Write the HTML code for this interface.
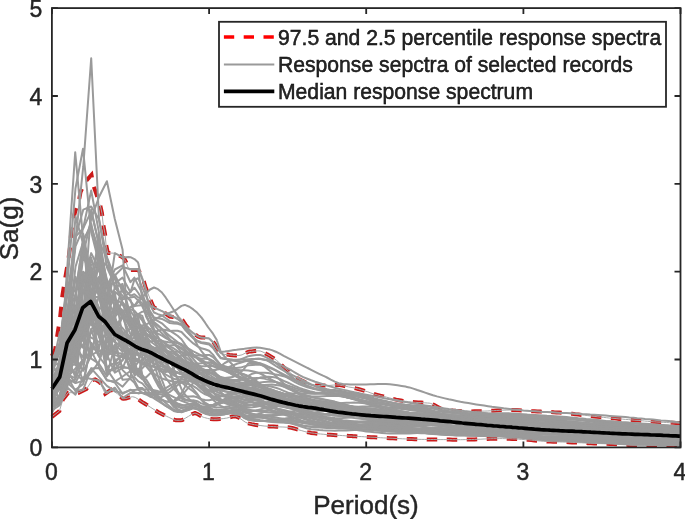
<!DOCTYPE html>
<html><head><meta charset="utf-8"><style>
html,body{margin:0;padding:0;background:#fff;overflow:hidden}
svg{display:block;will-change:transform}
text{font-family:"Liberation Sans",sans-serif;fill:#262626}
.g{fill:none;stroke:#9a9a9a;stroke-width:2;stroke-linejoin:round}
.r{fill:none;stroke:#cc1a1a;stroke-width:4;stroke-dasharray:10.5 9.5}
.g2{fill:none;stroke:#a8a8a8;stroke-width:1.0;stroke-linejoin:round}
.k{fill:none;stroke:#000;stroke-width:3.7;stroke-linejoin:round}
.ax{fill:none;stroke:#262626;stroke-width:1.8}
</style></head><body>
<svg width="685" height="519" viewBox="0 0 685 519">
<rect width="685" height="519" fill="#fff"/>
<g>
<polyline class="r" points="51.9,356.0 55.2,349.4 57.6,333.2 59.9,319.4 62.3,296.3 64.5,282.2 68.2,260.7 70.3,245.3 71.2,231.7 73.3,219.2 75.2,211.5 78.9,200.9 80.5,192.2 84.7,182.5 91.5,174.8 93.4,185.4 96.4,194.1 100.1,204.7 102.0,213.4 103.1,224.0 105.0,233.7 106.0,244.3 107.8,253.0 115.4,253.2 122.6,257.3 124.7,259.4 125.8,261.5 128.9,269.7 129.4,269.9 132.0,269.9 135.2,269.9 138.3,269.9 141.5,274.7 143.0,278.7 144.6,284.0 145.4,286.6 147.8,293.1 150.1,298.9 150.9,301.1 153.4,306.8 154.0,307.3 157.2,309.0 160.3,310.1 162.8,311.2 163.5,311.6 166.6,314.5 169.8,316.5 169.8,316.5 172.9,317.0 176.0,317.2 179.2,317.6 180.1,317.8 182.3,319.9 185.5,324.7 185.5,324.7 188.6,328.3 191.8,331.6 193.6,333.2 194.9,334.2 198.0,336.5 200.4,337.4 201.2,337.5 204.3,337.6 207.5,337.8 208.3,337.8 210.6,339.1 213.8,342.7 214.9,344.2 216.9,348.1 220.1,353.4 220.1,353.4 223.2,354.1 226.3,354.6 228.9,354.8 229.5,354.9 232.6,355.2 235.8,355.4 238.9,355.5 238.9,355.5 242.1,354.8 245.2,353.2 248.3,351.9 249.6,351.6 251.5,351.4 254.6,351.1 257.8,350.9 258.9,350.9 260.9,351.2 264.1,352.6 267.2,354.4 268.0,354.8 270.3,356.1 273.5,358.1 276.6,360.4 276.9,360.7 279.8,363.3 282.9,366.5 282.9,366.5 286.1,369.2 289.2,371.9 291.6,373.8 292.3,374.4 295.5,376.9 297.4,378.2 298.6,378.9 301.8,380.6 304.9,382.1 307.6,383.1 308.1,383.3 311.2,384.4 314.3,385.3 316.4,385.5 317.5,385.5 320.6,385.5 323.8,385.5 326.9,385.5 328.0,385.5 330.1,385.4 333.2,385.1 336.3,384.9 336.8,384.9 339.5,385.1 342.6,385.6 345.8,386.3 348.4,386.9 348.9,387.0 352.1,387.5 355.2,388.2 355.8,388.4 358.3,389.0 361.5,389.9 364.6,390.8 366.0,391.3 367.8,391.8 370.9,393.0 374.1,394.1 374.7,394.2 377.2,394.9 380.3,395.7 383.5,396.4 386.5,397.1 386.6,397.2 389.8,398.0 392.9,398.9 395.3,399.4 396.1,399.6 399.2,400.2 402.3,400.8 405.5,401.3 406.9,401.4 408.6,401.7 411.8,402.0 414.9,402.3 415.7,402.3 418.1,402.5 421.2,402.6 424.3,402.8 427.5,403.0 429.1,403.1 430.6,403.4 433.8,404.8 436.9,406.6 440.1,408.3 443.2,409.3 443.2,409.3 446.3,409.7 449.5,410.1 452.6,410.5 455.8,410.8 458.9,411.0 462.1,411.2 465.2,411.3 468.3,411.4 468.3,411.4 471.5,411.4 474.6,411.3 477.8,411.2 480.9,411.2 483.0,411.1 484.1,411.1 487.2,411.0 490.3,410.8 493.5,410.7 496.6,410.5 499.8,410.3 502.9,410.2 506.1,410.1 509.2,410.0 511.6,410.0 512.3,410.0 515.5,410.1 518.6,410.3 521.8,410.5 524.9,410.8 528.1,411.0 529.6,411.1 531.2,411.2 534.4,411.3 537.5,411.5 540.6,411.6 543.8,411.7 546.9,411.9 550.1,412.0 553.2,412.2 554.0,412.3 556.4,412.4 559.5,412.6 562.6,412.9 565.8,413.2 568.9,413.5 572.1,413.8 575.2,414.2 578.4,414.5 581.5,414.9 584.6,415.2 587.8,415.6 590.9,416.0 594.1,416.4 597.2,416.7 600.4,417.1 603.5,417.4 606.6,417.7 609.8,418.1 611.7,418.2 612.9,418.3 616.1,418.6 619.2,418.9 622.4,419.1 625.5,419.4 628.6,419.6 631.8,419.9 633.0,420.0 634.9,420.2 638.1,420.4 641.2,420.7 644.4,421.0 647.5,421.3 650.6,421.6 653.8,421.8 654.6,421.8 656.9,422.0 660.1,422.2 663.2,422.3 666.4,422.5 669.5,422.7 672.6,422.8 675.8,422.9 678.9,423.0 680.5,423.1"/>
<polyline class="r" points="51.9,416.9 59.4,411.0 62.9,399.5 68.2,392.7 78.8,392.7 86.5,388.9 92.3,380.2 95.1,379.4 100.1,382.5 105.2,393.7 111.3,389.6 117.4,393.7 122.6,398.6 123.6,398.8 125.8,398.5 128.9,397.6 132.0,396.8 132.8,396.8 135.2,397.4 138.3,399.3 141.5,401.6 141.9,401.9 144.6,403.5 147.8,405.5 150.1,407.0 150.9,407.5 154.0,409.5 157.2,411.5 158.4,412.3 160.3,413.3 163.5,414.9 166.6,416.3 168.5,417.2 169.8,417.8 172.9,419.3 176.0,420.3 176.7,420.3 179.2,420.3 180.8,420.3 182.3,420.0 185.5,418.1 187.0,417.2 188.6,416.3 191.8,414.2 194.9,413.1 195.1,413.1 198.0,414.2 201.2,416.2 203.2,417.2 204.3,417.5 207.5,418.4 210.6,419.1 213.5,419.3 213.8,419.3 216.9,419.2 220.1,418.9 223.2,418.6 225.9,418.2 226.3,418.2 229.5,417.4 232.6,416.5 235.0,416.2 235.8,416.3 238.9,417.6 242.1,419.9 245.2,422.1 247.9,423.3 248.3,423.4 251.5,424.1 254.6,424.7 257.8,425.2 260.9,425.6 264.1,426.0 267.2,426.2 269.4,426.4 270.3,426.5 273.5,426.6 276.6,426.8 279.8,426.9 282.9,427.0 286.1,427.2 287.6,427.3 289.2,427.4 292.3,428.0 295.5,428.8 298.6,429.8 301.8,430.7 304.9,431.6 308.1,432.4 309.6,432.6 311.2,432.9 314.3,433.3 317.5,433.7 320.6,434.0 323.8,434.3 326.9,434.6 328.0,434.7 330.1,434.8 333.2,435.0 336.3,435.3 339.5,435.4 342.6,435.6 345.8,435.8 348.9,436.0 352.1,436.1 352.5,436.2 355.2,436.3 358.3,436.5 361.5,436.6 364.6,436.8 367.8,437.0 370.9,437.2 374.1,437.3 377.2,437.5 380.3,437.7 383.5,437.9 386.6,438.0 389.8,438.2 392.9,438.3 396.1,438.5 399.2,438.6 402.3,438.8 405.5,438.9 408.6,439.0 411.8,439.1 414.9,439.2 418.1,439.3 421.2,439.4 424.3,439.4 427.5,439.5 429.1,439.5 430.6,439.5 433.8,439.5 436.9,439.6 440.1,439.6 443.2,439.6 446.3,439.6 449.5,439.6 452.6,439.7 455.8,439.7 458.9,439.7 460.5,439.7 462.1,439.7 465.2,439.6 468.3,439.6 471.5,439.5 474.6,439.4 477.8,439.3 480.9,439.2 484.1,439.0 487.2,438.9 490.3,438.8 493.5,438.7 496.6,438.7 499.8,438.6 502.6,438.6 502.9,438.6 506.1,438.7 509.2,438.7 512.3,438.9 515.5,439.0 518.6,439.2 521.8,439.4 524.9,439.6 525.7,439.7 528.1,439.8 531.2,440.1 534.4,440.4 537.5,440.7 540.6,441.1 543.8,441.3 546.9,441.5 546.9,441.5 550.1,441.6 553.2,441.8 556.4,441.8 559.5,441.9 562.6,442.0 565.8,442.1 568.9,442.2 568.9,442.2 572.1,442.4 575.2,442.5 578.4,442.7 581.5,442.8 584.6,443.0 587.8,443.2 590.1,443.3 590.9,443.3 594.1,443.4 597.2,443.5 600.4,443.6 603.5,443.7 606.6,443.8 609.8,443.9 611.4,444.0 612.9,444.0 616.1,444.2 619.2,444.4 622.4,444.6 625.5,444.8 628.6,445.0 631.8,445.1 633.2,445.1 634.9,445.1 638.1,445.2 641.2,445.2 644.4,445.3 647.5,445.3 650.6,445.3 653.8,445.4 654.6,445.4 656.9,445.4 660.1,445.5 663.2,445.5 666.4,445.6 669.5,445.6 672.6,445.7 675.8,445.7 678.9,445.8 680.5,445.8"/>
<polyline class="g2" points="100.1,204.7 102.0,213.4 103.1,224.0 105.0,233.7 106.0,244.3 107.8,253.0 115.4,253.2 122.6,257.3 124.7,259.4 125.8,261.5 128.9,269.7 129.4,269.9 132.0,269.9 135.2,269.9 138.3,269.9 141.5,274.7 143.0,278.7 144.6,284.0 145.4,286.6 147.8,293.1 150.1,298.9 150.9,301.1 153.4,306.8 154.0,307.3 157.2,309.0 160.3,310.1 162.8,311.2 163.5,311.6 166.6,314.5 169.8,316.5 169.8,316.5 172.9,317.0 176.0,317.2 179.2,317.6 180.1,317.8 182.3,319.9 185.5,324.7 185.5,324.7 188.6,328.3 191.8,331.6 193.6,333.2 194.9,334.2 198.0,336.5 200.4,337.4 201.2,337.5 204.3,337.6 207.5,337.8 208.3,337.8 210.6,339.1 213.8,342.7 214.9,344.2 216.9,348.1 220.1,353.4 220.1,353.4 223.2,354.1 226.3,354.6 228.9,354.8 229.5,354.9 232.6,355.2 235.8,355.4 238.9,355.5 238.9,355.5 242.1,354.8 245.2,353.2 248.3,351.9 249.6,351.6 251.5,351.4 254.6,351.1 257.8,350.9 258.9,350.9 260.9,351.2 264.1,352.6 267.2,354.4 268.0,354.8 270.3,356.1 273.5,358.1 276.6,360.4 276.9,360.7 279.8,363.3 282.9,366.5 282.9,366.5 286.1,369.2 289.2,371.9 291.6,373.8 292.3,374.4 295.5,376.9 297.4,378.2 298.6,378.9 301.8,380.6 304.9,382.1 307.6,383.1 308.1,383.3 311.2,384.4 314.3,385.3 316.4,385.5 317.5,385.5 320.6,385.5 323.8,385.5 326.9,385.5 328.0,385.5 330.1,385.4 333.2,385.1 336.3,384.9 336.8,384.9 339.5,385.1 342.6,385.6 345.8,386.3 348.4,386.9 348.9,387.0 352.1,387.5 355.2,388.2 355.8,388.4 358.3,389.0 361.5,389.9 364.6,390.8 366.0,391.3 367.8,391.8 370.9,393.0 374.1,394.1 374.7,394.2 377.2,394.9 380.3,395.7 383.5,396.4 386.5,397.1 386.6,397.2 389.8,398.0 392.9,398.9 395.3,399.4 396.1,399.6 399.2,400.2 402.3,400.8 405.5,401.3 406.9,401.4 408.6,401.7 411.8,402.0 414.9,402.3 415.7,402.3 418.1,402.5 421.2,402.6 424.3,402.8 427.5,403.0 429.1,403.1 430.6,403.4 433.8,404.8 436.9,406.6 440.1,408.3 443.2,409.3 443.2,409.3 446.3,409.7 449.5,410.1 452.6,410.5 455.8,410.8 458.9,411.0 462.1,411.2 465.2,411.3 468.3,411.4 468.3,411.4 471.5,411.4 474.6,411.3 477.8,411.2 480.9,411.2 483.0,411.1 484.1,411.1 487.2,411.0 490.3,410.8 493.5,410.7 496.6,410.5 499.8,410.3 502.9,410.2 506.1,410.1 509.2,410.0 511.6,410.0 512.3,410.0 515.5,410.1 518.6,410.3 521.8,410.5 524.9,410.8 528.1,411.0 529.6,411.1 531.2,411.2 534.4,411.3 537.5,411.5 540.6,411.6 543.8,411.7 546.9,411.9 550.1,412.0 553.2,412.2 554.0,412.3 556.4,412.4 559.5,412.6 562.6,412.9 565.8,413.2 568.9,413.5 572.1,413.8 575.2,414.2 578.4,414.5 581.5,414.9 584.6,415.2 587.8,415.6 590.9,416.0 594.1,416.4 597.2,416.7 600.4,417.1 603.5,417.4 606.6,417.7 609.8,418.1 611.7,418.2 612.9,418.3 616.1,418.6 619.2,418.9 622.4,419.1 625.5,419.4 628.6,419.6 631.8,419.9 633.0,420.0 634.9,420.2 638.1,420.4 641.2,420.7 644.4,421.0 647.5,421.3 650.6,421.6 653.8,421.8 654.6,421.8 656.9,422.0 660.1,422.2 663.2,422.3 666.4,422.5 669.5,422.7 672.6,422.8 675.8,422.9 678.9,423.0 680.5,423.1"/>
<polyline class="g2" points="51.9,416.9 59.4,411.0 62.9,399.5 68.2,392.7 78.8,392.7 86.5,388.9 92.3,380.2 95.1,379.4 100.1,382.5 105.2,393.7 111.3,389.6 117.4,393.7 122.6,398.6 123.6,398.8 125.8,398.5 128.9,397.6 132.0,396.8 132.8,396.8 135.2,397.4 138.3,399.3 141.5,401.6 141.9,401.9 144.6,403.5 147.8,405.5 150.1,407.0 150.9,407.5 154.0,409.5 157.2,411.5 158.4,412.3 160.3,413.3 163.5,414.9 166.6,416.3 168.5,417.2 169.8,417.8 172.9,419.3 176.0,420.3 176.7,420.3 179.2,420.3 180.8,420.3 182.3,420.0 185.5,418.1 187.0,417.2 188.6,416.3 191.8,414.2 194.9,413.1 195.1,413.1 198.0,414.2 201.2,416.2 203.2,417.2 204.3,417.5 207.5,418.4 210.6,419.1 213.5,419.3 213.8,419.3 216.9,419.2 220.1,418.9 223.2,418.6 225.9,418.2 226.3,418.2 229.5,417.4 232.6,416.5 235.0,416.2 235.8,416.3 238.9,417.6 242.1,419.9 245.2,422.1 247.9,423.3 248.3,423.4 251.5,424.1 254.6,424.7 257.8,425.2 260.9,425.6 264.1,426.0 267.2,426.2 269.4,426.4 270.3,426.5 273.5,426.6 276.6,426.8 279.8,426.9 282.9,427.0 286.1,427.2 287.6,427.3 289.2,427.4 292.3,428.0 295.5,428.8 298.6,429.8 301.8,430.7 304.9,431.6 308.1,432.4 309.6,432.6 311.2,432.9 314.3,433.3 317.5,433.7 320.6,434.0 323.8,434.3 326.9,434.6 328.0,434.7 330.1,434.8 333.2,435.0 336.3,435.3 339.5,435.4 342.6,435.6 345.8,435.8 348.9,436.0 352.1,436.1 352.5,436.2 355.2,436.3 358.3,436.5 361.5,436.6 364.6,436.8 367.8,437.0 370.9,437.2 374.1,437.3 377.2,437.5 380.3,437.7 383.5,437.9 386.6,438.0 389.8,438.2 392.9,438.3 396.1,438.5 399.2,438.6 402.3,438.8 405.5,438.9 408.6,439.0 411.8,439.1 414.9,439.2 418.1,439.3 421.2,439.4 424.3,439.4 427.5,439.5 429.1,439.5 430.6,439.5 433.8,439.5 436.9,439.6 440.1,439.6 443.2,439.6 446.3,439.6 449.5,439.6 452.6,439.7 455.8,439.7 458.9,439.7 460.5,439.7 462.1,439.7 465.2,439.6 468.3,439.6 471.5,439.5 474.6,439.4 477.8,439.3 480.9,439.2 484.1,439.0 487.2,438.9 490.3,438.8 493.5,438.7 496.6,438.7 499.8,438.6 502.6,438.6 502.9,438.6 506.1,438.7 509.2,438.7 512.3,438.9 515.5,439.0 518.6,439.2 521.8,439.4 524.9,439.6 525.7,439.7 528.1,439.8 531.2,440.1 534.4,440.4 537.5,440.7 540.6,441.1 543.8,441.3 546.9,441.5 546.9,441.5 550.1,441.6 553.2,441.8 556.4,441.8 559.5,441.9 562.6,442.0 565.8,442.1 568.9,442.2 568.9,442.2 572.1,442.4 575.2,442.5 578.4,442.7 581.5,442.8 584.6,443.0 587.8,443.2 590.1,443.3 590.9,443.3 594.1,443.4 597.2,443.5 600.4,443.6 603.5,443.7 606.6,443.8 609.8,443.9 611.4,444.0 612.9,444.0 616.1,444.2 619.2,444.4 622.4,444.6 625.5,444.8 628.6,445.0 631.8,445.1 633.2,445.1 634.9,445.1 638.1,445.2 641.2,445.2 644.4,445.3 647.5,445.3 650.6,445.3 653.8,445.4 654.6,445.4 656.9,445.4 660.1,445.5 663.2,445.5 666.4,445.6 669.5,445.6 672.6,445.7 675.8,445.7 678.9,445.8 680.5,445.8"/>
<polyline class="g" points="51.9,369.7 59.8,352.8 67.6,335.3 75.5,276.8 83.3,306.2 91.2,264.6 99.0,262.5 106.9,335.1 114.8,321.8 122.6,332.0 130.5,340.9 134.4,343.9 138.3,347.0 142.3,346.7 146.2,349.7 150.1,346.6 154.0,347.4 158.0,348.1 161.9,348.9 165.8,350.4 169.8,352.2 173.7,353.9 177.6,356.0 181.5,358.9 185.5,362.9 189.4,367.1 193.3,371.7 197.3,376.5 201.2,382.7 205.1,389.0 209.1,394.9 213.0,399.7 216.9,403.3 220.8,405.9 224.8,407.6 228.7,408.6 232.6,408.8 236.6,409.6 240.5,412.0 244.4,414.8 248.3,416.5 252.3,417.1 256.2,417.4 260.1,417.4 264.1,417.2 268.0,416.8 271.9,416.2 275.8,415.5 279.8,414.8 283.7,414.2 287.6,413.6 291.6,413.3 295.5,413.3 299.4,413.4 303.3,413.6 307.3,413.7 311.2,413.7 315.1,413.8 319.1,414.0 323.0,414.4 326.9,414.7 330.8,415.1 334.8,415.4 338.7,415.6 342.6,415.8 346.6,416.0 350.5,416.1 354.4,416.1 358.3,416.2 362.3,416.2 366.2,416.1 370.1,416.1 374.1,415.9 378.0,416.0 381.9,416.0 385.8,416.1 389.8,416.2 393.7,416.3 397.6,416.4 401.6,416.5 405.5,416.5 409.4,416.6 413.3,416.7 417.3,416.7 421.2,416.8 425.1,416.9 429.1,417.0 433.0,417.3 436.9,417.8 440.8,418.3 444.8,418.6 448.7,418.9 452.6,419.1 456.6,419.4 460.5,419.6 464.4,419.9 468.3,420.0 472.3,420.2 476.2,420.3 480.1,420.5 484.1,420.6 488.0,420.7 491.9,420.8 495.8,420.9 499.8,421.1 503.7,421.2 507.6,421.4 511.6,421.6 515.5,421.9 519.4,422.2 523.4,422.6 527.3,422.9 531.2,423.3 535.1,423.7 539.1,424.0 543.0,424.4 546.9,424.7 550.9,425.0 554.8,425.3 558.7,425.6 562.6,426.0 566.6,426.3 570.5,426.6 574.4,426.9 578.4,427.3 582.3,427.6 586.2,427.9 590.1,428.3 594.1,428.6 598.0,429.0 601.9,429.3 605.9,429.6 609.8,429.9 613.7,430.2 617.6,430.4 621.6,430.7 625.5,430.9 629.4,431.1 633.4,431.3 637.3,431.5 641.2,431.7 645.1,431.9 649.1,432.2 653.0,432.4 656.9,432.5 660.9,432.7 664.8,432.9 668.7,433.1 672.6,433.3 676.6,433.5 680.5,433.7"/>
<polyline class="g" points="51.9,373.5 59.8,344.5 67.6,282.1 75.5,292.0 83.3,240.7 91.2,299.1 99.0,234.2 106.9,284.1 114.8,283.3 122.6,277.6 130.5,292.3 134.4,279.7 138.3,278.2 142.3,287.7 146.2,296.3 150.1,305.0 154.0,312.5 158.0,314.2 161.9,315.5 165.8,318.3 169.8,321.1 173.7,321.9 177.6,322.6 181.5,324.4 185.5,329.9 189.4,334.3 193.3,338.2 197.3,341.4 201.2,343.1 205.1,343.7 209.1,344.5 213.0,347.9 216.9,353.5 220.8,358.3 224.8,359.0 228.7,359.3 232.6,359.6 236.6,359.8 240.5,359.5 244.4,357.9 248.3,356.2 252.3,355.5 256.2,355.0 260.1,354.9 264.1,356.3 268.0,358.3 271.9,360.4 275.8,363.0 279.8,366.4 283.7,370.1 287.6,373.4 291.6,376.6 295.5,379.7 299.4,382.3 303.3,384.4 307.3,386.2 311.2,387.8 315.1,389.0 319.1,389.5 323.0,390.0 326.9,390.4 330.8,390.8 334.8,391.0 338.7,391.4 342.6,392.2 346.6,393.1 350.5,393.9 354.4,394.6 358.3,395.4 362.3,396.3 366.2,397.3 370.1,398.3 374.1,399.3 378.0,400.1 381.9,400.8 385.8,401.5 389.8,402.3 393.7,403.1 397.6,403.7 401.6,404.3 405.5,404.8 409.4,405.1 413.3,405.4 417.3,405.7 421.2,405.9 425.1,406.1 429.1,406.3 433.0,407.4 436.9,409.1 440.8,410.8 444.8,411.6 448.7,412.1 452.6,412.5 456.6,412.9 460.5,413.2 464.4,413.4 468.3,413.5 472.3,413.6 476.2,413.6 480.1,413.6 484.1,413.6 488.0,413.6 491.9,413.5 495.8,413.4 499.8,413.3 503.7,413.3 507.6,413.3 511.6,413.4 515.5,413.6 519.4,413.9 523.4,414.2 527.3,414.6 531.2,414.9 535.1,415.1 539.1,415.3 543.0,415.5 546.9,415.8 550.9,416.0 554.8,416.2 558.7,416.5 562.6,416.8 566.6,417.1 570.5,417.4 574.4,417.8 578.4,418.2 582.3,418.5 586.2,419.0 590.1,419.3 594.1,419.7 598.0,420.1 601.9,420.5 605.9,420.9 609.8,421.2 613.7,421.6 617.6,421.9 621.6,422.2 625.5,422.4 629.4,422.7 633.4,423.0 637.3,423.4 641.2,423.7 645.1,424.0 649.1,424.4 653.0,424.7 656.9,424.9 660.9,425.2 664.8,425.5 668.7,425.7 672.6,426.0 676.6,426.2 680.5,426.4"/>
<polyline class="g" points="51.9,371.7 59.8,348.9 67.6,293.1 75.5,236.9 83.3,228.2 91.2,211.3 99.0,244.6 106.9,286.4 114.8,269.5 122.6,265.4 130.5,282.2 134.4,277.6 138.3,285.6 142.3,293.3 146.2,304.9 150.1,317.8 154.0,328.9 158.0,336.6 161.9,344.0 165.8,351.1 169.8,356.9 173.7,361.6 177.6,365.3 181.5,368.6 185.5,371.3 189.4,373.1 193.3,374.6 197.3,376.2 201.2,377.2 205.1,377.9 209.1,378.3 213.0,378.8 216.9,379.4 220.8,380.1 224.8,380.1 228.7,380.0 232.6,380.0 236.6,380.0 240.5,379.9 244.4,379.3 248.3,378.6 252.3,378.3 256.2,378.1 260.1,378.0 264.1,378.6 268.0,379.6 271.9,380.6 275.8,382.0 279.8,383.7 283.7,385.7 287.6,387.6 291.6,389.4 295.5,391.3 299.4,392.9 303.3,394.4 307.3,395.6 311.2,396.8 315.1,397.9 319.1,398.7 323.0,399.5 326.9,400.4 330.8,401.3 334.8,402.2 338.7,403.1 342.6,404.1 346.6,405.2 350.5,406.2 354.4,407.1 358.3,408.1 362.3,409.0 366.2,409.8 370.1,410.6 374.1,411.4 378.0,412.0 381.9,412.6 385.8,413.1 389.8,413.6 393.7,414.1 397.6,414.6 401.6,415.0 405.5,415.4 409.4,415.8 413.3,416.1 417.3,416.4 421.2,416.8 425.1,417.1 429.1,417.4 433.0,417.9 436.9,418.4 440.8,419.0 444.8,419.4 448.7,419.8 452.6,420.1 456.6,420.3 460.5,420.6 464.4,420.8 468.3,421.0 472.3,421.1 476.2,421.2 480.1,421.2 484.1,421.2 488.0,421.1 491.9,421.0 495.8,420.8 499.8,420.7 503.7,420.5 507.6,420.2 511.6,420.1 515.5,419.9 519.4,419.8 523.4,419.8 527.3,419.7 531.2,419.7 535.1,419.6 539.1,419.5 543.0,419.4 546.9,419.3 550.9,419.3 554.8,419.2 558.7,419.2 562.6,419.3 566.6,419.4 570.5,419.5 574.4,419.6 578.4,419.8 582.3,420.1 586.2,420.3 590.1,420.6 594.1,420.9 598.0,421.2 601.9,421.5 605.9,421.7 609.8,422.0 613.7,422.3 617.6,422.5 621.6,422.8 625.5,423.0 629.4,423.2 633.4,423.5 637.3,423.7 641.2,424.0 645.1,424.3 649.1,424.6 653.0,424.9 656.9,425.1 660.9,425.3 664.8,425.5 668.7,425.7 672.6,425.9 676.6,426.1 680.5,426.2"/>
<polyline class="g" points="51.9,398.9 59.8,358.7 67.6,361.8 75.5,322.2 83.3,275.1 91.2,289.6 99.0,313.1 106.9,324.4 114.8,330.7 122.6,351.3 130.5,335.3 134.4,369.9 138.3,369.6 142.3,378.1 146.2,384.2 150.1,388.9 154.0,394.5 158.0,399.1 161.9,402.8 165.8,405.9 169.8,408.5 173.7,411.0 177.6,412.1 181.5,412.1 185.5,410.0 189.4,407.5 193.3,405.1 197.3,404.8 201.2,406.2 205.1,406.5 209.1,406.0 213.0,405.0 216.9,403.2 220.8,401.1 224.8,398.8 228.7,396.6 232.6,394.5 236.6,392.8 240.5,391.5 244.4,390.3 248.3,389.1 252.3,387.9 256.2,386.7 260.1,385.6 264.1,385.0 268.0,384.7 271.9,384.6 275.8,384.9 279.8,385.5 283.7,386.5 287.6,387.6 291.6,388.7 295.5,389.9 299.4,390.9 303.3,391.8 307.3,392.5 311.2,393.1 315.1,393.6 319.1,393.7 323.0,393.7 326.9,393.9 330.8,394.0 334.8,394.0 338.7,394.3 342.6,395.0 346.6,395.9 350.5,396.8 354.4,397.8 358.3,398.9 362.3,400.1 366.2,401.4 370.1,402.9 374.1,404.3 378.0,405.5 381.9,406.7 385.8,407.8 389.8,409.1 393.7,410.3 397.6,411.4 401.6,412.4 405.5,413.4 409.4,414.4 413.3,415.3 417.3,416.2 421.2,417.2 425.1,418.1 429.1,419.1 433.0,420.1 436.9,421.9 440.8,423.7 444.8,425.2 448.7,426.7 452.6,427.9 456.6,429.1 460.5,430.1 464.4,431.0 468.3,431.7 472.3,432.3 476.2,432.8 480.1,433.2 484.1,433.5 488.0,433.8 491.9,434.1 495.8,434.3 499.8,434.5 503.7,434.7 507.6,435.0 511.6,435.3 515.5,435.6 519.4,436.0 523.4,436.3 527.3,436.6 531.2,437.0 535.1,437.4 539.1,437.9 543.0,438.2 546.9,438.5 550.9,438.7 554.8,438.8 558.7,438.9 562.6,439.0 566.6,439.1 570.5,439.2 574.4,439.3 578.4,439.5 582.3,439.7 586.2,439.8 590.1,440.0 594.1,440.1 598.0,440.1 601.9,440.2 605.9,440.2 609.8,440.3 613.7,440.4 617.6,440.6 621.6,440.7 625.5,440.9 629.4,441.0 633.4,441.0 637.3,441.0 641.2,440.9 645.1,440.8 649.1,440.7 653.0,440.6 656.9,440.5 660.9,440.4 664.8,440.4 668.7,440.3 672.6,440.2 676.6,440.1 680.5,440.1"/>
<polyline class="g" points="51.9,397.0 59.8,388.8 67.6,383.8 75.5,379.4 83.3,304.5 91.2,317.6 99.0,356.5 106.9,367.1 114.8,362.8 122.6,353.5 130.5,367.2 134.4,361.8 138.3,358.8 142.3,363.7 146.2,366.4 150.1,371.2 154.0,376.8 158.0,381.6 161.9,386.9 165.8,392.4 169.8,397.7 173.7,402.8 177.6,406.1 181.5,408.0 185.5,407.3 189.4,406.0 193.3,404.4 197.3,404.6 201.2,406.4 205.1,407.0 209.1,406.7 213.0,405.7 216.9,404.0 220.8,402.0 224.8,400.1 228.7,398.3 232.6,396.8 236.6,396.3 240.5,396.7 244.4,397.6 248.3,398.4 252.3,399.2 256.2,400.1 260.1,401.2 264.1,402.5 268.0,403.7 271.9,404.7 275.8,405.5 279.8,406.2 283.7,406.6 287.6,406.9 291.6,407.1 295.5,407.1 299.4,406.9 303.3,406.5 307.3,406.5 311.2,406.4 315.1,406.5 319.1,406.5 323.0,406.7 326.9,407.0 330.8,407.4 334.8,407.7 338.7,408.2 342.6,408.9 346.6,409.7 350.5,410.6 354.4,411.5 358.3,412.6 362.3,413.7 366.2,414.8 370.1,416.1 374.1,417.9 378.0,419.7 381.9,421.4 385.8,423.0 389.8,424.6 393.7,426.0 397.6,427.3 401.6,428.5 405.5,429.5 409.4,430.4 413.3,431.2 417.3,431.9 421.2,432.5 425.1,433.1 429.1,433.5 433.0,433.9 436.9,434.2 440.8,434.5 444.8,434.8 448.7,435.0 452.6,435.2 456.6,435.4 460.5,435.5 464.4,435.6 468.3,435.7 472.3,435.7 476.2,435.7 480.1,435.6 484.1,435.6 488.0,435.5 491.9,435.5 495.8,435.5 499.8,435.5 503.7,435.6 507.6,435.7 511.6,435.9 515.5,436.2 519.4,436.5 523.4,436.7 527.3,437.0 531.2,437.4 535.1,437.8 539.1,438.3 543.0,438.7 546.9,438.9 550.9,439.1 554.8,439.3 558.7,439.4 562.6,439.6 566.6,439.7 570.5,439.9 574.4,440.1 578.4,440.3 582.3,440.6 586.2,440.8 590.1,441.0 594.1,441.2 598.0,441.4 601.9,441.6 605.9,441.7 609.8,441.9 613.7,442.1 617.6,442.4 621.6,442.7 625.5,443.0 629.4,443.3 633.4,443.5 637.3,443.6 641.2,443.7 645.1,443.8 649.1,443.8 653.0,443.9 656.9,444.0 660.9,444.1 664.8,444.2 668.7,444.4 672.6,444.5 676.6,444.6 680.5,444.7"/>
<polyline class="g" points="51.9,376.7 59.8,378.1 67.6,366.2 75.5,337.9 83.3,240.1 91.2,308.2 99.0,326.1 106.9,351.4 114.8,318.4 122.6,299.4 130.5,297.5 134.4,296.7 138.3,300.6 142.3,306.3 146.2,314.7 150.1,323.4 154.0,331.9 158.0,337.4 161.9,343.0 165.8,348.9 169.8,354.5 173.7,359.6 177.6,364.8 181.5,371.7 185.5,379.0 189.4,384.7 193.3,389.2 197.3,394.0 201.2,399.5 205.1,404.0 209.1,407.6 213.0,410.2 216.9,411.7 220.8,412.7 224.8,413.2 228.7,413.1 232.6,412.6 236.6,412.9 240.5,415.2 244.4,418.1 248.3,419.8 252.3,420.5 256.2,420.9 260.1,421.1 264.1,421.1 268.0,421.0 271.9,420.6 275.8,420.1 279.8,419.5 283.7,418.8 287.6,418.2 291.6,417.7 295.5,417.5 299.4,417.4 303.3,417.3 307.3,417.1 311.2,416.9 315.1,416.7 319.1,416.7 323.0,417.0 326.9,417.5 330.8,418.2 334.8,419.0 338.7,419.8 342.6,420.7 346.6,421.6 350.5,422.6 354.4,423.5 358.3,424.4 362.3,425.3 366.2,426.1 370.1,426.9 374.1,427.6 378.0,428.2 381.9,428.8 385.8,429.3 389.8,429.7 393.7,430.1 397.6,430.5 401.6,430.8 405.5,431.0 409.4,431.2 413.3,431.4 417.3,431.5 421.2,431.6 425.1,431.7 429.1,431.8 433.0,431.8 436.9,431.8 440.8,431.9 444.8,431.9 448.7,432.0 452.6,432.0 456.6,432.1 460.5,432.1 464.4,432.2 468.3,432.2 472.3,432.2 476.2,432.2 480.1,432.1 484.1,432.1 488.0,432.1 491.9,432.0 495.8,432.0 499.8,432.0 503.7,432.0 507.6,432.1 511.6,432.3 515.5,432.4 519.4,432.5 523.4,432.7 527.3,432.8 531.2,433.0 535.1,433.1 539.1,433.2 543.0,433.3 546.9,433.3 550.9,433.2 554.8,433.0 558.7,432.8 562.6,432.6 566.6,432.3 570.5,432.1 574.4,431.8 578.4,431.5 582.3,431.4 586.2,431.3 590.1,431.3 594.1,431.2 598.0,431.2 601.9,431.2 605.9,431.2 609.8,431.2 613.7,431.2 617.6,431.2 621.6,431.3 625.5,431.3 629.4,431.4 633.4,431.4 637.3,431.5 641.2,431.6 645.1,431.8 649.1,431.9 653.0,432.1 656.9,432.3 660.9,432.5 664.8,432.7 668.7,432.9 672.6,433.1 676.6,433.4 680.5,433.6"/>
<polyline class="g" points="51.9,372.9 59.8,385.6 67.6,313.4 75.5,358.0 83.3,382.2 91.2,342.8 99.0,356.4 106.9,342.6 114.8,320.0 122.6,328.2 130.5,338.1 134.4,315.5 138.3,314.2 142.3,315.9 146.2,328.0 150.1,333.8 154.0,340.8 158.0,346.8 161.9,353.3 165.8,360.0 169.8,371.8 173.7,382.6 177.6,391.0 181.5,396.9 185.5,399.5 189.4,400.8 193.3,401.4 197.3,403.5 201.2,407.1 205.1,409.7 209.1,411.6 213.0,412.9 216.9,413.5 220.8,413.7 224.8,413.7 228.7,413.3 232.6,412.6 236.6,412.8 240.5,415.0 244.4,417.8 248.3,419.5 252.3,420.2 256.2,420.7 260.1,420.9 264.1,421.0 268.0,421.0 271.9,420.7 275.8,420.3 279.8,419.8 283.7,419.2 287.6,418.6 291.6,418.1 295.5,417.8 299.4,417.4 303.3,416.8 307.3,415.9 311.2,414.5 315.1,413.0 319.1,411.5 323.0,410.0 326.9,409.5 330.8,409.3 334.8,409.0 338.7,408.7 342.6,408.5 346.6,408.4 350.5,408.4 354.4,408.5 358.3,408.6 362.3,408.9 366.2,409.3 370.1,409.7 374.1,410.2 378.0,410.6 381.9,411.1 385.8,411.5 389.8,412.0 393.7,412.5 397.6,412.9 401.6,413.3 405.5,413.7 409.4,414.0 413.3,414.4 417.3,414.6 421.2,414.9 425.1,415.2 429.1,415.5 433.0,416.0 436.9,416.8 440.8,417.5 444.8,418.0 448.7,418.4 452.6,418.7 456.6,419.1 460.5,419.4 464.4,419.7 468.3,420.0 472.3,420.2 476.2,420.5 480.1,420.7 484.1,420.9 488.0,421.1 491.9,421.3 495.8,421.6 499.8,421.8 503.7,422.1 507.6,422.4 511.6,422.8 515.5,423.2 519.4,423.7 523.4,424.2 527.3,424.7 531.2,425.2 535.1,425.8 539.1,426.3 543.0,426.8 546.9,427.3 550.9,427.8 554.8,428.4 558.7,428.9 562.6,429.4 566.6,429.8 570.5,430.3 574.4,430.8 578.4,431.3 582.3,431.8 586.2,432.4 590.1,433.1 594.1,433.7 598.0,434.4 601.9,434.9 605.9,435.5 609.8,436.0 613.7,436.5 617.6,437.1 621.6,437.6 625.5,438.1 629.4,438.6 633.4,438.9 637.3,439.2 641.2,439.4 645.1,439.6 649.1,439.8 653.0,440.0 656.9,440.1 660.9,440.2 664.8,440.4 668.7,440.4 672.6,440.5 676.6,440.6 680.5,440.6"/>
<polyline class="g" points="51.9,366.2 59.8,362.8 67.6,331.6 75.5,320.5 83.3,256.2 91.2,276.7 99.0,241.6 106.9,258.2 114.8,288.0 122.6,295.8 130.5,299.8 134.4,313.5 138.3,317.5 142.3,339.6 146.2,338.0 150.1,345.3 154.0,348.8 158.0,352.3 161.9,355.5 165.8,358.5 169.8,361.4 173.7,364.3 177.6,368.6 181.5,373.0 185.5,376.5 189.4,379.5 193.3,382.0 197.3,384.7 201.2,387.4 205.1,389.3 209.1,390.5 213.0,391.0 216.9,390.8 220.8,390.1 224.8,389.3 228.7,388.4 232.6,388.0 236.6,387.7 240.5,387.2 244.4,386.5 248.3,385.5 252.3,384.4 256.2,383.4 260.1,382.4 264.1,381.9 268.0,381.8 271.9,381.8 275.8,382.1 279.8,382.9 283.7,384.1 287.6,385.4 291.6,386.7 295.5,388.2 299.4,389.4 303.3,390.5 307.3,391.4 311.2,392.2 315.1,392.9 319.1,393.0 323.0,393.2 326.9,393.3 330.8,393.5 334.8,393.5 338.7,393.7 342.6,394.2 346.6,395.0 350.5,395.6 354.4,396.3 358.3,397.1 362.3,398.0 366.2,398.9 370.1,400.0 374.1,401.0 378.0,401.9 381.9,402.6 385.8,403.4 389.8,404.2 393.7,405.1 397.6,405.8 401.6,406.4 405.5,407.0 409.4,407.6 413.3,408.1 417.3,408.5 421.2,408.9 425.1,409.4 429.1,409.9 433.0,411.0 436.9,412.6 440.8,414.1 444.8,414.9 448.7,415.6 452.6,416.2 456.6,416.9 460.5,417.5 464.4,418.0 468.3,418.6 472.3,419.1 476.2,419.6 480.1,420.1 484.1,420.6 488.0,421.1 491.9,421.6 495.8,422.1 499.8,422.7 503.7,423.2 507.6,423.8 511.6,424.4 515.5,425.0 519.4,425.6 523.4,426.2 527.3,426.8 531.2,427.4 535.1,427.9 539.1,428.5 543.0,428.9 546.9,429.4 550.9,429.8 554.8,430.2 558.7,430.6 562.6,431.0 566.6,431.4 570.5,431.8 574.4,432.1 578.4,432.5 582.3,432.9 586.2,433.2 590.1,433.5 594.1,433.8 598.0,434.2 601.9,434.4 605.9,434.7 609.8,434.9 613.7,435.2 617.6,435.4 621.6,435.7 625.5,435.9 629.4,436.1 633.4,436.2 637.3,436.3 641.2,436.4 645.1,436.4 649.1,436.5 653.0,436.5 656.9,436.6 660.9,436.6 664.8,436.6 668.7,436.6 672.6,436.6 676.6,436.6 680.5,436.6"/>
<polyline class="g" points="51.9,413.3 59.8,396.0 67.6,349.7 75.5,337.9 83.3,242.4 91.2,317.9 99.0,348.6 106.9,312.8 114.8,328.3 122.6,316.1 130.5,316.8 134.4,324.4 138.3,322.6 142.3,329.0 146.2,327.0 150.1,333.8 154.0,339.0 158.0,343.4 161.9,347.9 165.8,352.4 169.8,356.4 173.7,359.7 177.6,362.4 181.5,364.9 185.5,367.4 189.4,369.8 193.3,372.7 197.3,375.7 201.2,378.8 205.1,383.1 209.1,387.7 213.0,392.1 216.9,396.0 220.8,399.2 224.8,401.7 228.7,403.5 232.6,404.5 236.6,405.8 240.5,408.4 244.4,411.3 248.3,413.2 252.3,414.1 256.2,414.7 260.1,415.1 264.1,415.2 268.0,415.3 271.9,415.2 275.8,415.0 279.8,414.7 283.7,414.5 287.6,414.3 291.6,414.2 295.5,414.3 299.4,414.4 303.3,414.4 307.3,414.1 311.2,413.5 315.1,412.8 319.1,412.0 323.0,411.2 326.9,410.4 330.8,410.3 334.8,410.2 338.7,410.0 342.6,409.8 346.6,409.8 350.5,409.7 354.4,409.8 358.3,410.0 362.3,410.3 366.2,410.7 370.1,411.2 374.1,411.8 378.0,412.4 381.9,413.0 385.8,413.7 389.8,414.4 393.7,415.1 397.6,415.8 401.6,416.5 405.5,417.2 409.4,417.9 413.3,418.5 417.3,419.7 421.2,420.9 425.1,422.0 429.1,422.9 433.0,423.8 436.9,424.5 440.8,425.1 444.8,425.6 448.7,426.1 452.6,426.4 456.6,426.7 460.5,426.9 464.4,427.0 468.3,427.1 472.3,427.0 476.2,427.0 480.1,426.9 484.1,426.8 488.0,426.7 491.9,426.6 495.8,426.5 499.8,426.4 503.7,426.4 507.6,426.4 511.6,426.5 515.5,426.5 519.4,426.6 523.4,426.7 527.3,426.8 531.2,426.8 535.1,426.9 539.1,427.0 543.0,427.0 546.9,427.1 550.9,427.1 554.8,427.1 558.7,427.2 562.6,427.2 566.6,427.3 570.5,427.4 574.4,427.5 578.4,427.6 582.3,427.7 586.2,427.9 590.1,428.1 594.1,428.3 598.0,428.4 601.9,428.6 605.9,428.8 609.8,429.1 613.7,429.2 617.6,429.4 621.6,429.6 625.5,429.8 629.4,429.9 633.4,430.1 637.3,430.3 641.2,430.5 645.1,430.7 649.1,430.9 653.0,431.1 656.9,431.3 660.9,431.4 664.8,431.6 668.7,431.8 672.6,432.0 676.6,432.2 680.5,432.4"/>
<polyline class="g" points="51.9,397.7 59.8,379.1 67.6,319.9 75.5,334.4 83.3,347.9 91.2,311.2 99.0,330.4 106.9,293.3 114.8,301.1 122.6,314.1 130.5,346.3 134.4,342.2 138.3,333.3 142.3,345.5 146.2,342.9 150.1,345.4 154.0,348.4 158.0,349.4 161.9,350.1 165.8,350.9 169.8,351.6 173.7,351.8 177.6,351.7 181.5,351.9 185.5,353.5 189.4,355.0 193.3,356.5 197.3,358.0 201.2,358.7 205.1,358.7 209.1,359.0 213.0,360.8 216.9,364.1 220.8,367.2 224.8,367.7 228.7,368.3 232.6,368.9 236.6,369.7 240.5,370.3 244.4,370.3 248.3,370.4 252.3,371.2 256.2,372.2 260.1,373.5 264.1,375.5 268.0,377.7 271.9,379.9 275.8,382.0 279.8,384.3 283.7,386.6 287.6,388.6 291.6,390.4 295.5,392.2 299.4,393.7 303.3,394.9 307.3,396.0 311.2,397.0 315.1,397.9 319.1,398.5 323.0,399.2 326.9,400.0 330.8,400.8 334.8,401.6 338.7,402.6 342.6,403.8 346.6,405.0 350.5,406.2 354.4,407.4 358.3,408.7 362.3,409.9 366.2,411.0 370.1,412.2 374.1,413.2 378.0,414.1 381.9,414.9 385.8,415.7 389.8,416.5 393.7,417.3 397.6,418.8 401.6,420.1 405.5,421.4 409.4,422.8 413.3,424.0 417.3,425.2 421.2,426.3 425.1,427.4 429.1,428.4 433.0,429.4 436.9,430.3 440.8,431.1 444.8,431.9 448.7,432.6 452.6,433.3 456.6,433.9 460.5,434.4 464.4,434.9 468.3,435.3 472.3,435.6 476.2,435.8 480.1,436.0 484.1,436.1 488.0,436.2 491.9,436.4 495.8,436.5 499.8,436.6 503.7,436.7 507.6,436.9 511.6,437.2 515.5,437.5 519.4,437.8 523.4,438.1 527.3,438.4 531.2,438.8 535.1,439.2 539.1,439.7 543.0,440.0 546.9,440.3 550.9,440.5 554.8,440.6 558.7,440.7 562.6,440.7 566.6,440.8 570.5,440.9 574.4,441.0 578.4,441.2 582.3,441.3 586.2,441.4 590.1,441.5 594.1,441.5 598.0,441.4 601.9,441.4 605.9,441.3 609.8,441.2 613.7,441.2 617.6,441.1 621.6,441.1 625.5,440.9 629.4,440.8 633.4,440.4 637.3,440.0 641.2,439.5 645.1,438.9 649.1,438.3 653.0,437.6 656.9,437.0 660.9,436.2 664.8,435.5 668.7,435.3 672.6,435.1 676.6,434.9 680.5,434.8"/>
<polyline class="g" points="51.9,406.8 59.8,404.1 67.6,378.6 75.5,383.1 83.3,380.6 91.2,368.6 99.0,368.1 106.9,379.9 114.8,382.5 122.6,393.9 130.5,389.7 134.4,392.2 138.3,393.4 142.3,392.6 146.2,394.0 150.1,395.1 154.0,398.3 158.0,401.0 161.9,403.5 165.8,405.8 169.8,408.0 173.7,410.2 177.6,411.1 181.5,411.2 185.5,409.2 189.4,407.1 193.3,405.2 197.3,405.7 201.2,408.1 205.1,409.7 209.1,410.9 213.0,411.7 216.9,411.8 220.8,411.8 224.8,411.7 228.7,411.2 232.6,410.5 236.6,410.8 240.5,413.0 244.4,415.8 248.3,417.7 252.3,418.7 256.2,419.5 260.1,420.2 264.1,420.7 268.0,421.2 271.9,421.6 275.8,421.9 279.8,422.1 283.7,422.3 287.6,422.5 291.6,423.0 295.5,423.8 299.4,424.8 303.3,425.7 307.3,426.5 311.2,426.9 315.1,427.2 319.1,427.5 323.0,427.7 326.9,427.9 330.8,428.1 334.8,428.2 338.7,428.4 342.6,428.5 346.6,428.7 350.5,428.8 354.4,429.0 358.3,429.1 362.3,429.3 366.2,429.4 370.1,429.6 374.1,429.7 378.0,429.8 381.9,429.8 385.8,429.9 389.8,429.9 393.7,429.9 397.6,429.9 401.6,429.8 405.5,429.7 409.4,429.6 413.3,429.5 417.3,429.3 421.2,429.2 425.1,429.0 429.1,428.9 433.0,428.8 436.9,428.8 440.8,428.8 444.8,428.8 448.7,428.9 452.6,429.1 456.6,429.2 460.5,429.4 464.4,429.6 468.3,429.8 472.3,430.0 476.2,430.2 480.1,430.5 484.1,430.6 488.0,430.8 491.9,431.0 495.8,431.2 499.8,431.5 503.7,431.7 507.6,431.9 511.6,432.2 515.5,432.5 519.4,432.9 523.4,433.2 527.3,433.4 531.2,433.8 535.1,434.1 539.1,434.4 543.0,434.6 546.9,434.7 550.9,434.8 554.8,434.7 558.7,434.7 562.6,434.6 566.6,434.4 570.5,434.3 574.4,434.2 578.4,434.0 582.3,433.8 586.2,433.5 590.1,433.3 594.1,433.0 598.0,432.7 601.9,432.5 605.9,432.5 609.8,432.4 613.7,432.4 617.6,432.3 621.6,432.2 625.5,432.2 629.4,432.2 633.4,432.1 637.3,432.1 641.2,432.2 645.1,432.2 649.1,432.3 653.0,432.4 656.9,432.5 660.9,432.7 664.8,432.8 668.7,433.0 672.6,433.2 676.6,433.5 680.5,433.7"/>
<polyline class="g" points="51.9,398.5 59.8,372.2 67.6,314.9 75.5,294.7 83.3,325.8 91.2,271.5 99.0,280.6 106.9,301.8 114.8,274.5 122.6,291.5 130.5,301.2 134.4,306.1 138.3,300.1 142.3,303.2 146.2,316.9 150.1,324.3 154.0,331.0 158.0,333.7 161.9,335.7 165.8,338.2 169.8,340.4 173.7,341.7 177.6,343.1 181.5,345.4 185.5,349.9 189.4,354.3 193.3,359.0 197.3,363.7 201.2,368.2 205.1,372.7 209.1,377.4 213.0,382.2 216.9,387.2 220.8,392.0 224.8,395.9 228.7,398.9 232.6,401.0 236.6,403.2 240.5,406.4 244.4,410.0 248.3,412.7 252.3,414.4 256.2,415.7 260.1,416.8 264.1,417.7 268.0,418.4 271.9,419.0 275.8,419.3 279.8,419.5 283.7,419.8 287.6,420.0 291.6,420.4 295.5,421.2 299.4,422.1 303.3,422.9 307.3,423.6 311.2,424.0 315.1,424.3 319.1,424.6 323.0,424.9 326.9,425.1 330.8,425.4 334.8,425.6 338.7,425.8 342.6,425.9 346.6,426.0 350.5,426.1 354.4,426.2 358.3,426.2 362.3,426.2 366.2,426.2 370.1,426.1 374.1,425.9 378.0,425.7 381.9,425.3 385.8,424.9 389.8,424.4 393.7,423.8 397.6,423.1 401.6,422.3 405.5,421.3 409.4,420.3 413.3,419.2 417.3,418.5 421.2,418.3 425.1,418.1 429.1,417.9 433.0,417.9 436.9,418.1 440.8,418.4 444.8,418.6 448.7,418.8 452.6,419.0 456.6,419.2 460.5,419.5 464.4,419.7 468.3,419.9 472.3,420.2 476.2,420.4 480.1,420.7 484.1,421.0 488.0,421.3 491.9,421.7 495.8,422.1 499.8,422.5 503.7,423.0 507.6,423.5 511.6,424.1 515.5,424.8 519.4,425.5 523.4,426.2 527.3,426.9 531.2,427.6 535.1,428.2 539.1,428.9 543.0,429.5 546.9,430.1 550.9,430.8 554.8,431.5 558.7,432.1 562.6,432.7 566.6,433.2 570.5,433.7 574.4,434.2 578.4,434.7 582.3,435.2 586.2,435.7 590.1,436.1 594.1,436.5 598.0,436.9 601.9,437.2 605.9,437.5 609.8,437.8 613.7,438.1 617.6,438.5 621.6,438.8 625.5,439.2 629.4,439.5 633.4,439.7 637.3,439.8 641.2,439.9 645.1,440.0 649.1,440.1 653.0,440.2 656.9,440.3 660.9,440.4 664.8,440.4 668.7,440.5 672.6,440.6 676.6,440.7 680.5,440.8"/>
<polyline class="g" points="51.9,406.4 59.8,402.8 67.6,373.2 75.5,382.7 83.3,367.8 91.2,329.7 99.0,319.4 106.9,335.5 114.8,339.8 122.6,370.1 130.5,377.8 134.4,377.1 138.3,381.4 142.3,383.4 146.2,387.8 150.1,393.8 154.0,395.6 158.0,398.2 161.9,400.1 165.8,401.2 169.8,401.4 173.7,400.7 177.6,397.8 181.5,393.0 185.5,386.1 189.4,379.8 193.3,375.1 197.3,373.9 201.2,373.1 205.1,372.6 209.1,372.4 213.0,373.3 216.9,375.2 220.8,377.1 224.8,378.0 228.7,378.9 232.6,380.0 236.6,381.2 240.5,382.3 244.4,383.1 248.3,384.0 252.3,385.0 256.2,386.2 260.1,387.5 264.1,389.1 268.0,390.8 271.9,392.5 275.8,394.1 279.8,395.8 283.7,397.4 287.6,398.9 291.6,400.2 295.5,401.5 299.4,402.6 303.3,403.5 307.3,404.3 311.2,405.1 315.1,405.7 319.1,406.5 323.0,407.2 326.9,408.0 330.8,408.8 334.8,409.5 338.7,410.2 342.6,410.9 346.6,411.6 350.5,412.4 354.4,413.1 358.3,413.9 362.3,414.7 366.2,415.5 370.1,416.7 374.1,417.9 378.0,419.1 381.9,420.2 385.8,421.4 389.8,422.5 393.7,423.6 397.6,424.7 401.6,425.6 405.5,426.6 409.4,427.4 413.3,428.1 417.3,428.7 421.2,429.3 425.1,429.8 429.1,430.2 433.0,430.5 436.9,430.8 440.8,431.1 444.8,431.3 448.7,431.5 452.6,431.6 456.6,431.7 460.5,431.7 464.4,431.7 468.3,431.7 472.3,431.6 476.2,431.5 480.1,431.4 484.1,431.3 488.0,431.2 491.9,431.1 495.8,431.0 499.8,430.9 503.7,430.9 507.6,430.9 511.6,431.0 515.5,431.1 519.4,431.2 523.4,431.3 527.3,431.4 531.2,431.6 535.1,431.7 539.1,431.9 543.0,431.9 546.9,432.0 550.9,431.9 554.8,431.9 558.7,431.8 562.6,431.7 566.6,431.6 570.5,431.4 574.4,431.3 578.4,431.3 582.3,431.3 586.2,431.3 590.1,431.4 594.1,431.4 598.0,431.5 601.9,431.5 605.9,431.6 609.8,431.7 613.7,431.7 617.6,431.8 621.6,431.8 625.5,431.9 629.4,432.0 633.4,432.0 637.3,432.1 641.2,432.2 645.1,432.3 649.1,432.5 653.0,432.6 656.9,432.7 660.9,432.9 664.8,433.1 668.7,433.3 672.6,433.4 676.6,433.6 680.5,433.8"/>
<polyline class="g" points="51.9,380.7 59.8,402.0 67.6,385.9 75.5,346.4 83.3,339.6 91.2,353.7 99.0,321.2 106.9,369.2 114.8,380.9 122.6,386.7 130.5,377.4 134.4,356.9 138.3,362.1 142.3,347.2 146.2,336.2 150.1,335.3 154.0,337.5 158.0,338.5 161.9,340.7 165.8,344.3 169.8,348.3 173.7,352.1 177.6,355.8 181.5,359.6 185.5,363.5 189.4,366.9 193.3,370.0 197.3,372.7 201.2,374.9 205.1,376.7 209.1,378.3 213.0,380.0 216.9,381.6 220.8,382.9 224.8,383.7 228.7,384.4 232.6,385.1 236.6,385.9 240.5,386.5 244.4,386.9 248.3,387.3 252.3,387.9 256.2,388.5 260.1,389.4 264.1,390.7 268.0,392.3 271.9,394.0 275.8,395.8 279.8,397.8 283.7,399.8 287.6,401.7 291.6,403.5 295.5,405.2 299.4,407.3 303.3,409.4 307.3,411.5 311.2,413.3 315.1,415.0 319.1,416.7 323.0,418.1 326.9,419.4 330.8,420.5 334.8,421.4 338.7,422.2 342.6,422.8 346.6,423.3 350.5,423.8 354.4,424.2 358.3,424.5 362.3,424.8 366.2,425.1 370.1,425.4 374.1,425.7 378.0,425.9 381.9,426.2 385.8,426.5 389.8,426.8 393.7,427.1 397.6,427.5 401.6,427.8 405.5,428.2 409.4,428.5 413.3,428.9 417.3,429.2 421.2,429.6 425.1,429.9 429.1,430.2 433.0,430.5 436.9,430.8 440.8,431.1 444.8,431.3 448.7,431.6 452.6,431.7 456.6,431.9 460.5,432.1 464.4,432.2 468.3,432.3 472.3,432.4 476.2,432.4 480.1,432.3 484.1,432.3 488.0,432.3 491.9,432.2 495.8,432.2 499.8,432.2 503.7,432.2 507.6,432.3 511.6,432.5 515.5,432.6 519.4,432.8 523.4,433.0 527.3,433.2 531.2,433.5 535.1,433.8 539.1,434.1 543.0,434.3 546.9,434.5 550.9,434.7 554.8,434.8 558.7,434.9 562.6,435.0 566.6,435.1 570.5,435.2 574.4,435.4 578.4,435.6 582.3,435.9 586.2,436.1 590.1,436.4 594.1,436.6 598.0,436.9 601.9,437.2 605.9,437.4 609.8,437.7 613.7,438.0 617.6,438.4 621.6,438.8 625.5,439.2 629.4,439.6 633.4,439.9 637.3,440.1 641.2,440.3 645.1,440.6 649.1,440.8 653.0,441.0 656.9,441.2 660.9,441.4 664.8,441.6 668.7,441.9 672.6,442.1 676.6,442.3 680.5,442.5"/>
<polyline class="g" points="51.9,403.5 59.8,401.9 67.6,382.6 75.5,353.6 83.3,344.3 91.2,317.5 99.0,250.9 106.9,280.4 114.8,299.3 122.6,303.3 130.5,319.2 134.4,336.6 138.3,325.6 142.3,335.9 146.2,341.2 150.1,347.0 154.0,355.9 158.0,368.1 161.9,379.9 165.8,390.1 169.8,398.4 173.7,405.0 177.6,409.1 181.5,411.4 185.5,410.9 189.4,409.7 193.3,408.4 197.3,409.2 201.2,412.0 205.1,413.7 209.1,414.9 213.0,415.5 216.9,415.4 220.8,415.0 224.8,414.4 228.7,413.5 232.6,412.2 236.6,411.8 240.5,413.3 244.4,415.2 248.3,415.9 252.3,415.5 256.2,414.7 260.1,413.5 264.1,412.1 268.0,410.4 271.9,408.6 275.8,406.7 279.8,404.8 283.7,403.2 287.6,402.4 291.6,402.0 295.5,401.9 299.4,402.0 303.3,402.3 307.3,402.7 311.2,403.1 315.1,403.7 319.1,404.3 323.0,405.1 326.9,406.0 330.8,406.9 334.8,407.8 338.7,408.8 342.6,409.7 346.6,410.7 350.5,411.6 354.4,412.5 358.3,413.2 362.3,414.0 366.2,414.7 370.1,415.3 374.1,415.9 378.0,416.7 381.9,417.6 385.8,418.4 389.8,419.2 393.7,420.1 397.6,420.9 401.6,421.9 405.5,422.8 409.4,423.7 413.3,424.6 417.3,425.6 421.2,426.5 425.1,427.4 429.1,428.3 433.0,429.1 436.9,429.9 440.8,430.7 444.8,431.4 448.7,432.1 452.6,432.6 456.6,433.2 460.5,433.7 464.4,434.1 468.3,434.5 472.3,434.7 476.2,434.9 480.1,435.1 484.1,435.2 488.0,435.3 491.9,435.4 495.8,435.6 499.8,435.7 503.7,435.8 507.6,436.1 511.6,436.3 515.5,436.7 519.4,437.0 523.4,437.4 527.3,437.7 531.2,438.1 535.1,438.6 539.1,439.1 543.0,439.5 546.9,439.9 550.9,440.1 554.8,440.3 558.7,440.5 562.6,440.6 566.6,440.8 570.5,441.0 574.4,441.3 578.4,441.5 582.3,441.8 586.2,442.0 590.1,442.2 594.1,442.4 598.0,442.6 601.9,442.7 605.9,442.9 609.8,443.0 613.7,443.2 617.6,443.5 621.6,443.8 625.5,444.0 629.4,444.2 633.4,444.4 637.3,444.4 641.2,444.5 645.1,444.5 649.1,444.6 653.0,444.6 656.9,444.6 660.9,444.7 664.8,444.7 668.7,444.8 672.6,444.9 676.6,444.9 680.5,445.0"/>
<polyline class="g" points="51.9,402.2 59.8,369.6 67.6,366.0 75.5,364.3 83.3,326.9 91.2,269.1 99.0,289.7 106.9,307.2 114.8,368.3 122.6,366.5 130.5,368.9 134.4,373.0 138.3,372.8 142.3,368.2 146.2,364.4 150.1,366.6 154.0,366.4 158.0,369.0 161.9,371.8 165.8,374.5 169.8,376.8 173.7,378.7 177.6,379.6 181.5,379.8 185.5,379.0 189.4,378.5 193.3,378.6 197.3,379.3 201.2,380.1 205.1,380.9 209.1,381.9 213.0,382.9 216.9,383.8 220.8,384.6 224.8,385.3 228.7,386.0 232.6,386.8 236.6,387.7 240.5,388.6 244.4,389.5 248.3,390.6 252.3,391.8 256.2,393.1 260.1,394.6 264.1,396.3 268.0,398.1 271.9,399.9 275.8,401.6 279.8,403.2 283.7,404.6 287.6,405.8 291.6,406.9 295.5,407.8 299.4,408.7 303.3,409.3 307.3,409.5 311.2,409.6 315.1,409.3 319.1,409.0 323.0,409.1 326.9,409.2 330.8,409.2 334.8,409.0 338.7,408.6 342.6,408.2 346.6,407.9 350.5,407.5 354.4,407.1 358.3,406.8 362.3,406.6 366.2,406.5 370.1,406.5 374.1,406.7 378.0,406.8 381.9,407.0 385.8,407.3 389.8,407.7 393.7,408.1 397.6,408.6 401.6,409.1 405.5,409.5 409.4,410.0 413.3,410.5 417.3,411.0 421.2,411.5 425.1,412.0 429.1,412.7 433.0,413.8 436.9,415.2 440.8,416.5 444.8,417.4 448.7,418.2 452.6,419.1 456.6,419.9 460.5,420.7 464.4,421.5 468.3,422.3 472.3,423.1 476.2,423.9 480.1,424.8 484.1,426.0 488.0,427.2 491.9,428.2 495.8,429.0 499.8,429.9 503.7,430.6 507.6,431.3 511.6,432.1 515.5,432.7 519.4,433.4 523.4,434.1 527.3,434.7 531.2,435.3 535.1,436.0 539.1,436.6 543.0,437.2 546.9,437.7 550.9,438.1 554.8,438.4 558.7,438.6 562.6,438.9 566.6,439.1 570.5,439.3 574.4,439.6 578.4,439.9 582.3,440.2 586.2,440.4 590.1,440.6 594.1,440.8 598.0,441.0 601.9,441.1 605.9,441.2 609.8,441.4 613.7,441.5 617.6,441.8 621.6,442.0 625.5,442.2 629.4,442.4 633.4,442.5 637.3,442.5 641.2,442.5 645.1,442.4 649.1,442.4 653.0,442.3 656.9,442.3 660.9,442.3 664.8,442.3 668.7,442.2 672.6,442.2 676.6,442.2 680.5,442.2"/>
<polyline class="g" points="51.9,404.0 59.8,403.3 67.6,357.1 75.5,377.6 83.3,324.1 91.2,288.4 99.0,307.6 106.9,369.8 114.8,370.4 122.6,359.6 130.5,348.2 134.4,341.9 138.3,340.2 142.3,341.2 146.2,346.7 150.1,352.0 154.0,364.2 158.0,376.3 161.9,386.9 165.8,395.4 169.8,401.8 173.7,406.9 177.6,409.6 181.5,410.8 185.5,409.4 189.4,407.5 193.3,405.4 197.3,405.4 201.2,407.0 205.1,407.5 209.1,407.3 213.0,406.4 216.9,404.9 220.8,403.2 224.8,401.5 228.7,399.9 232.6,398.5 236.6,398.1 240.5,398.8 244.4,400.0 248.3,401.1 252.3,402.2 256.2,403.5 260.1,405.0 264.1,406.8 268.0,408.5 271.9,410.3 275.8,411.9 279.8,413.3 283.7,414.6 287.6,415.9 291.6,417.2 295.5,418.7 299.4,420.3 303.3,421.8 307.3,423.1 311.2,424.0 315.1,424.7 319.1,425.4 323.0,425.9 326.9,426.3 330.8,426.7 334.8,427.0 338.7,427.2 342.6,427.3 346.6,427.4 350.5,427.5 354.4,427.5 358.3,427.5 362.3,427.4 366.2,427.3 370.1,427.2 374.1,427.0 378.0,426.8 381.9,426.6 385.8,426.3 389.8,426.0 393.7,425.6 397.6,425.1 401.6,424.7 405.5,424.2 409.4,423.6 413.3,423.0 417.3,422.4 421.2,421.8 425.1,421.2 429.1,420.6 433.0,420.1 436.9,420.2 440.8,420.4 444.8,420.6 448.7,420.8 452.6,421.0 456.6,421.2 460.5,421.5 464.4,421.7 468.3,422.0 472.3,422.2 476.2,422.5 480.1,422.7 484.1,423.0 488.0,423.2 491.9,423.5 495.8,423.8 499.8,424.1 503.7,424.4 507.6,424.7 511.6,425.1 515.5,425.5 519.4,426.0 523.4,426.5 527.3,427.0 531.2,427.5 535.1,428.0 539.1,428.4 543.0,428.9 546.9,429.3 550.9,429.8 554.8,430.2 558.7,430.6 562.6,431.0 566.6,431.5 570.5,432.0 574.4,432.4 578.4,432.9 582.3,433.4 586.2,434.0 590.1,434.5 594.1,435.0 598.0,435.5 601.9,436.0 605.9,436.5 609.8,436.9 613.7,437.4 617.6,438.0 621.6,438.5 625.5,439.1 629.4,439.6 633.4,440.1 637.3,440.4 641.2,440.8 645.1,441.1 649.1,441.4 653.0,441.7 656.9,442.0 660.9,442.2 664.8,442.5 668.7,442.8 672.6,443.0 676.6,443.3 680.5,443.5"/>
<polyline class="g" points="51.9,377.9 59.8,365.9 67.6,287.2 75.5,315.2 83.3,314.3 91.2,308.9 99.0,253.6 106.9,309.4 114.8,333.6 122.6,316.8 130.5,325.0 134.4,319.8 138.3,332.3 142.3,339.2 146.2,343.2 150.1,348.7 154.0,354.4 158.0,358.7 161.9,360.4 165.8,360.1 169.8,360.0 173.7,359.1 177.6,357.5 181.5,355.7 185.5,355.1 189.4,354.8 193.3,355.0 197.3,355.5 201.2,355.4 205.1,354.9 209.1,354.9 213.0,357.0 216.9,361.1 220.8,365.0 224.8,366.2 228.7,367.5 232.6,369.1 236.6,370.9 240.5,372.9 244.4,374.6 248.3,376.7 252.3,379.5 256.2,382.6 260.1,385.9 264.1,389.6 268.0,393.1 271.9,396.2 275.8,399.0 279.8,401.4 283.7,403.8 287.6,405.7 291.6,407.5 295.5,409.2 299.4,410.7 303.3,412.2 307.3,413.5 311.2,414.6 315.1,415.6 319.1,416.7 323.0,417.8 326.9,418.8 330.8,419.8 334.8,420.7 338.7,421.6 342.6,422.4 346.6,423.1 350.5,423.8 354.4,424.4 358.3,425.0 362.3,425.5 366.2,426.0 370.1,426.3 374.1,426.6 378.0,426.8 381.9,426.9 385.8,427.0 389.8,427.0 393.7,426.8 397.6,426.7 401.6,426.4 405.5,426.1 409.4,425.7 413.3,425.2 417.3,424.7 421.2,424.2 425.1,423.6 429.1,423.1 433.0,422.6 436.9,422.2 440.8,421.9 444.8,421.6 448.7,421.6 452.6,421.8 456.6,422.0 460.5,422.3 464.4,422.6 468.3,422.9 472.3,423.2 476.2,423.5 480.1,423.8 484.1,424.1 488.0,424.4 491.9,424.7 495.8,425.0 499.8,425.3 503.7,425.6 507.6,425.9 511.6,426.2 515.5,426.6 519.4,426.9 523.4,427.2 527.3,427.5 531.2,427.8 535.1,428.0 539.1,428.2 543.0,428.3 546.9,428.4 550.9,428.5 554.8,428.5 558.7,428.4 562.6,428.4 566.6,428.3 570.5,428.2 574.4,428.0 578.4,427.9 582.3,427.8 586.2,427.6 590.1,427.5 594.1,427.4 598.0,427.2 601.9,427.1 605.9,427.0 609.8,426.9 613.7,426.7 617.6,426.5 621.6,426.4 625.5,426.3 629.4,426.2 633.4,426.0 637.3,426.0 641.2,426.0 645.1,426.0 649.1,426.0 653.0,426.0 656.9,426.0 660.9,426.0 664.8,426.1 668.7,426.1 672.6,426.1 676.6,426.2 680.5,426.2"/>
<polyline class="g" points="51.9,411.1 59.8,363.5 67.6,375.4 75.5,338.0 83.3,364.8 91.2,312.6 99.0,276.7 106.9,328.3 114.8,318.5 122.6,345.9 130.5,372.2 134.4,380.5 138.3,388.0 142.3,388.0 146.2,392.3 150.1,393.5 154.0,393.5 158.0,392.7 161.9,390.8 165.8,388.1 169.8,385.6 173.7,383.7 177.6,382.6 181.5,382.5 185.5,383.0 189.4,384.4 193.3,386.1 197.3,388.7 201.2,392.0 205.1,394.3 209.1,395.9 213.0,396.7 216.9,396.6 220.8,396.1 224.8,395.3 228.7,394.4 232.6,393.5 236.6,393.0 240.5,392.9 244.4,392.8 248.3,392.6 252.3,392.7 256.2,393.0 260.1,393.5 264.1,394.4 268.0,395.5 271.9,396.8 275.8,398.2 279.8,399.6 283.7,401.1 287.6,402.6 291.6,404.0 295.5,405.5 299.4,407.2 303.3,409.0 307.3,410.6 311.2,412.1 315.1,413.5 319.1,414.8 323.0,415.9 326.9,416.9 330.8,417.6 334.8,418.0 338.7,418.2 342.6,418.1 346.6,417.8 350.5,417.2 354.4,416.2 358.3,415.0 362.3,414.2 366.2,413.4 370.1,412.6 374.1,411.8 378.0,411.0 381.9,410.1 385.8,409.3 389.8,408.7 393.7,408.2 397.6,407.8 401.6,407.5 405.5,407.2 409.4,407.0 413.3,406.8 417.3,406.6 421.2,406.4 425.1,406.3 429.1,406.3 433.0,407.2 436.9,408.9 440.8,410.5 444.8,411.3 448.7,411.7 452.6,412.2 456.6,412.6 460.5,412.9 464.4,413.2 468.3,413.4 472.3,413.5 476.2,413.7 480.1,413.8 484.1,414.1 488.0,414.3 491.9,414.5 495.8,414.8 499.8,415.1 503.7,415.6 507.6,416.1 511.6,416.7 515.5,417.5 519.4,418.4 523.4,419.4 527.3,420.4 531.2,421.4 535.1,422.3 539.1,423.3 543.0,424.2 546.9,425.1 550.9,426.0 554.8,426.8 558.7,427.7 562.6,428.4 566.6,429.1 570.5,429.8 574.4,430.4 578.4,431.0 582.3,431.5 586.2,432.1 590.1,432.8 594.1,433.4 598.0,434.0 601.9,434.6 605.9,435.1 609.8,435.5 613.7,436.0 617.6,436.4 621.6,436.8 625.5,437.2 629.4,437.5 633.4,437.7 637.3,437.9 641.2,438.1 645.1,438.2 649.1,438.3 653.0,438.4 656.9,438.5 660.9,438.6 664.8,438.7 668.7,438.8 672.6,438.8 676.6,438.9 680.5,439.0"/>
<polyline class="g" points="51.9,401.2 59.8,377.8 67.6,364.5 75.5,359.9 83.3,332.4 91.2,358.7 99.0,363.7 106.9,376.1 114.8,364.5 122.6,360.3 130.5,338.5 134.4,351.3 138.3,337.3 142.3,332.3 146.2,335.8 150.1,341.2 154.0,344.0 158.0,347.2 161.9,351.0 165.8,355.5 169.8,360.6 173.7,368.8 177.6,379.7 181.5,389.2 185.5,395.3 189.4,399.3 193.3,401.5 197.3,404.6 201.2,408.8 205.1,411.5 209.1,413.4 213.0,414.4 216.9,414.6 220.8,414.4 224.8,414.0 228.7,413.2 232.6,412.1 236.6,412.0 240.5,413.9 244.4,416.6 248.3,418.3 252.3,419.1 256.2,419.8 260.1,420.5 264.1,421.0 268.0,421.5 271.9,421.9 275.8,422.2 279.8,422.4 283.7,422.6 287.6,422.8 291.6,423.2 295.5,423.9 299.4,424.8 303.3,425.6 307.3,426.1 311.2,426.2 315.1,426.1 319.1,425.9 323.0,425.7 326.9,425.3 330.8,424.9 334.8,424.5 338.7,424.1 342.6,423.6 346.6,423.1 350.5,422.7 354.4,422.3 358.3,422.0 362.3,421.8 366.2,421.6 370.1,421.4 374.1,421.3 378.0,421.2 381.9,421.2 385.8,421.2 389.8,421.3 393.7,421.4 397.6,421.6 401.6,421.8 405.5,422.1 409.4,422.3 413.3,422.6 417.3,423.0 421.2,423.3 425.1,423.7 429.1,424.1 433.0,424.5 436.9,424.9 440.8,425.4 444.8,425.9 448.7,426.4 452.6,426.9 456.6,427.3 460.5,427.8 464.4,428.3 468.3,428.7 472.3,429.1 476.2,429.5 480.1,429.9 484.1,430.3 488.0,430.6 491.9,430.9 495.8,431.3 499.8,431.6 503.7,432.0 507.6,432.4 511.6,432.9 515.5,433.4 519.4,433.9 523.4,434.4 527.3,434.9 531.2,435.5 535.1,436.1 539.1,436.7 543.0,437.2 546.9,437.7 550.9,438.0 554.8,438.3 558.7,438.6 562.6,438.8 566.6,439.1 570.5,439.3 574.4,439.6 578.4,439.9 582.3,440.2 586.2,440.5 590.1,440.8 594.1,441.0 598.0,441.2 601.9,441.3 605.9,441.5 609.8,441.6 613.7,441.8 617.6,442.1 621.6,442.3 625.5,442.6 629.4,442.8 633.4,442.9 637.3,443.0 641.2,443.0 645.1,443.0 649.1,442.9 653.0,442.9 656.9,442.9 660.9,442.9 664.8,442.9 668.7,442.9 672.6,442.9 676.6,442.9 680.5,442.9"/>
<polyline class="g" points="51.9,377.7 59.8,386.1 67.6,346.0 75.5,344.7 83.3,282.5 91.2,253.1 99.0,269.0 106.9,302.7 114.8,291.8 122.6,298.2 130.5,291.7 134.4,287.7 138.3,293.0 142.3,299.7 146.2,302.0 150.1,311.8 154.0,318.8 158.0,321.1 161.9,323.3 165.8,326.9 169.8,330.6 173.7,333.1 177.6,335.8 181.5,339.3 185.5,345.1 189.4,350.0 193.3,354.5 197.3,358.6 201.2,361.7 205.1,364.3 209.1,367.0 213.0,370.5 216.9,374.3 220.8,377.5 224.8,379.4 228.7,381.2 232.6,383.0 236.6,384.7 240.5,386.2 244.4,387.5 248.3,388.6 252.3,389.6 256.2,390.7 260.1,391.7 264.1,392.9 268.0,394.1 271.9,395.3 275.8,396.5 279.8,397.7 283.7,398.8 287.6,400.0 291.6,401.1 295.5,402.1 299.4,403.1 303.3,403.9 307.3,404.6 311.2,405.3 315.1,405.9 319.1,406.6 323.0,407.3 326.9,408.0 330.8,408.7 334.8,409.3 338.7,409.8 342.6,410.3 346.6,410.8 350.5,411.3 354.4,411.8 358.3,412.3 362.3,412.8 366.2,413.3 370.1,413.8 374.1,414.3 378.0,414.8 381.9,415.3 385.8,415.8 389.8,416.3 393.7,416.8 397.6,417.4 401.6,418.3 405.5,419.3 409.4,420.2 413.3,421.2 417.3,422.1 421.2,423.0 425.1,423.8 429.1,424.6 433.0,425.2 436.9,425.8 440.8,426.3 444.8,426.7 448.7,427.0 452.6,427.2 456.6,427.4 460.5,427.4 464.4,427.4 468.3,427.3 472.3,427.1 476.2,426.8 480.1,426.5 484.1,426.1 488.0,425.8 491.9,425.5 495.8,425.4 499.8,425.2 503.7,425.0 507.6,424.8 511.6,424.5 515.5,424.3 519.4,424.1 523.4,423.9 527.3,423.7 531.2,423.5 535.1,423.3 539.1,423.1 543.0,423.0 546.9,422.8 550.9,422.6 554.8,422.5 558.7,422.4 562.6,422.3 566.6,422.3 570.5,422.4 574.4,422.5 578.4,422.6 582.3,422.7 586.2,422.9 590.1,423.2 594.1,423.4 598.0,423.6 601.9,423.9 605.9,424.2 609.8,424.4 613.7,424.6 617.6,424.9 621.6,425.1 625.5,425.3 629.4,425.5 633.4,425.8 637.3,426.0 641.2,426.3 645.1,426.5 649.1,426.8 653.0,427.0 656.9,427.2 660.9,427.4 664.8,427.6 668.7,427.7 672.6,427.9 676.6,428.1 680.5,428.2"/>
<polyline class="g" points="51.9,359.5 59.8,344.5 67.6,283.1 75.5,333.0 83.3,272.4 91.2,315.3 99.0,336.9 106.9,358.2 114.8,307.7 122.6,317.0 130.5,334.3 134.4,333.6 138.3,314.0 142.3,311.7 146.2,311.3 150.1,317.3 154.0,323.1 158.0,325.9 161.9,329.3 165.8,334.2 169.8,339.3 173.7,343.5 177.6,347.7 181.5,351.9 185.5,356.7 189.4,360.3 193.3,363.2 197.3,365.4 201.2,366.3 205.1,366.2 209.1,365.8 213.0,366.2 216.9,367.6 220.8,369.2 224.8,368.7 228.7,368.3 232.6,368.0 236.6,367.9 240.5,367.6 244.4,366.4 248.3,365.3 252.3,364.9 256.2,364.7 260.1,364.8 264.1,365.8 268.0,367.3 271.9,368.8 275.8,370.6 279.8,372.9 283.7,375.5 287.6,377.9 291.6,380.1 295.5,382.4 299.4,384.3 303.3,385.9 307.3,387.2 311.2,388.3 315.1,389.2 319.1,389.4 323.0,389.6 326.9,389.8 330.8,390.0 334.8,390.1 338.7,390.4 342.6,391.3 346.6,392.4 350.5,393.5 354.4,394.5 358.3,395.7 362.3,397.0 366.2,398.4 370.1,399.8 374.1,401.2 378.0,402.4 381.9,403.4 385.8,404.4 389.8,405.4 393.7,406.4 397.6,407.2 401.6,407.9 405.5,408.6 409.4,409.1 413.3,409.5 417.3,409.8 421.2,410.1 425.1,410.3 429.1,410.6 433.0,411.3 436.9,412.6 440.8,413.8 444.8,414.3 448.7,414.7 452.6,415.0 456.6,415.3 460.5,415.5 464.4,415.6 468.3,415.7 472.3,415.7 476.2,415.6 480.1,415.6 484.1,415.5 488.0,415.4 491.9,415.2 495.8,415.1 499.8,414.9 503.7,414.8 507.6,414.8 511.6,414.8 515.5,414.8 519.4,415.1 523.4,415.4 527.3,415.6 531.2,415.9 535.1,416.1 539.1,416.3 543.0,416.5 546.9,416.7 550.9,416.9 554.8,417.2 558.7,417.5 562.6,417.8 566.6,418.1 570.5,418.5 574.4,418.9 578.4,419.3 582.3,419.7 586.2,420.2 590.1,420.6 594.1,421.1 598.0,421.6 601.9,422.0 605.9,422.4 609.8,422.8 613.7,423.2 617.6,423.6 621.6,424.0 625.5,424.3 629.4,424.7 633.4,425.0 637.3,425.4 641.2,425.8 645.1,426.1 649.1,426.5 653.0,426.8 656.9,427.2 660.9,427.5 664.8,427.8 668.7,428.1 672.6,428.4 676.6,428.6 680.5,428.9"/>
<polyline class="g" points="51.9,392.6 59.8,366.6 67.6,374.4 75.5,378.4 83.3,361.2 91.2,328.8 99.0,355.8 106.9,337.7 114.8,360.2 122.6,379.8 130.5,379.0 134.4,382.7 138.3,389.8 142.3,393.0 146.2,394.5 150.1,396.7 154.0,397.8 158.0,398.1 161.9,397.0 165.8,394.8 169.8,391.9 173.7,388.7 177.6,385.1 181.5,382.4 185.5,380.7 189.4,380.8 193.3,382.4 197.3,385.2 201.2,389.0 205.1,392.5 209.1,395.7 213.0,398.3 216.9,400.1 220.8,401.5 224.8,402.4 228.7,402.8 232.6,403.0 236.6,403.6 240.5,405.6 244.4,408.0 248.3,409.6 252.3,410.4 256.2,411.1 260.1,411.7 264.1,412.1 268.0,412.5 271.9,412.8 275.8,413.0 279.8,413.1 283.7,413.1 287.6,413.2 291.6,413.4 295.5,413.8 299.4,414.2 303.3,414.5 307.3,414.6 311.2,414.5 315.1,414.4 319.1,414.3 323.0,414.2 326.9,414.1 330.8,414.1 334.8,413.9 338.7,413.7 342.6,413.5 346.6,413.3 350.5,413.3 354.4,413.4 358.3,413.4 362.3,413.5 366.2,413.6 370.1,413.6 374.1,413.7 378.0,413.8 381.9,413.9 385.8,414.0 389.8,414.2 393.7,414.5 397.6,414.7 401.6,415.0 405.5,415.4 409.4,415.7 413.3,416.1 417.3,416.5 421.2,416.9 425.1,417.4 429.1,418.0 433.0,418.7 436.9,419.5 440.8,420.2 444.8,420.9 448.7,421.6 452.6,422.8 456.6,424.1 460.5,425.3 464.4,426.4 468.3,427.4 472.3,428.3 476.2,429.0 480.1,429.7 484.1,430.3 488.0,430.8 491.9,431.3 495.8,431.7 499.8,432.1 503.7,432.4 507.6,432.8 511.6,433.2 515.5,433.6 519.4,434.0 523.4,434.4 527.3,434.7 531.2,435.1 535.1,435.5 539.1,435.9 543.0,436.3 546.9,436.5 550.9,436.6 554.8,436.7 558.7,436.7 562.6,436.7 566.6,436.7 570.5,436.7 574.4,436.7 578.4,436.7 582.3,436.7 586.2,436.7 590.1,436.6 594.1,436.5 598.0,436.4 601.9,436.2 605.9,436.1 609.8,435.9 613.7,435.7 617.6,435.5 621.6,435.2 625.5,434.9 629.4,434.6 633.4,434.2 637.3,434.1 641.2,434.1 645.1,434.0 649.1,433.9 653.0,433.9 656.9,433.9 660.9,433.9 664.8,433.9 668.7,433.9 672.6,433.9 676.6,434.0 680.5,434.0"/>
<polyline class="g" points="51.9,373.2 59.8,342.4 67.6,338.6 75.5,342.5 83.3,338.4 91.2,277.1 99.0,335.3 106.9,319.6 114.8,316.0 122.6,340.6 130.5,353.7 134.4,359.4 138.3,344.2 142.3,356.2 146.2,351.8 150.1,354.6 154.0,358.1 158.0,361.0 161.9,363.7 165.8,366.6 169.8,369.8 173.7,373.8 177.6,377.9 181.5,382.3 185.5,385.8 189.4,388.8 193.3,391.5 197.3,395.0 201.2,399.4 205.1,402.7 209.1,405.2 213.0,406.8 216.9,407.4 220.8,407.4 224.8,407.0 228.7,406.2 232.6,405.0 236.6,404.4 240.5,405.0 244.4,405.9 248.3,405.8 252.3,405.0 256.2,404.1 260.1,403.2 264.1,402.5 268.0,402.0 271.9,401.6 275.8,401.4 279.8,401.5 283.7,401.9 287.6,402.4 291.6,403.0 295.5,403.6 299.4,404.3 303.3,404.9 307.3,405.5 311.2,406.1 315.1,406.7 319.1,407.4 323.0,408.1 326.9,408.9 330.8,409.8 334.8,410.5 338.7,411.3 342.6,412.0 346.6,412.7 350.5,413.5 354.4,414.3 358.3,415.3 362.3,416.3 366.2,417.3 370.1,418.3 374.1,419.4 378.0,420.5 381.9,421.6 385.8,422.7 389.8,423.8 393.7,424.9 397.6,425.9 401.6,426.9 405.5,427.8 409.4,428.7 413.3,429.5 417.3,430.2 421.2,430.8 425.1,431.4 429.1,431.9 433.0,432.3 436.9,432.7 440.8,433.0 444.8,433.3 448.7,433.5 452.6,433.7 456.6,433.8 460.5,433.9 464.4,433.9 468.3,433.9 472.3,433.8 476.2,433.6 480.1,433.5 484.1,433.3 488.0,433.0 491.9,432.8 495.8,432.6 499.8,432.4 503.7,432.3 507.6,432.2 511.6,432.1 515.5,432.1 519.4,432.0 523.4,432.0 527.3,431.9 531.2,431.9 535.1,431.9 539.1,431.9 543.0,431.8 546.9,431.6 550.9,431.4 554.8,431.2 558.7,431.0 562.6,430.8 566.6,430.8 570.5,430.7 574.4,430.7 578.4,430.7 582.3,430.7 586.2,430.7 590.1,430.8 594.1,430.9 598.0,431.1 601.9,431.2 605.9,431.4 609.8,431.6 613.7,431.7 617.6,431.9 621.6,432.1 625.5,432.3 629.4,432.5 633.4,432.7 637.3,432.9 641.2,433.2 645.1,433.4 649.1,433.7 653.0,433.9 656.9,434.2 660.9,434.5 664.8,434.8 668.7,435.1 672.6,435.4 676.6,435.7 680.5,436.0"/>
<polyline class="g" points="51.9,382.1 59.8,389.5 67.6,363.2 75.5,345.8 83.3,234.0 91.2,277.0 99.0,293.3 106.9,333.4 114.8,302.9 122.6,310.5 130.5,323.4 134.4,329.3 138.3,315.7 142.3,320.6 146.2,328.7 150.1,328.8 154.0,335.7 158.0,338.5 161.9,340.9 165.8,343.6 169.8,346.3 173.7,348.4 177.6,351.0 181.5,354.4 185.5,359.4 189.4,364.5 193.3,369.8 197.3,375.1 201.2,380.7 205.1,387.0 209.1,392.3 213.0,396.4 216.9,399.3 220.8,401.2 224.8,402.4 228.7,403.0 232.6,403.0 236.6,403.4 240.5,404.9 244.4,406.7 248.3,407.4 252.3,407.3 256.2,406.8 260.1,406.0 264.1,405.0 268.0,403.9 271.9,402.7 275.8,401.3 279.8,400.4 283.7,399.8 287.6,399.4 291.6,399.2 295.5,399.2 299.4,399.3 303.3,399.5 307.3,399.8 311.2,400.1 315.1,400.6 319.1,400.9 323.0,401.4 326.9,402.0 330.8,402.7 334.8,403.4 338.7,404.2 342.6,405.2 346.6,406.2 350.5,407.3 354.4,408.2 358.3,409.2 362.3,410.2 366.2,411.0 370.1,411.8 374.1,412.5 378.0,413.1 381.9,413.5 385.8,414.0 389.8,414.3 393.7,414.6 397.6,414.8 401.6,415.0 405.5,415.2 409.4,415.2 413.3,415.3 417.3,415.3 421.2,415.2 425.1,415.2 429.1,415.2 433.0,415.4 436.9,416.0 440.8,416.6 444.8,416.9 448.7,417.1 452.6,417.3 456.6,417.5 460.5,417.6 464.4,417.8 468.3,417.9 472.3,417.9 476.2,418.0 480.1,418.0 484.1,418.1 488.0,418.2 491.9,418.3 495.8,418.4 499.8,418.5 503.7,418.7 507.6,419.0 511.6,419.3 515.5,419.8 519.4,420.3 523.4,421.0 527.3,421.6 531.2,422.3 535.1,422.9 539.1,423.6 543.0,424.3 546.9,425.0 550.9,425.7 554.8,426.4 558.7,427.1 562.6,427.8 566.6,428.4 570.5,429.1 574.4,429.8 578.4,430.4 582.3,431.0 586.2,431.6 590.1,432.2 594.1,433.0 598.0,433.8 601.9,434.5 605.9,435.2 609.8,435.9 613.7,436.5 617.6,437.1 621.6,437.7 625.5,438.3 629.4,438.8 633.4,439.3 637.3,439.6 641.2,439.9 645.1,440.2 649.1,440.5 653.0,440.7 656.9,441.0 660.9,441.2 664.8,441.4 668.7,441.6 672.6,441.8 676.6,442.0 680.5,442.2"/>
<polyline class="g" points="51.9,377.2 59.8,381.7 67.6,334.6 75.5,347.8 83.3,357.5 91.2,279.5 99.0,287.4 106.9,300.5 114.8,313.6 122.6,302.5 130.5,326.7 134.4,319.9 138.3,323.4 142.3,340.5 146.2,347.0 150.1,350.5 154.0,353.9 158.0,355.9 161.9,357.2 165.8,358.5 169.8,360.0 173.7,361.8 177.6,364.3 181.5,367.4 185.5,371.7 189.4,376.3 193.3,380.2 197.3,383.8 201.2,387.0 205.1,389.1 209.1,390.3 213.0,390.4 216.9,389.7 220.8,388.5 224.8,387.0 228.7,386.5 232.6,386.0 236.6,385.7 240.5,385.4 244.4,385.1 248.3,385.0 252.3,385.2 256.2,385.8 260.1,386.7 264.1,388.2 268.0,390.0 271.9,391.8 275.8,393.7 279.8,395.6 283.7,397.4 287.6,399.1 291.6,400.6 295.5,401.9 299.4,403.1 303.3,404.1 307.3,404.9 311.2,405.7 315.1,406.4 319.1,407.1 323.0,407.8 326.9,408.6 330.8,409.3 334.8,410.0 338.7,410.6 342.6,411.2 346.6,411.8 350.5,412.4 354.4,413.0 358.3,413.5 362.3,414.1 366.2,414.6 370.1,415.1 374.1,415.6 378.0,416.1 381.9,416.6 385.8,417.2 389.8,417.8 393.7,418.4 397.6,419.0 401.6,419.6 405.5,420.1 409.4,420.5 413.3,420.8 417.3,421.2 421.2,421.4 425.1,421.7 429.1,421.8 433.0,421.9 436.9,422.0 440.8,422.1 444.8,422.0 448.7,422.0 452.6,422.0 456.6,422.2 460.5,422.5 464.4,422.7 468.3,422.9 472.3,423.0 476.2,423.1 480.1,423.2 484.1,423.3 488.0,423.4 491.9,423.5 495.8,423.5 499.8,423.5 503.7,423.6 507.6,423.7 511.6,423.8 515.5,424.0 519.4,424.3 523.4,424.5 527.3,424.9 531.2,425.2 535.1,425.5 539.1,425.9 543.0,426.2 546.9,426.6 550.9,427.0 554.8,427.4 558.7,427.8 562.6,428.3 566.6,428.7 570.5,429.2 574.4,429.7 578.4,430.2 582.3,430.7 586.2,431.3 590.1,431.8 594.1,432.3 598.0,433.1 601.9,433.9 605.9,434.6 609.8,435.4 613.7,436.1 617.6,436.9 621.6,437.6 625.5,438.3 629.4,439.0 633.4,439.6 637.3,440.1 641.2,440.6 645.1,441.0 649.1,441.3 653.0,441.7 656.9,442.0 660.9,442.3 664.8,442.6 668.7,442.9 672.6,443.1 676.6,443.4 680.5,443.6"/>
<polyline class="g" points="51.9,391.3 59.8,357.6 67.6,360.7 75.5,358.7 83.3,370.8 91.2,356.0 99.0,316.8 106.9,315.9 114.8,360.3 122.6,356.4 130.5,352.5 134.4,356.2 138.3,349.4 142.3,350.1 146.2,345.2 150.1,349.5 154.0,351.8 158.0,355.3 161.9,359.0 165.8,363.8 169.8,367.7 173.7,370.7 177.6,372.7 181.5,374.0 185.5,374.7 189.4,375.7 193.3,377.2 197.3,379.0 201.2,380.8 205.1,382.4 209.1,383.7 213.0,384.6 216.9,385.1 220.8,385.6 224.8,385.9 228.7,386.1 232.6,386.3 236.6,386.6 240.5,386.9 244.4,387.2 248.3,387.5 252.3,388.3 256.2,389.2 260.1,390.6 264.1,392.3 268.0,394.2 271.9,396.2 275.8,398.0 279.8,399.7 283.7,401.2 287.6,402.5 291.6,403.6 295.5,404.4 299.4,405.0 303.3,405.4 307.3,405.6 311.2,405.6 315.1,405.6 319.1,405.4 323.0,405.3 326.9,405.0 330.8,404.5 334.8,404.0 338.7,403.5 342.6,403.1 346.6,402.8 350.5,402.7 354.4,402.6 358.3,402.8 362.3,403.1 366.2,403.6 370.1,404.2 374.1,405.0 378.0,405.7 381.9,406.5 385.8,407.3 389.8,408.2 393.7,409.2 397.6,410.1 401.6,411.1 405.5,412.0 409.4,413.0 413.3,413.9 417.3,414.9 421.2,415.9 425.1,416.9 429.1,418.0 433.0,419.1 436.9,420.2 440.8,421.8 444.8,423.7 448.7,425.4 452.6,426.8 456.6,428.1 460.5,429.2 464.4,430.2 468.3,431.0 472.3,431.6 476.2,432.1 480.1,432.5 484.1,432.8 488.0,433.1 491.9,433.4 495.8,433.6 499.8,433.8 503.7,434.0 507.6,434.2 511.6,434.5 515.5,434.8 519.4,435.2 523.4,435.5 527.3,435.8 531.2,436.2 535.1,436.7 539.1,437.1 543.0,437.5 546.9,437.8 550.9,438.0 554.8,438.2 558.7,438.3 562.6,438.4 566.6,438.6 570.5,438.8 574.4,439.0 578.4,439.3 582.3,439.5 586.2,439.8 590.1,440.0 594.1,440.2 598.0,440.4 601.9,440.6 605.9,440.7 609.8,440.9 613.7,441.2 617.6,441.5 621.6,441.8 625.5,442.1 629.4,442.3 633.4,442.5 637.3,442.6 641.2,442.7 645.1,442.8 649.1,442.8 653.0,442.9 656.9,443.0 660.9,443.1 664.8,443.1 668.7,443.2 672.6,443.3 676.6,443.4 680.5,443.5"/>
<polyline class="g" points="51.9,403.9 59.8,382.7 67.6,320.8 75.5,308.7 83.3,273.8 91.2,311.0 99.0,307.7 106.9,311.8 114.8,330.9 122.6,342.4 130.5,371.6 134.4,361.3 138.3,373.4 142.3,358.2 146.2,364.5 150.1,358.2 154.0,352.7 158.0,350.0 161.9,347.5 165.8,345.9 169.8,345.4 173.7,345.1 177.6,345.8 181.5,347.9 185.5,352.5 189.4,357.5 193.3,362.9 197.3,368.6 201.2,374.0 205.1,379.4 209.1,385.9 213.0,392.2 216.9,397.0 220.8,400.5 224.8,403.0 228.7,404.5 232.6,405.3 236.6,406.4 240.5,408.9 244.4,411.8 248.3,413.6 252.3,414.4 256.2,415.0 260.1,415.3 264.1,415.3 268.0,415.2 271.9,414.9 275.8,414.3 279.8,413.7 283.7,412.9 287.6,412.2 291.6,411.5 295.5,410.8 299.4,410.1 303.3,409.1 307.3,408.0 311.2,407.2 315.1,407.0 319.1,406.9 323.0,406.9 326.9,406.9 330.8,407.0 334.8,407.1 338.7,407.1 342.6,407.4 346.6,407.7 350.5,408.0 354.4,408.4 358.3,408.8 362.3,409.2 366.2,409.7 370.1,410.2 374.1,410.7 378.0,411.0 381.9,411.4 385.8,411.7 389.8,412.0 393.7,412.4 397.6,412.6 401.6,412.9 405.5,413.1 409.4,413.2 413.3,413.3 417.3,413.4 421.2,413.4 425.1,413.4 429.1,413.4 433.0,413.8 436.9,414.6 440.8,415.4 444.8,415.7 448.7,416.0 452.6,416.2 456.6,416.3 460.5,416.5 464.4,416.5 468.3,416.6 472.3,416.5 476.2,416.4 480.1,416.3 484.1,416.2 488.0,416.1 491.9,416.0 495.8,415.8 499.8,415.6 503.7,415.5 507.6,415.4 511.6,415.4 515.5,415.5 519.4,415.7 523.4,415.9 527.3,416.2 531.2,416.5 535.1,416.7 539.1,416.9 543.0,417.1 546.9,417.3 550.9,417.5 554.8,417.8 558.7,418.1 562.6,418.4 566.6,418.8 570.5,419.2 574.4,419.6 578.4,420.1 582.3,420.5 586.2,421.0 590.1,421.5 594.1,422.0 598.0,422.5 601.9,423.0 605.9,423.5 609.8,424.0 613.7,424.5 617.6,425.0 621.6,425.4 625.5,425.9 629.4,426.4 633.4,426.9 637.3,427.3 641.2,427.8 645.1,428.3 649.1,428.8 653.0,429.3 656.9,429.8 660.9,430.3 664.8,430.8 668.7,431.3 672.6,431.8 676.6,432.2 680.5,432.7"/>
<polyline class="g" points="51.9,377.8 59.8,367.9 67.6,320.6 75.5,216.3 83.3,244.5 91.2,280.6 99.0,266.2 106.9,311.8 114.8,313.6 122.6,286.0 130.5,315.3 134.4,335.5 138.3,346.5 142.3,348.2 146.2,361.7 150.1,367.1 154.0,378.1 158.0,385.6 161.9,391.4 165.8,396.3 169.8,400.4 173.7,404.3 177.6,406.7 181.5,408.1 185.5,407.3 189.4,406.1 193.3,404.9 197.3,405.8 201.2,408.4 205.1,410.0 209.1,411.0 213.0,411.3 216.9,411.0 220.8,410.4 224.8,409.6 228.7,408.5 232.6,407.2 236.6,406.8 240.5,407.9 244.4,409.6 248.3,410.3 252.3,410.4 256.2,410.4 260.1,410.4 264.1,410.5 268.0,410.7 271.9,411.0 275.8,411.4 279.8,411.9 283.7,412.6 287.6,413.4 291.6,414.4 295.5,415.7 299.4,417.2 303.3,418.7 307.3,420.1 311.2,421.2 315.1,422.1 319.1,423.0 323.0,423.8 326.9,424.5 330.8,425.0 334.8,425.4 338.7,425.6 342.6,425.7 346.6,425.7 350.5,425.6 354.4,425.3 358.3,425.0 362.3,424.5 366.2,423.9 370.1,423.2 374.1,422.4 378.0,421.4 381.9,420.3 385.8,419.2 389.8,417.9 393.7,417.0 397.6,416.7 401.6,416.4 405.5,416.2 409.4,416.0 413.3,415.8 417.3,415.7 421.2,415.6 425.1,415.6 429.1,415.6 433.0,415.9 436.9,416.5 440.8,417.1 444.8,417.6 448.7,417.9 452.6,418.2 456.6,418.5 460.5,418.8 464.4,419.1 468.3,419.4 472.3,419.6 476.2,419.9 480.1,420.1 484.1,420.3 488.0,420.5 491.9,420.6 495.8,420.8 499.8,421.0 503.7,421.2 507.6,421.5 511.6,421.7 515.5,422.1 519.4,422.4 523.4,422.8 527.3,423.2 531.2,423.6 535.1,423.9 539.1,424.3 543.0,424.6 546.9,424.9 550.9,425.2 554.8,425.5 558.7,425.8 562.6,426.0 566.6,426.3 570.5,426.6 574.4,426.8 578.4,427.1 582.3,427.4 586.2,427.7 590.1,427.9 594.1,428.2 598.0,428.5 601.9,428.7 605.9,429.0 609.8,429.2 613.7,429.4 617.6,429.6 621.6,429.7 625.5,429.9 629.4,430.0 633.4,430.1 637.3,430.3 641.2,430.4 645.1,430.6 649.1,430.7 653.0,430.8 656.9,431.0 660.9,431.1 664.8,431.2 668.7,431.3 672.6,431.5 676.6,431.6 680.5,431.7"/>
<polyline class="g" points="51.9,366.0 59.8,375.7 67.6,373.7 75.5,355.0 83.3,319.1 91.2,303.6 99.0,262.5 106.9,354.5 114.8,372.7 122.6,367.8 130.5,367.7 134.4,351.1 138.3,345.7 142.3,343.6 146.2,341.9 150.1,341.3 154.0,341.1 158.0,341.1 161.9,341.0 165.8,341.7 169.8,342.5 173.7,342.6 177.6,342.9 181.5,344.0 185.5,347.5 189.4,350.9 193.3,354.5 197.3,358.1 201.2,361.1 205.1,364.0 209.1,367.1 213.0,371.1 216.9,375.4 220.8,378.9 224.8,381.2 228.7,383.3 232.6,385.4 236.6,387.3 240.5,389.1 244.4,390.6 248.3,392.0 252.3,393.3 256.2,394.5 260.1,395.7 264.1,397.1 268.0,398.5 271.9,399.9 275.8,401.3 279.8,402.6 283.7,404.0 287.6,405.5 291.6,406.9 295.5,408.5 299.4,410.1 303.3,411.8 307.3,413.3 311.2,414.6 315.1,415.9 319.1,417.0 323.0,418.1 326.9,419.0 330.8,419.8 334.8,420.4 338.7,420.8 342.6,421.1 346.6,421.3 350.5,421.5 354.4,421.5 358.3,421.5 362.3,421.4 366.2,421.4 370.1,421.2 374.1,421.1 378.0,420.9 381.9,420.8 385.8,420.6 389.8,420.5 393.7,420.4 397.6,420.4 401.6,420.4 405.5,420.5 409.4,420.6 413.3,420.8 417.3,421.0 421.2,421.3 425.1,421.7 429.1,422.1 433.0,422.6 436.9,423.1 440.8,423.7 444.8,424.2 448.7,424.8 452.6,425.4 456.6,426.0 460.5,426.6 464.4,427.1 468.3,427.6 472.3,428.1 476.2,428.5 480.1,428.9 484.1,429.2 488.0,429.5 491.9,429.8 495.8,430.1 499.8,430.4 503.7,430.7 507.6,430.9 511.6,431.2 515.5,431.6 519.4,431.9 523.4,432.2 527.3,432.5 531.2,432.8 535.1,433.1 539.1,433.4 543.0,433.7 546.9,433.8 550.9,433.9 554.8,433.9 558.7,433.9 562.6,433.8 566.6,433.7 570.5,433.6 574.4,433.5 578.4,433.5 582.3,433.3 586.2,433.2 590.1,433.0 594.1,432.8 598.0,432.6 601.9,432.5 605.9,432.5 609.8,432.5 613.7,432.4 617.6,432.4 621.6,432.3 625.5,432.3 629.4,432.2 633.4,432.1 637.3,432.1 641.2,432.0 645.1,432.0 649.1,432.0 653.0,432.0 656.9,432.0 660.9,432.0 664.8,432.0 668.7,432.0 672.6,432.0 676.6,432.0 680.5,432.0"/>
<polyline class="g" points="51.9,397.2 59.8,401.1 67.6,364.8 75.5,373.5 83.3,381.0 91.2,372.6 99.0,361.8 106.9,338.9 114.8,354.1 122.6,336.2 130.5,362.8 134.4,367.7 138.3,361.6 142.3,362.2 146.2,366.1 150.1,370.2 154.0,373.7 158.0,376.4 161.9,378.4 165.8,379.8 169.8,380.8 173.7,381.7 177.6,381.8 181.5,381.8 185.5,381.2 189.4,381.1 193.3,381.9 197.3,383.6 201.2,385.9 205.1,388.2 209.1,390.5 213.0,392.6 216.9,394.3 220.8,395.7 224.8,396.9 228.7,397.8 232.6,398.4 236.6,399.3 240.5,401.0 244.4,403.1 248.3,404.4 252.3,405.1 256.2,405.6 260.1,406.1 264.1,406.7 268.0,407.2 271.9,407.9 275.8,408.5 279.8,409.2 283.7,410.0 287.6,410.9 291.6,412.0 295.5,413.3 299.4,414.7 303.3,416.2 307.3,417.5 311.2,418.5 315.1,419.5 319.1,420.3 323.0,421.1 326.9,421.8 330.8,422.4 334.8,422.8 338.7,423.2 342.6,423.5 346.6,423.7 350.5,423.9 354.4,424.1 358.3,424.4 362.3,424.6 366.2,424.9 370.1,425.2 374.1,425.6 378.0,426.0 381.9,426.5 385.8,427.0 389.8,427.6 393.7,428.2 397.6,428.9 401.6,429.6 405.5,430.2 409.4,430.8 413.3,431.4 417.3,432.0 421.2,432.5 425.1,433.0 429.1,433.4 433.0,433.8 436.9,434.1 440.8,434.4 444.8,434.7 448.7,434.9 452.6,435.0 456.6,435.2 460.5,435.2 464.4,435.3 468.3,435.2 472.3,435.1 476.2,435.0 480.1,434.8 484.1,434.5 488.0,434.3 491.9,434.1 495.8,433.8 499.8,433.6 503.7,433.4 507.6,433.2 511.6,433.1 515.5,432.9 519.4,432.8 523.4,432.6 527.3,432.5 531.2,432.3 535.1,432.1 539.1,431.9 543.0,431.5 546.9,431.1 550.9,430.7 554.8,430.3 558.7,430.0 562.6,429.7 566.6,429.5 570.5,429.3 574.4,429.1 578.4,429.0 582.3,428.8 586.2,428.8 590.1,428.7 594.1,428.8 598.0,428.8 601.9,428.9 605.9,429.0 609.8,429.1 613.7,429.2 617.6,429.4 621.6,429.6 625.5,429.8 629.4,430.0 633.4,430.2 637.3,430.4 641.2,430.7 645.1,431.0 649.1,431.3 653.0,431.7 656.9,432.0 660.9,432.4 664.8,432.7 668.7,433.1 672.6,433.5 676.6,433.9 680.5,434.4"/>
<polyline class="g" points="51.9,382.4 59.8,363.0 67.6,334.6 75.5,317.6 83.3,327.6 91.2,267.8 99.0,297.6 106.9,331.0 114.8,353.1 122.6,353.6 130.5,367.5 134.4,371.8 138.3,375.8 142.3,379.3 146.2,377.2 150.1,373.5 154.0,370.3 158.0,367.2 161.9,363.8 165.8,360.3 169.8,360.0 173.7,359.9 177.6,359.7 181.5,359.9 185.5,361.1 189.4,362.5 193.3,364.4 197.3,366.4 201.2,368.2 205.1,369.9 209.1,371.7 213.0,374.3 216.9,377.1 220.8,379.5 224.8,380.8 228.7,382.0 232.6,383.1 236.6,384.0 240.5,384.6 244.4,384.9 248.3,384.8 252.3,384.8 256.2,384.7 260.1,384.7 264.1,385.2 268.0,385.9 271.9,386.7 275.8,387.8 279.8,389.1 283.7,390.8 287.6,392.4 291.6,393.9 295.5,395.6 299.4,397.0 303.3,398.3 307.3,399.4 311.2,400.4 315.1,401.3 319.1,402.0 323.0,402.8 326.9,403.5 330.8,404.1 334.8,404.7 338.7,405.2 342.6,405.7 346.6,406.3 350.5,406.8 354.4,407.2 358.3,407.6 362.3,408.1 366.2,408.5 370.1,409.1 374.1,409.6 378.0,410.0 381.9,410.4 385.8,410.9 389.8,411.4 393.7,411.9 397.6,412.4 401.6,413.0 405.5,413.5 409.4,413.9 413.3,414.4 417.3,414.9 421.2,415.4 425.1,416.0 429.1,416.6 433.0,417.3 436.9,418.2 440.8,419.0 444.8,419.7 448.7,420.3 452.6,420.8 456.6,421.4 460.5,421.9 464.4,422.5 468.3,423.0 472.3,423.5 476.2,424.0 480.1,424.4 484.1,424.9 488.0,425.3 491.9,425.7 495.8,426.2 499.8,426.6 503.7,427.0 507.6,427.4 511.6,427.8 515.5,428.2 519.4,428.6 523.4,429.0 527.3,429.4 531.2,429.8 535.1,430.2 539.1,430.7 543.0,431.1 546.9,431.5 550.9,431.9 554.8,432.2 558.7,432.5 562.6,432.9 566.6,433.2 570.5,433.6 574.4,434.0 578.4,434.4 582.3,434.8 586.2,435.2 590.1,435.6 594.1,436.0 598.0,436.4 601.9,436.8 605.9,437.2 609.8,437.6 613.7,438.0 617.6,438.4 621.6,438.8 625.5,439.3 629.4,439.7 633.4,440.0 637.3,440.2 641.2,440.4 645.1,440.6 649.1,440.8 653.0,440.9 656.9,441.1 660.9,441.2 664.8,441.4 668.7,441.5 672.6,441.7 676.6,441.8 680.5,442.0"/>
<polyline class="g" points="51.9,363.7 59.8,346.4 67.6,334.6 75.5,236.6 83.3,209.6 91.2,206.4 99.0,219.3 106.9,257.1 114.8,277.6 122.6,304.5 130.5,319.5 134.4,323.6 138.3,340.5 142.3,348.4 146.2,357.1 150.1,359.2 154.0,365.6 158.0,369.5 161.9,371.6 165.8,372.0 169.8,370.8 173.7,368.3 177.6,365.4 181.5,364.5 185.5,363.8 189.4,363.5 193.3,363.5 197.3,363.6 201.2,363.3 205.1,362.7 209.1,362.3 213.0,363.5 216.9,366.2 220.8,368.8 224.8,369.4 228.7,370.1 232.6,371.0 236.6,372.2 240.5,373.5 244.4,374.5 248.3,375.9 252.3,378.1 256.2,380.7 260.1,383.7 264.1,387.2 268.0,390.8 271.9,394.1 275.8,397.0 279.8,399.7 283.7,401.8 287.6,403.7 291.6,405.4 295.5,406.8 299.4,408.0 303.3,408.9 307.3,409.5 311.2,409.8 315.1,410.0 319.1,410.2 323.0,410.4 326.9,410.6 330.8,411.0 334.8,411.4 338.7,411.8 342.6,412.2 346.6,412.7 350.5,413.2 354.4,413.8 358.3,414.4 362.3,415.1 366.2,416.0 370.1,416.9 374.1,417.9 378.0,418.9 381.9,419.8 385.8,420.7 389.8,421.7 393.7,422.5 397.6,423.4 401.6,424.1 405.5,424.8 409.4,425.4 413.3,425.9 417.3,426.4 421.2,426.8 425.1,427.1 429.1,427.4 433.0,427.7 436.9,427.9 440.8,428.0 444.8,428.2 448.7,428.3 452.6,428.4 456.6,428.4 460.5,428.5 464.4,428.6 468.3,428.6 472.3,428.6 476.2,428.6 480.1,428.6 484.1,428.5 488.0,428.5 491.9,428.6 495.8,428.6 499.8,428.6 503.7,428.7 507.6,428.8 511.6,428.9 515.5,429.1 519.4,429.2 523.4,429.3 527.3,429.5 531.2,429.6 535.1,429.6 539.1,429.7 543.0,429.7 546.9,429.7 550.9,429.6 554.8,429.6 558.7,429.5 562.6,429.4 566.6,429.2 570.5,429.1 574.4,428.9 578.4,428.8 582.3,428.6 586.2,428.5 590.1,428.3 594.1,428.2 598.0,428.1 601.9,428.0 605.9,427.8 609.8,427.7 613.7,427.6 617.6,427.5 621.6,427.4 625.5,427.3 629.4,427.2 633.4,427.1 637.3,427.1 641.2,427.1 645.1,427.2 649.1,427.2 653.0,427.3 656.9,427.3 660.9,427.4 664.8,427.5 668.7,427.6 672.6,427.7 676.6,427.8 680.5,427.9"/>
<polyline class="g" points="51.9,394.8 59.8,376.5 67.6,370.2 75.5,372.9 83.3,359.6 91.2,350.6 99.0,366.7 106.9,380.6 114.8,381.5 122.6,376.5 130.5,371.0 134.4,372.5 138.3,368.7 142.3,376.0 146.2,384.1 150.1,387.4 154.0,391.3 158.0,395.7 161.9,399.6 165.8,403.1 169.8,406.4 173.7,409.5 177.6,411.3 181.5,412.2 185.5,410.9 189.4,409.3 193.3,407.6 197.3,408.3 201.2,410.9 205.1,412.5 209.1,413.5 213.0,413.9 216.9,413.7 220.8,413.1 224.8,412.3 228.7,411.2 232.6,409.7 236.6,409.1 240.5,410.2 244.4,411.7 248.3,412.0 252.3,411.4 256.2,410.5 260.1,409.5 264.1,408.4 268.0,407.3 271.9,406.2 275.8,405.2 279.8,404.2 283.7,403.5 287.6,403.0 291.6,403.0 295.5,403.1 299.4,403.3 303.3,403.6 307.3,404.0 311.2,404.4 315.1,404.9 319.1,405.5 323.0,406.2 326.9,407.1 330.8,408.0 334.8,409.0 338.7,410.1 342.6,411.2 346.6,412.3 350.5,413.4 354.4,414.8 358.3,416.4 362.3,417.8 366.2,419.3 370.1,420.5 374.1,421.7 378.0,422.7 381.9,423.5 385.8,424.3 389.8,424.9 393.7,425.5 397.6,425.8 401.6,426.2 405.5,426.3 409.4,426.4 413.3,426.4 417.3,426.2 421.2,426.0 425.1,425.6 429.1,425.3 433.0,424.8 436.9,424.3 440.8,423.8 444.8,423.4 448.7,422.8 452.6,422.3 456.6,422.2 460.5,422.4 464.4,422.5 468.3,422.6 472.3,422.7 476.2,422.9 480.1,423.0 484.1,423.1 488.0,423.2 491.9,423.3 495.8,423.4 499.8,423.6 503.7,423.7 507.6,424.0 511.6,424.2 515.5,424.5 519.4,424.9 523.4,425.3 527.3,425.7 531.2,426.1 535.1,426.5 539.1,426.9 543.0,427.3 546.9,427.7 550.9,428.1 554.8,428.5 558.7,428.8 562.6,429.2 566.6,429.5 570.5,429.8 574.4,430.2 578.4,430.5 582.3,430.9 586.2,431.2 590.1,431.6 594.1,431.9 598.0,432.2 601.9,432.6 605.9,432.9 609.8,433.2 613.7,433.6 617.6,434.0 621.6,434.4 625.5,434.7 629.4,435.1 633.4,435.4 637.3,435.7 641.2,436.0 645.1,436.3 649.1,436.5 653.0,436.8 656.9,437.0 660.9,437.2 664.8,437.5 668.7,437.7 672.6,437.9 676.6,438.1 680.5,438.3"/>
<polyline class="g" points="51.9,398.7 59.8,385.8 67.6,353.2 75.5,293.8 83.3,239.5 91.2,226.9 99.0,249.8 106.9,308.3 114.8,323.9 122.6,341.8 130.5,350.7 134.4,355.8 138.3,353.1 142.3,375.0 146.2,379.6 150.1,385.9 154.0,392.4 158.0,396.8 161.9,399.8 165.8,401.4 169.8,402.1 173.7,401.9 177.6,399.7 181.5,396.2 185.5,391.1 189.4,386.4 193.3,383.2 197.3,381.6 201.2,380.8 205.1,380.5 209.1,381.0 213.0,381.9 216.9,383.1 220.8,384.3 224.8,385.3 228.7,386.5 232.6,387.8 236.6,389.1 240.5,390.4 244.4,391.7 248.3,392.8 252.3,393.7 256.2,394.5 260.1,395.1 264.1,395.6 268.0,396.0 271.9,396.2 275.8,396.2 279.8,396.1 283.7,396.1 287.6,396.0 291.6,396.1 295.5,396.2 299.4,396.3 303.3,396.4 307.3,396.4 311.2,396.5 315.1,396.6 319.1,396.4 323.0,396.2 326.9,396.1 330.8,396.1 334.8,396.0 338.7,396.1 342.6,396.6 346.6,397.3 350.5,398.1 354.4,398.9 358.3,399.8 362.3,400.9 366.2,402.0 370.1,403.2 374.1,404.5 378.0,405.5 381.9,406.5 385.8,407.5 389.8,408.5 393.7,409.6 397.6,410.5 401.6,411.4 405.5,412.2 409.4,412.9 413.3,413.6 417.3,414.3 421.2,415.0 425.1,415.7 429.1,416.4 433.0,417.2 436.9,418.2 440.8,419.0 444.8,419.7 448.7,420.3 452.6,420.9 456.6,421.4 460.5,421.9 464.4,422.5 468.3,422.9 472.3,423.4 476.2,423.8 480.1,424.1 484.1,424.4 488.0,424.8 491.9,425.0 495.8,425.2 499.8,425.5 503.7,425.6 507.6,425.8 511.6,426.0 515.5,426.1 519.4,426.2 523.4,426.4 527.3,426.5 531.2,426.6 535.1,426.7 539.1,426.7 543.0,426.8 546.9,426.8 550.9,426.8 554.8,426.7 558.7,426.7 562.6,426.7 566.6,426.7 570.5,426.7 574.4,426.8 578.4,426.8 582.3,427.0 586.2,427.1 590.1,427.2 594.1,427.4 598.0,427.6 601.9,427.8 605.9,428.0 609.8,428.2 613.7,428.5 617.6,428.7 621.6,428.9 625.5,429.1 629.4,429.4 633.4,429.6 637.3,429.9 641.2,430.2 645.1,430.5 649.1,430.8 653.0,431.1 656.9,431.4 660.9,431.6 664.8,432.0 668.7,432.3 672.6,432.6 676.6,432.9 680.5,433.2"/>
<polyline class="g" points="51.9,384.0 59.8,379.2 67.6,315.5 75.5,317.7 83.3,302.9 91.2,348.3 99.0,350.2 106.9,351.1 114.8,318.1 122.6,340.5 130.5,341.0 134.4,336.7 138.3,343.4 142.3,343.8 146.2,352.8 150.1,365.0 154.0,374.4 158.0,382.4 161.9,388.9 165.8,394.2 169.8,398.6 173.7,402.4 177.6,404.7 181.5,405.9 185.5,405.1 189.4,403.9 193.3,402.9 197.3,403.9 201.2,406.5 205.1,408.3 209.1,409.5 213.0,410.1 216.9,410.1 220.8,409.7 224.8,409.1 228.7,408.3 232.6,407.4 236.6,407.3 240.5,409.1 244.4,411.5 248.3,413.2 252.3,414.3 256.2,415.4 260.1,416.5 264.1,417.7 268.0,418.7 271.9,419.7 275.8,420.6 279.8,421.3 283.7,422.0 287.6,422.7 291.6,423.6 295.5,424.8 299.4,426.1 303.3,427.4 307.3,428.5 311.2,429.2 315.1,429.6 319.1,430.0 323.0,430.3 326.9,430.5 330.8,430.6 334.8,430.7 338.7,430.6 342.6,430.6 346.6,430.4 350.5,430.3 354.4,430.1 358.3,429.9 362.3,429.7 366.2,429.6 370.1,429.4 374.1,429.2 378.0,429.1 381.9,429.0 385.8,428.9 389.8,428.9 393.7,428.9 397.6,428.9 401.6,429.0 405.5,429.1 409.4,429.2 413.3,429.3 417.3,429.5 421.2,429.6 425.1,429.8 429.1,429.9 433.0,430.0 436.9,430.1 440.8,430.2 444.8,430.3 448.7,430.3 452.6,430.4 456.6,430.4 460.5,430.4 464.4,430.3 468.3,430.2 472.3,430.0 476.2,429.9 480.1,429.7 484.1,429.5 488.0,429.3 491.9,429.1 495.8,428.9 499.8,428.8 503.7,428.7 507.6,428.7 511.6,428.7 515.5,428.7 519.4,428.8 523.4,428.9 527.3,429.1 531.2,429.3 535.1,429.5 539.1,429.7 543.0,429.9 546.9,430.2 550.9,430.5 554.8,430.8 558.7,431.1 562.6,431.4 566.6,431.8 570.5,432.2 574.4,432.7 578.4,433.2 582.3,433.8 586.2,434.3 590.1,434.9 594.1,435.5 598.0,436.0 601.9,436.6 605.9,437.1 609.8,437.7 613.7,438.2 617.6,438.8 621.6,439.4 625.5,440.0 629.4,440.6 633.4,441.0 637.3,441.4 641.2,441.7 645.1,441.9 649.1,442.2 653.0,442.5 656.9,442.7 660.9,442.9 664.8,443.2 668.7,443.4 672.6,443.6 676.6,443.8 680.5,444.0"/>
<polyline class="g" points="51.9,376.3 59.8,379.5 67.6,361.1 75.5,331.8 83.3,329.7 91.2,297.0 99.0,297.0 106.9,315.3 114.8,287.4 122.6,284.0 130.5,324.2 134.4,315.5 138.3,322.3 142.3,331.0 146.2,336.9 150.1,345.5 154.0,350.9 158.0,356.1 161.9,363.2 165.8,368.8 169.8,372.8 173.7,375.5 177.6,376.7 181.5,377.1 185.5,376.7 189.4,376.7 193.3,377.4 197.3,378.7 201.2,380.2 205.1,381.7 209.1,383.1 213.0,384.3 216.9,385.1 220.8,385.8 224.8,386.2 228.7,386.3 232.6,386.2 236.6,385.9 240.5,385.2 244.4,383.9 248.3,382.3 252.3,380.7 256.2,379.1 260.1,377.6 264.1,377.0 268.0,376.8 271.9,376.9 275.8,377.6 279.8,379.0 283.7,380.8 287.6,382.5 291.6,384.4 295.5,386.3 299.4,387.9 303.3,389.3 307.3,390.5 311.2,391.6 315.1,392.4 319.1,392.8 323.0,393.2 326.9,393.6 330.8,394.0 334.8,394.4 338.7,395.0 342.6,396.0 346.6,397.2 350.5,398.3 354.4,399.5 358.3,400.8 362.3,402.2 366.2,403.6 370.1,405.0 374.1,406.3 378.0,407.5 381.9,408.5 385.8,409.6 389.8,410.5 393.7,411.5 397.6,412.3 401.6,413.1 405.5,413.7 409.4,414.3 413.3,414.8 417.3,415.3 421.2,415.7 425.1,416.2 429.1,416.6 433.0,417.2 436.9,417.9 440.8,418.6 444.8,419.1 448.7,419.5 452.6,419.9 456.6,420.3 460.5,420.6 464.4,421.0 468.3,421.3 472.3,421.7 476.2,422.0 480.1,422.3 484.1,422.6 488.0,422.9 491.9,423.3 495.8,423.6 499.8,424.0 503.7,424.4 507.6,424.8 511.6,425.3 515.5,425.8 519.4,426.4 523.4,427.0 527.3,427.6 531.2,428.2 535.1,428.8 539.1,429.4 543.0,430.1 546.9,430.9 550.9,431.5 554.8,432.2 558.7,432.8 562.6,433.4 566.6,434.0 570.5,434.6 574.4,435.1 578.4,435.7 582.3,436.3 586.2,436.8 590.1,437.3 594.1,437.8 598.0,438.2 601.9,438.6 605.9,439.0 609.8,439.3 613.7,439.7 617.6,440.1 621.6,440.5 625.5,440.9 629.4,441.3 633.4,441.5 637.3,441.6 641.2,441.8 645.1,441.9 649.1,442.0 653.0,442.0 656.9,442.1 660.9,442.2 664.8,442.3 668.7,442.3 672.6,442.4 676.6,442.4 680.5,442.5"/>
<polyline class="g" points="51.9,375.4 59.8,349.1 67.6,330.1 75.5,365.4 83.3,317.5 91.2,257.7 99.0,287.7 106.9,317.8 114.8,292.6 122.6,335.8 130.5,347.2 134.4,343.7 138.3,338.0 142.3,349.9 146.2,346.3 150.1,346.0 154.0,349.7 158.0,351.4 161.9,353.4 165.8,355.7 169.8,358.3 173.7,361.0 177.6,363.9 181.5,367.0 185.5,370.4 189.4,374.7 193.3,378.7 197.3,382.6 201.2,386.7 205.1,390.4 209.1,393.7 213.0,396.4 216.9,398.4 220.8,399.8 224.8,400.7 228.7,401.1 232.6,401.1 236.6,401.5 240.5,402.8 244.4,404.4 248.3,405.0 252.3,405.0 256.2,404.7 260.1,404.5 264.1,404.4 268.0,404.4 271.9,404.6 275.8,405.0 279.8,405.6 283.7,406.5 287.6,407.5 291.6,408.8 295.5,410.3 299.4,412.0 303.3,413.7 307.3,415.5 311.2,417.0 315.1,418.5 319.1,419.8 323.0,421.1 326.9,422.1 330.8,423.0 334.8,423.7 338.7,424.3 342.6,424.7 346.6,425.0 350.5,425.1 354.4,425.2 358.3,425.2 362.3,425.1 366.2,425.0 370.1,424.8 374.1,424.6 378.0,424.4 381.9,424.1 385.8,423.9 389.8,423.7 393.7,423.5 397.6,423.3 401.6,423.2 405.5,423.2 409.4,423.2 413.3,423.3 417.3,423.4 421.2,423.5 425.1,423.7 429.1,423.9 433.0,424.2 436.9,424.5 440.8,424.8 444.8,425.1 448.7,425.3 452.6,425.6 456.6,425.9 460.5,426.1 464.4,426.3 468.3,426.4 472.3,426.6 476.2,426.7 480.1,426.7 484.1,426.8 488.0,426.8 491.9,426.9 495.8,426.9 499.8,427.0 503.7,427.0 507.6,427.1 511.6,427.2 515.5,427.4 519.4,427.5 523.4,427.7 527.3,427.9 531.2,428.1 535.1,428.3 539.1,428.5 543.0,428.6 546.9,428.8 550.9,429.0 554.8,429.2 558.7,429.3 562.6,429.5 566.6,429.7 570.5,430.0 574.4,430.2 578.4,430.5 582.3,430.8 586.2,431.1 590.1,431.4 594.1,431.8 598.0,432.1 601.9,432.5 605.9,432.9 609.8,433.2 613.7,433.7 617.6,434.3 621.6,434.8 625.5,435.3 629.4,435.9 633.4,436.4 637.3,436.8 641.2,437.3 645.1,437.7 649.1,438.1 653.0,438.5 656.9,438.8 660.9,439.2 664.8,439.6 668.7,439.9 672.6,440.2 676.6,440.5 680.5,440.8"/>
<polyline class="g" points="51.9,387.4 59.8,380.5 67.6,364.3 75.5,326.6 83.3,313.8 91.2,209.2 99.0,245.0 106.9,279.7 114.8,297.8 122.6,313.8 130.5,328.4 134.4,323.3 138.3,324.9 142.3,325.4 146.2,334.3 150.1,337.3 154.0,341.1 158.0,342.7 161.9,344.1 165.8,346.1 169.8,348.7 173.7,351.2 177.6,354.3 181.5,358.2 185.5,363.1 189.4,367.5 193.3,371.8 197.3,375.5 201.2,378.4 205.1,380.6 209.1,382.2 213.0,383.2 216.9,383.6 220.8,383.8 224.8,383.6 228.7,383.3 232.6,383.2 236.6,383.2 240.5,383.2 244.4,383.2 248.3,383.3 252.3,383.8 256.2,384.7 260.1,385.8 264.1,387.3 268.0,389.1 271.9,390.8 275.8,392.4 279.8,394.0 283.7,395.5 287.6,396.8 291.6,398.0 295.5,399.2 299.4,400.1 303.3,401.0 307.3,401.7 311.2,402.4 315.1,403.0 319.1,403.7 323.0,404.4 326.9,405.2 330.8,406.1 334.8,407.0 338.7,407.9 342.6,408.9 346.6,409.9 350.5,411.0 354.4,412.0 358.3,412.9 362.3,413.8 366.2,414.6 370.1,415.3 374.1,415.9 378.0,416.6 381.9,417.2 385.8,417.6 389.8,418.0 393.7,418.1 397.6,418.1 401.6,417.9 405.5,417.9 409.4,417.8 413.3,417.8 417.3,417.7 421.2,417.6 425.1,417.4 429.1,417.2 433.0,417.2 436.9,417.4 440.8,417.7 444.8,417.9 448.7,417.9 452.6,417.9 456.6,418.0 460.5,418.0 464.4,418.0 468.3,417.9 472.3,417.9 476.2,417.7 480.1,417.6 484.1,417.5 488.0,417.4 491.9,417.3 495.8,417.1 499.8,417.0 503.7,416.9 507.6,416.9 511.6,416.9 515.5,417.1 519.4,417.3 523.4,417.6 527.3,417.9 531.2,418.2 535.1,418.5 539.1,418.8 543.0,419.0 546.9,419.3 550.9,419.6 554.8,419.9 558.7,420.2 562.6,420.6 566.6,421.0 570.5,421.3 574.4,421.8 578.4,422.2 582.3,422.6 586.2,423.0 590.1,423.5 594.1,423.9 598.0,424.4 601.9,424.8 605.9,425.2 609.8,425.6 613.7,426.0 617.6,426.3 621.6,426.6 625.5,427.0 629.4,427.3 633.4,427.6 637.3,427.9 641.2,428.2 645.1,428.6 649.1,428.9 653.0,429.2 656.9,429.5 660.9,429.8 664.8,430.1 668.7,430.4 672.6,430.7 676.6,431.0 680.5,431.3"/>
<polyline class="g" points="51.9,396.4 59.8,388.7 67.6,339.0 75.5,313.0 83.3,282.3 91.2,325.5 99.0,295.2 106.9,295.3 114.8,304.7 122.6,315.5 130.5,319.9 134.4,318.6 138.3,339.6 142.3,333.3 146.2,345.2 150.1,347.8 154.0,349.9 158.0,352.2 161.9,354.1 165.8,355.9 169.8,357.8 173.7,359.7 177.6,361.8 181.5,364.4 185.5,367.3 189.4,370.5 193.3,373.8 197.3,377.0 201.2,380.4 205.1,383.5 209.1,386.1 213.0,388.2 216.9,389.6 220.8,390.6 224.8,391.3 228.7,391.8 232.6,392.3 236.6,393.0 240.5,394.0 244.4,395.4 248.3,396.6 252.3,397.9 256.2,399.4 260.1,401.1 264.1,403.1 268.0,405.2 271.9,407.3 275.8,409.2 279.8,411.0 283.7,412.8 287.6,414.4 291.6,416.0 295.5,417.8 299.4,419.6 303.3,421.3 307.3,422.7 311.2,423.7 315.1,424.5 319.1,425.2 323.0,425.7 326.9,426.0 330.8,426.3 334.8,426.4 338.7,426.4 342.6,426.2 346.6,426.0 350.5,425.7 354.4,425.4 358.3,425.1 362.3,424.6 366.2,424.1 370.1,423.6 374.1,423.1 378.0,422.5 381.9,421.9 385.8,421.4 389.8,420.8 393.7,420.2 397.6,419.6 401.6,419.0 405.5,418.5 409.4,418.1 413.3,418.1 417.3,418.1 421.2,418.1 425.1,418.2 429.1,418.2 433.0,418.4 436.9,418.7 440.8,419.1 444.8,419.4 448.7,419.6 452.6,419.9 456.6,420.1 460.5,420.3 464.4,420.5 468.3,420.7 472.3,420.9 476.2,421.0 480.1,421.2 484.1,421.3 488.0,421.5 491.9,421.6 495.8,421.8 499.8,422.0 503.7,422.2 507.6,422.5 511.6,422.8 515.5,423.2 519.4,423.7 523.4,424.2 527.3,424.8 531.2,425.3 535.1,425.9 539.1,426.5 543.0,427.1 546.9,427.7 550.9,428.3 554.8,428.8 558.7,429.4 562.6,430.0 566.6,430.6 570.5,431.1 574.4,431.8 578.4,432.5 582.3,433.3 586.2,434.0 590.1,434.7 594.1,435.3 598.0,435.9 601.9,436.5 605.9,437.0 609.8,437.5 613.7,438.0 617.6,438.5 621.6,439.0 625.5,439.4 629.4,439.8 633.4,440.1 637.3,440.3 641.2,440.5 645.1,440.6 649.1,440.7 653.0,440.8 656.9,440.9 660.9,440.9 664.8,441.0 668.7,441.0 672.6,441.0 676.6,441.0 680.5,441.0"/>
<polyline class="g" points="51.9,372.1 59.8,366.4 67.6,383.1 75.5,389.9 83.3,383.9 91.2,344.1 99.0,350.2 106.9,357.5 114.8,344.5 122.6,351.8 130.5,339.2 134.4,329.8 138.3,344.5 142.3,343.0 146.2,348.9 150.1,350.7 154.0,357.6 158.0,364.8 161.9,371.6 165.8,377.8 169.8,383.5 173.7,388.9 177.6,393.0 181.5,395.9 185.5,396.6 189.4,396.6 193.3,396.3 197.3,397.3 201.2,399.3 205.1,400.1 209.1,400.2 213.0,399.5 216.9,398.2 220.8,396.6 224.8,394.9 228.7,393.6 232.6,392.6 236.6,392.3 240.5,392.7 244.4,393.4 248.3,394.3 252.3,395.7 256.2,397.4 260.1,399.4 264.1,401.5 268.0,403.7 271.9,405.8 275.8,407.6 279.8,409.3 283.7,410.8 287.6,412.1 291.6,413.5 295.5,415.0 299.4,416.5 303.3,418.0 307.3,419.3 311.2,420.3 315.1,421.2 319.1,422.0 323.0,422.8 326.9,423.5 330.8,424.2 334.8,424.7 338.7,425.2 342.6,425.6 346.6,426.0 350.5,426.3 354.4,426.5 358.3,426.7 362.3,426.9 366.2,427.1 370.1,427.2 374.1,427.3 378.0,427.3 381.9,427.4 385.8,427.4 389.8,427.5 393.7,427.5 397.6,427.7 401.6,427.8 405.5,427.9 409.4,428.1 413.3,428.3 417.3,428.5 421.2,428.7 425.1,429.0 429.1,429.3 433.0,429.7 436.9,430.0 440.8,430.4 444.8,430.8 448.7,431.2 452.6,431.5 456.6,431.9 460.5,432.2 464.4,432.5 468.3,432.8 472.3,433.0 476.2,433.2 480.1,433.4 484.1,433.5 488.0,433.6 491.9,433.8 495.8,433.9 499.8,434.1 503.7,434.3 507.6,434.5 511.6,434.8 515.5,435.2 519.4,435.6 523.4,436.0 527.3,436.4 531.2,436.9 535.1,437.4 539.1,438.0 543.0,438.4 546.9,438.8 550.9,439.1 554.8,439.4 558.7,439.6 562.6,439.9 566.6,440.1 570.5,440.4 574.4,440.7 578.4,441.0 582.3,441.3 586.2,441.6 590.1,441.9 594.1,442.1 598.0,442.3 601.9,442.5 605.9,442.7 609.8,442.9 613.7,443.1 617.6,443.4 621.6,443.7 625.5,444.0 629.4,444.2 633.4,444.4 637.3,444.5 641.2,444.6 645.1,444.6 649.1,444.7 653.0,444.7 656.9,444.8 660.9,444.9 664.8,444.9 668.7,445.0 672.6,445.1 676.6,445.1 680.5,445.2"/>
<polyline class="g" points="51.9,404.7 59.8,386.7 67.6,315.1 75.5,306.0 83.3,341.3 91.2,295.3 99.0,329.6 106.9,375.0 114.8,346.2 122.6,368.3 130.5,349.2 134.4,364.1 138.3,375.9 142.3,363.6 146.2,364.9 150.1,363.1 154.0,359.4 158.0,356.4 161.9,356.2 165.8,356.3 169.8,356.7 173.7,357.3 177.6,358.0 181.5,359.1 185.5,361.3 189.4,363.5 193.3,366.0 197.3,368.5 201.2,370.6 205.1,372.5 209.1,374.5 213.0,377.0 216.9,379.7 220.8,382.2 224.8,384.0 228.7,386.0 232.6,388.2 236.6,390.6 240.5,393.3 244.4,396.4 248.3,399.4 252.3,401.9 256.2,404.1 260.1,406.1 264.1,407.8 268.0,409.3 271.9,410.4 275.8,411.3 279.8,412.0 283.7,412.6 287.6,413.1 291.6,413.7 295.5,414.4 299.4,415.1 303.3,415.9 307.3,416.4 311.2,416.7 315.1,417.0 319.1,417.4 323.0,417.8 326.9,418.3 330.8,418.8 334.8,419.3 338.7,419.7 342.6,420.2 346.6,420.6 350.5,421.0 354.4,421.4 358.3,421.8 362.3,422.1 366.2,422.4 370.1,422.6 374.1,422.8 378.0,422.9 381.9,422.9 385.8,422.9 389.8,422.8 393.7,422.7 397.6,422.4 401.6,422.2 405.5,421.8 409.4,421.4 413.3,420.9 417.3,420.5 421.2,420.0 425.1,419.5 429.1,419.5 433.0,419.6 436.9,419.8 440.8,420.0 444.8,420.3 448.7,420.5 452.6,420.8 456.6,421.1 460.5,421.3 464.4,421.7 468.3,422.0 472.3,422.3 476.2,422.6 480.1,422.9 484.1,423.2 488.0,423.6 491.9,423.9 495.8,424.3 499.8,424.7 503.7,425.2 507.6,425.6 511.6,426.1 515.5,426.6 519.4,427.2 523.4,427.7 527.3,428.3 531.2,428.8 535.1,429.4 539.1,430.0 543.0,430.6 546.9,431.1 550.9,431.6 554.8,432.1 558.7,432.5 562.6,432.9 566.6,433.3 570.5,433.7 574.4,434.1 578.4,434.5 582.3,434.9 586.2,435.3 590.1,435.7 594.1,436.0 598.0,436.3 601.9,436.7 605.9,437.0 609.8,437.3 613.7,437.6 617.6,438.0 621.6,438.4 625.5,438.8 629.4,439.2 633.4,439.5 637.3,439.8 641.2,440.0 645.1,440.2 649.1,440.5 653.0,440.7 656.9,441.0 660.9,441.2 664.8,441.5 668.7,441.7 672.6,442.0 676.6,442.2 680.5,442.5"/>
<polyline class="g" points="51.9,385.6 59.8,375.0 67.6,336.8 75.5,266.8 83.3,241.3 91.2,223.4 99.0,259.7 106.9,265.4 114.8,279.3 122.6,287.2 130.5,295.8 134.4,294.2 138.3,297.5 142.3,298.7 146.2,306.8 150.1,311.4 154.0,317.4 158.0,318.3 161.9,318.9 165.8,320.9 169.8,323.0 173.7,323.4 177.6,323.7 181.5,325.0 185.5,330.1 189.4,334.1 193.3,337.7 197.3,340.7 201.2,342.2 205.1,342.7 209.1,343.4 213.0,347.0 216.9,352.8 220.8,357.8 224.8,358.8 228.7,359.6 232.6,360.4 236.6,361.2 240.5,361.7 244.4,361.1 248.3,360.7 252.3,361.3 256.2,362.2 260.1,363.6 264.1,366.3 268.0,369.4 271.9,372.6 275.8,376.0 279.8,379.7 283.7,383.4 287.6,386.6 291.6,389.6 295.5,392.3 299.4,394.5 303.3,396.4 307.3,397.9 311.2,399.2 315.1,400.2 319.1,401.0 323.0,401.8 326.9,402.6 330.8,403.3 334.8,403.9 338.7,404.4 342.6,405.1 346.6,405.8 350.5,406.4 354.4,407.1 358.3,407.8 362.3,408.4 366.2,409.1 370.1,409.8 374.1,410.5 378.0,411.1 381.9,411.6 385.8,412.2 389.8,412.7 393.7,413.3 397.6,413.8 401.6,414.2 405.5,414.7 409.4,415.1 413.3,415.5 417.3,415.8 421.2,416.2 425.1,416.5 429.1,416.9 433.0,417.4 436.9,418.1 440.8,418.7 444.8,419.2 448.7,419.6 452.6,420.0 456.6,420.3 460.5,420.7 464.4,421.0 468.3,421.3 472.3,421.5 476.2,421.7 480.1,421.9 484.1,422.0 488.0,422.2 491.9,422.3 495.8,422.4 499.8,422.5 503.7,422.6 507.6,422.7 511.6,422.8 515.5,422.9 519.4,423.1 523.4,423.4 527.3,423.6 531.2,423.8 535.1,424.0 539.1,424.2 543.0,424.4 546.9,424.5 550.9,424.7 554.8,424.9 558.7,425.1 562.6,425.2 566.6,425.4 570.5,425.7 574.4,425.9 578.4,426.2 582.3,426.4 586.2,426.7 590.1,427.0 594.1,427.3 598.0,427.6 601.9,427.9 605.9,428.2 609.8,428.5 613.7,428.8 617.6,429.1 621.6,429.4 625.5,429.6 629.4,429.9 633.4,430.2 637.3,430.4 641.2,430.7 645.1,431.0 649.1,431.3 653.0,431.6 656.9,431.9 660.9,432.1 664.8,432.4 668.7,432.7 672.6,433.0 676.6,433.3 680.5,433.6"/>
<polyline class="g" points="51.9,384.9 59.8,372.6 67.6,354.9 75.5,350.9 83.3,301.5 91.2,319.6 99.0,335.3 106.9,359.6 114.8,332.3 122.6,313.1 130.5,309.2 134.4,310.7 138.3,315.1 142.3,318.6 146.2,325.3 150.1,329.4 154.0,336.3 158.0,342.7 161.9,350.2 165.8,358.3 169.8,371.0 173.7,384.0 177.6,393.1 181.5,398.7 185.5,400.6 189.4,400.8 193.3,400.3 197.3,401.2 201.2,403.4 205.1,404.5 209.1,404.9 213.0,404.8 216.9,404.1 220.8,403.2 224.8,402.3 228.7,401.3 232.6,400.4 236.6,400.1 240.5,401.0 244.4,402.1 248.3,402.6 252.3,402.6 256.2,402.6 260.1,402.6 264.1,402.7 268.0,402.9 271.9,403.2 275.8,403.6 279.8,404.1 283.7,404.8 287.6,405.7 291.6,406.7 295.5,408.0 299.4,409.4 303.3,411.0 307.3,412.7 311.2,414.4 315.1,416.2 319.1,418.0 323.0,419.8 326.9,421.5 330.8,423.1 334.8,424.5 338.7,425.8 342.6,426.9 346.6,427.9 350.5,428.7 354.4,429.5 358.3,430.2 362.3,430.8 366.2,431.4 370.1,431.8 374.1,432.3 378.0,432.6 381.9,432.9 385.8,433.2 389.8,433.4 393.7,433.5 397.6,433.6 401.6,433.6 405.5,433.6 409.4,433.5 413.3,433.3 417.3,433.1 421.2,432.8 425.1,432.4 429.1,431.9 433.0,431.3 436.9,430.8 440.8,430.1 444.8,429.5 448.7,428.7 452.6,428.0 456.6,427.3 460.5,426.6 464.4,426.0 468.3,425.4 472.3,424.9 476.2,424.4 480.1,424.4 484.1,424.5 488.0,424.5 491.9,424.6 495.8,424.7 499.8,424.9 503.7,425.1 507.6,425.3 511.6,425.6 515.5,425.9 519.4,426.4 523.4,426.8 527.3,427.3 531.2,427.8 535.1,428.4 539.1,428.9 543.0,429.5 546.9,430.0 550.9,430.7 554.8,431.4 558.7,432.0 562.6,432.6 566.6,433.2 570.5,433.8 574.4,434.4 578.4,435.0 582.3,435.5 586.2,436.1 590.1,436.7 594.1,437.1 598.0,437.6 601.9,438.0 605.9,438.3 609.8,438.7 613.7,439.1 617.6,439.5 621.6,439.9 625.5,440.3 629.4,440.6 633.4,440.8 637.3,440.9 641.2,441.0 645.1,441.1 649.1,441.2 653.0,441.2 656.9,441.3 660.9,441.3 664.8,441.3 668.7,441.3 672.6,441.3 676.6,441.3 680.5,441.3"/>
<polyline class="g" points="51.9,395.7 59.8,359.6 67.6,313.9 75.5,246.3 83.3,227.8 91.2,190.5 99.0,232.7 106.9,304.4 114.8,329.8 122.6,342.7 130.5,355.2 134.4,375.6 138.3,372.5 142.3,377.3 146.2,384.3 150.1,389.3 154.0,391.2 158.0,392.8 161.9,392.8 165.8,391.4 169.8,388.9 173.7,385.7 177.6,381.9 181.5,378.3 185.5,375.9 189.4,375.4 193.3,376.4 197.3,378.7 201.2,381.3 205.1,384.3 209.1,387.1 213.0,389.8 216.9,392.0 220.8,393.7 224.8,395.0 228.7,395.9 232.6,396.5 236.6,397.2 240.5,398.5 244.4,399.8 248.3,400.3 252.3,400.1 256.2,399.5 260.1,398.6 264.1,397.6 268.0,396.8 271.9,396.1 275.8,395.3 279.8,394.6 283.7,394.0 287.6,393.6 291.6,393.4 295.5,393.4 299.4,393.5 303.3,393.6 307.3,393.6 311.2,393.7 315.1,393.7 319.1,393.3 323.0,392.9 326.9,392.6 330.8,392.3 334.8,391.8 338.7,391.5 342.6,391.8 346.6,392.3 350.5,392.7 354.4,393.3 358.3,394.0 362.3,394.9 366.2,395.9 370.1,397.0 374.1,398.2 378.0,399.2 381.9,400.1 385.8,401.0 389.8,402.1 393.7,403.1 397.6,404.0 401.6,404.9 405.5,405.6 409.4,406.4 413.3,407.0 417.3,407.7 421.2,408.3 425.1,408.9 429.1,409.6 433.0,410.9 436.9,412.6 440.8,414.2 444.8,415.2 448.7,416.0 452.6,416.7 456.6,417.4 460.5,418.1 464.4,418.7 468.3,419.3 472.3,419.8 476.2,420.3 480.1,420.8 484.1,421.3 488.0,421.7 491.9,422.1 495.8,422.5 499.8,422.9 503.7,423.2 507.6,423.6 511.6,423.9 515.5,424.2 519.4,424.5 523.4,424.8 527.3,425.1 531.2,425.3 535.1,425.5 539.1,425.7 543.0,425.8 546.9,425.8 550.9,425.8 554.8,425.8 558.7,425.8 562.6,425.8 566.6,425.7 570.5,425.7 574.4,425.7 578.4,425.7 582.3,425.7 586.2,425.8 590.1,425.8 594.1,425.9 598.0,426.1 601.9,426.2 605.9,426.3 609.8,426.4 613.7,426.5 617.6,426.7 621.6,426.8 625.5,427.0 629.4,427.1 633.4,427.3 637.3,427.5 641.2,427.7 645.1,428.0 649.1,428.3 653.0,428.5 656.9,428.8 660.9,429.0 664.8,429.3 668.7,429.6 672.6,429.9 676.6,430.2 680.5,430.5"/>
<polyline class="g" points="51.9,369.0 59.8,332.3 67.6,329.6 75.5,340.2 83.3,292.0 91.2,271.8 99.0,270.5 106.9,288.2 114.8,333.3 122.6,332.6 130.5,337.1 134.4,342.5 138.3,346.0 142.3,338.3 146.2,329.9 150.1,332.8 154.0,332.0 158.0,330.7 161.9,329.6 165.8,330.0 169.8,330.9 173.7,330.8 177.6,330.8 181.5,332.0 185.5,336.3 189.4,340.0 193.3,343.4 197.3,346.3 201.2,348.2 205.1,349.3 209.1,350.8 213.0,354.6 216.9,360.2 220.8,365.2 224.8,367.3 228.7,369.6 232.6,372.2 236.6,374.9 240.5,377.7 244.4,380.3 248.3,383.0 252.3,385.9 256.2,388.7 260.1,391.4 264.1,394.0 268.0,396.3 271.9,398.3 275.8,399.8 279.8,401.1 283.7,402.2 287.6,403.0 291.6,403.6 295.5,404.2 299.4,404.7 303.3,405.1 307.3,405.4 311.2,405.7 315.1,406.0 319.1,406.3 323.0,406.6 326.9,407.0 330.8,407.4 334.8,407.7 338.7,408.0 342.6,408.3 346.6,408.6 350.5,408.9 354.4,409.2 358.3,409.5 362.3,409.8 366.2,410.1 370.1,410.5 374.1,410.8 378.0,411.0 381.9,411.2 385.8,411.4 389.8,411.7 393.7,411.9 397.6,412.2 401.6,412.4 405.5,412.6 409.4,412.8 413.3,412.9 417.3,413.1 421.2,413.2 425.1,413.4 429.1,413.6 433.0,414.1 436.9,415.0 440.8,415.9 444.8,416.5 448.7,416.8 452.6,417.2 456.6,417.5 460.5,417.8 464.4,418.1 468.3,418.3 472.3,418.5 476.2,418.6 480.1,418.7 484.1,418.8 488.0,418.8 491.9,418.8 495.8,418.8 499.8,418.8 503.7,418.8 507.6,418.8 511.6,418.8 515.5,418.9 519.4,419.1 523.4,419.3 527.3,419.5 531.2,419.7 535.1,419.9 539.1,420.0 543.0,420.2 546.9,420.4 550.9,420.5 554.8,420.7 558.7,420.9 562.6,421.2 566.6,421.4 570.5,421.8 574.4,422.1 578.4,422.5 582.3,422.9 586.2,423.3 590.1,423.8 594.1,424.2 598.0,424.7 601.9,425.2 605.9,425.7 609.8,426.2 613.7,426.6 617.6,427.1 621.6,427.5 625.5,428.0 629.4,428.4 633.4,428.8 637.3,429.3 641.2,429.7 645.1,430.1 649.1,430.6 653.0,431.0 656.9,431.4 660.9,431.7 664.8,432.1 668.7,432.4 672.6,432.8 676.6,433.1 680.5,433.4"/>
<polyline class="g" points="51.9,381.5 59.8,363.9 67.6,311.2 75.5,240.9 83.3,166.2 91.2,58.2 99.0,219.0 106.9,267.3 114.8,284.9 122.6,302.4 130.5,311.2 134.4,316.6 138.3,322.6 142.3,328.3 146.2,333.2 146.2,333.2 150.1,336.9 154.0,340.2 158.0,343.2 161.9,346.4 161.9,346.4 165.8,349.8 169.8,353.3 173.7,356.6 177.6,359.5 177.6,359.5 181.5,362.1 185.5,364.5 189.4,366.8 193.3,368.9 197.3,371.0 201.2,373.0 205.1,375.1 209.1,377.1 209.1,377.1 213.0,379.2 216.9,381.5 220.8,383.7 224.8,385.9 228.7,387.9 232.6,389.8 236.6,391.5 240.5,392.9 240.5,392.9 244.4,394.1 248.3,395.2 252.3,396.2 256.2,397.2 260.1,398.1 264.1,398.9 268.0,399.7 271.9,400.4 275.8,401.2 279.8,401.9 283.7,402.7 287.6,403.5 287.6,403.5 291.6,404.3 295.5,405.0 299.4,405.8 303.3,406.6 307.3,407.4 311.2,408.2 315.1,409.0 319.1,409.7 323.0,410.5 326.9,411.2 330.8,411.9 334.8,412.6 338.7,413.3 342.6,414.0 346.6,414.6 350.5,415.3 354.4,415.9 358.3,416.5 362.3,417.0 366.2,417.5 366.2,417.5 370.1,418.0 374.1,418.5 378.0,419.0 381.9,419.5 385.8,419.9 389.8,420.4 393.7,420.8 397.6,421.2 401.6,421.6 405.5,422.0 409.4,422.4 413.3,422.8 417.3,423.2 421.2,423.5 425.1,423.9 429.1,424.2 433.0,424.5 436.9,424.8 440.8,425.1 444.8,425.4 444.8,425.4 448.7,425.7 452.6,426.0 456.6,426.2 460.5,426.5 464.4,426.7 468.3,427.0 472.3,427.2 476.2,427.4 480.1,427.6 484.1,427.8 488.0,428.1 491.9,428.3 495.8,428.5 499.8,428.7 503.7,428.9 507.6,429.0 511.6,429.2 515.5,429.4 519.4,429.6 523.4,429.8 523.4,429.8 527.3,430.0 531.2,430.2 535.1,430.4 539.1,430.6 543.0,430.8 546.9,431.0 550.9,431.2 554.8,431.4 558.7,431.6 562.6,431.8 566.6,432.0 570.5,432.1 574.4,432.3 578.4,432.5 582.3,432.7 586.2,432.9 590.1,433.1 594.1,433.2 598.0,433.4 601.9,433.6 605.9,433.8 609.8,434.0 613.7,434.1 617.6,434.3 621.6,434.5 625.5,434.6 629.4,434.8 633.4,435.0 637.3,435.1 641.2,435.3 645.1,435.5 649.1,435.6 653.0,435.8 656.9,435.9 660.9,436.1 664.8,436.3 668.7,436.4 672.6,436.6 676.6,436.7 680.5,436.9 680.5,436.9"/>
<polyline class="g" points="51.9,399.1 59.8,368.3 67.6,262.9 75.2,152.2 83.3,240.9 91.2,271.7 99.0,293.6 106.9,311.2 114.8,324.4 122.6,333.2 130.5,342.0 134.4,345.7 138.3,349.1 142.3,352.3 146.2,355.1 146.2,355.1 150.1,357.8 154.0,360.2 158.0,362.5 161.9,364.7 165.8,366.8 169.8,368.9 173.7,370.8 177.6,372.7 177.6,372.7 181.5,374.6 185.5,376.4 189.4,378.1 193.3,379.8 197.3,381.5 201.2,383.0 205.1,384.5 209.1,385.9 209.1,385.9 213.0,387.2 216.9,388.6 220.8,389.9 224.8,391.2 228.7,392.4 232.6,393.7 236.6,394.9 240.5,396.1 244.4,397.3 248.3,398.4 252.3,399.5 256.2,400.6 260.1,401.6 264.1,402.6 268.0,403.6 271.9,404.5 275.8,405.4 279.8,406.3 283.7,407.1 287.6,407.9 287.6,407.9 291.6,408.6 295.5,409.3 299.4,410.0 303.3,410.7 307.3,411.4 311.2,412.0 315.1,412.6 319.1,413.3 323.0,413.8 326.9,414.4 330.8,415.0 334.8,415.5 338.7,416.0 342.6,416.5 346.6,417.0 350.5,417.5 354.4,418.0 358.3,418.4 362.3,418.9 366.2,419.3 366.2,419.3 370.1,419.7 374.1,420.1 378.0,420.5 381.9,420.9 385.8,421.3 389.8,421.7 393.7,422.0 397.6,422.4 401.6,422.8 405.5,423.1 409.4,423.5 413.3,423.8 417.3,424.1 421.2,424.5 425.1,424.8 429.1,425.1 433.0,425.5 436.9,425.8 440.8,426.1 444.8,426.4 448.7,426.7 452.6,427.0 456.6,427.3 460.5,427.6 464.4,427.8 468.3,428.1 472.3,428.4 476.2,428.7 480.1,428.9 484.1,429.2 488.0,429.4 491.9,429.7 495.8,429.9 499.8,430.2 503.7,430.4 507.6,430.7 511.6,430.9 515.5,431.1 519.4,431.4 523.4,431.6 523.4,431.6 527.3,431.8 531.2,432.0 535.1,432.2 539.1,432.5 543.0,432.7 546.9,432.9 550.9,433.1 554.8,433.3 558.7,433.5 562.6,433.7 566.6,433.9 570.5,434.1 574.4,434.3 578.4,434.5 582.3,434.7 586.2,434.9 590.1,435.1 594.1,435.3 598.0,435.5 601.9,435.7 605.9,435.8 609.8,436.0 613.7,436.2 617.6,436.4 621.6,436.5 625.5,436.7 629.4,436.9 633.4,437.0 637.3,437.2 641.2,437.3 645.1,437.5 649.1,437.6 653.0,437.7 656.9,437.9 660.9,438.0 664.8,438.1 668.7,438.3 672.6,438.4 676.6,438.5 680.5,438.6 680.5,438.6"/>
<polyline class="g" points="51.9,372.7 59.8,342.0 67.6,280.5 75.5,188.2 83.0,148.7 91.2,232.1 99.0,262.9 106.9,284.9 114.8,306.8 122.6,315.6 130.5,324.4 134.4,329.0 138.3,333.6 142.3,338.1 146.2,342.0 146.2,342.0 150.1,345.3 154.0,348.5 158.0,351.5 161.9,354.4 165.8,357.0 169.8,359.5 173.7,361.8 177.6,363.9 177.6,363.9 181.5,365.9 185.5,367.8 189.4,369.5 193.3,371.1 197.3,372.7 201.2,374.2 205.1,375.6 209.1,377.1 209.1,377.1 213.0,378.6 216.9,380.0 220.8,381.5 224.8,382.9 228.7,384.3 232.6,385.7 236.6,387.0 240.5,388.3 244.4,389.5 248.3,390.7 252.3,391.8 256.2,392.9 256.2,392.9 260.1,394.0 264.1,395.0 268.0,396.0 271.9,396.9 275.8,397.9 279.8,398.8 283.7,399.6 287.6,400.5 291.6,401.3 295.5,402.0 299.4,402.8 303.3,403.5 303.3,403.5 307.3,404.1 311.2,404.8 315.1,405.4 319.1,406.1 323.0,406.7 326.9,407.3 330.8,407.8 334.8,408.4 338.7,408.9 342.6,409.4 346.6,409.9 350.5,410.4 354.4,410.9 358.3,411.4 362.3,411.8 366.2,412.3 366.2,412.3 370.1,412.7 374.1,413.1 378.0,413.5 381.9,413.9 385.8,414.3 389.8,414.7 393.7,415.1 397.6,415.5 401.6,415.9 405.5,416.2 409.4,416.6 413.3,416.9 417.3,417.3 421.2,417.7 425.1,418.0 429.1,418.3 433.0,418.7 436.9,419.0 440.8,419.3 444.8,419.7 448.7,420.0 452.6,420.3 456.6,420.6 460.5,420.9 464.4,421.2 468.3,421.5 472.3,421.8 476.2,422.1 480.1,422.4 484.1,422.7 488.0,423.0 491.9,423.3 495.8,423.5 499.8,423.8 503.7,424.1 507.6,424.4 511.6,424.6 515.5,424.9 519.4,425.2 523.4,425.4 523.4,425.4 527.3,425.7 531.2,426.0 535.1,426.2 539.1,426.5 543.0,426.7 546.9,427.0 550.9,427.2 554.8,427.5 558.7,427.7 562.6,428.0 566.6,428.2 570.5,428.5 574.4,428.7 578.4,428.9 582.3,429.2 586.2,429.4 590.1,429.6 594.1,429.9 598.0,430.1 601.9,430.3 605.9,430.5 609.8,430.8 613.7,431.0 617.6,431.2 621.6,431.4 625.5,431.6 629.4,431.8 633.4,432.0 637.3,432.2 641.2,432.4 645.1,432.6 649.1,432.8 653.0,433.0 656.9,433.2 660.9,433.4 664.8,433.5 668.7,433.7 672.6,433.9 676.6,434.1 680.5,434.2 680.5,434.2"/>
<polyline class="g" points="51.9,403.5 59.8,381.5 67.6,337.6 75.5,298.0 83.3,254.1 91.2,219.0 99.0,197.0 106.9,181.2 114.8,219.0 122.6,249.7 126.5,306.8 130.5,320.0 134.4,324.8 138.3,327.9 142.3,330.4 146.2,333.2 146.2,333.2 150.1,336.5 154.0,339.8 158.0,343.1 161.9,346.4 161.9,346.4 165.8,349.8 169.8,353.5 173.7,356.8 177.6,359.5 177.6,359.5 181.5,361.7 185.5,363.5 189.4,365.2 193.3,366.8 197.3,368.2 201.2,369.7 205.1,371.1 209.1,372.7 209.1,372.7 213.0,374.4 216.9,376.1 220.8,377.9 224.8,379.6 228.7,381.3 232.6,383.0 236.6,384.5 240.5,385.9 240.5,385.9 244.4,387.2 248.3,388.5 252.3,389.7 256.2,390.9 260.1,392.1 264.1,393.2 268.0,394.3 271.9,395.4 275.8,396.3 279.8,397.3 283.7,398.2 287.6,399.1 287.6,399.1 291.6,399.9 295.5,400.7 299.4,401.5 303.3,402.3 307.3,403.1 311.2,403.8 315.1,404.6 319.1,405.3 323.0,406.0 326.9,406.6 330.8,407.3 334.8,407.9 338.7,408.5 342.6,409.1 346.6,409.7 350.5,410.3 354.4,410.8 358.3,411.3 362.3,411.8 366.2,412.3 366.2,412.3 370.1,412.7 374.1,413.2 378.0,413.6 381.9,414.0 385.8,414.4 389.8,414.8 393.7,415.2 397.6,415.6 401.6,416.0 405.5,416.4 409.4,416.8 413.3,417.2 417.3,417.5 421.2,417.9 425.1,418.2 429.1,418.6 433.0,418.9 436.9,419.2 440.8,419.6 444.8,419.9 448.7,420.2 452.6,420.5 456.6,420.8 460.5,421.1 464.4,421.4 468.3,421.7 472.3,422.0 476.2,422.3 480.1,422.6 484.1,422.8 488.0,423.1 491.9,423.4 495.8,423.6 499.8,423.9 503.7,424.2 507.6,424.4 511.6,424.7 515.5,424.9 519.4,425.2 523.4,425.4 523.4,425.4 527.3,425.7 531.2,425.9 535.1,426.2 539.1,426.4 543.0,426.6 546.9,426.9 550.9,427.1 554.8,427.4 558.7,427.6 562.6,427.8 566.6,428.0 570.5,428.3 574.4,428.5 578.4,428.7 582.3,428.9 586.2,429.1 590.1,429.3 594.1,429.6 598.0,429.8 601.9,430.0 605.9,430.2 609.8,430.4 613.7,430.6 617.6,430.7 621.6,430.9 625.5,431.1 629.4,431.3 633.4,431.5 637.3,431.7 641.2,431.8 645.1,432.0 649.1,432.2 653.0,432.3 656.9,432.5 660.9,432.6 664.8,432.8 668.7,432.9 672.6,433.1 676.6,433.2 680.5,433.3 680.5,433.3"/>
<polyline class="g" points="51.9,368.3 59.8,350.8 67.6,306.8 75.5,280.5 83.3,271.7 91.2,280.5 99.0,293.6 106.9,306.8 114.8,253.2 123.1,257.6 128.4,257.0 130.5,257.2 134.4,259.1 137.9,262.3 138.3,263.3 140.8,275.4 142.3,279.4 144.8,286.2 146.2,292.9 147.8,301.6 150.1,314.6 151.5,320.0 154.0,324.7 158.0,329.4 161.9,333.2 161.9,333.2 165.8,337.0 169.8,340.5 173.7,343.6 177.6,346.4 177.6,346.4 181.5,348.8 185.5,351.0 189.4,353.0 193.3,355.1 193.3,355.1 197.3,357.4 201.2,359.7 205.1,361.9 209.1,363.9 209.1,363.9 213.0,365.8 216.9,367.6 220.8,369.3 224.8,370.9 228.7,372.5 232.6,374.0 236.6,375.6 240.5,377.1 240.5,377.1 244.4,378.7 248.3,380.3 252.3,382.0 256.2,383.6 260.1,385.2 264.1,386.8 268.0,388.4 271.9,389.8 275.8,391.2 279.8,392.5 283.7,393.7 287.6,394.7 287.6,394.7 291.6,395.6 295.5,396.5 299.4,397.3 303.3,398.2 307.3,399.0 311.2,399.7 315.1,400.4 319.1,401.2 323.0,401.8 326.9,402.5 330.8,403.1 334.8,403.7 338.7,404.3 342.6,404.9 346.6,405.4 350.5,405.9 354.4,406.4 358.3,406.9 362.3,407.4 366.2,407.9 366.2,407.9 370.1,408.3 374.1,408.8 378.0,409.2 381.9,409.6 385.8,410.0 389.8,410.4 393.7,410.8 397.6,411.2 401.6,411.6 405.5,412.0 409.4,412.4 413.3,412.7 417.3,413.1 421.2,413.4 425.1,413.8 429.1,414.1 433.0,414.5 436.9,414.8 440.8,415.1 444.8,415.4 448.7,415.7 452.6,416.0 456.6,416.3 460.5,416.6 464.4,416.9 468.3,417.2 472.3,417.5 476.2,417.8 480.1,418.1 484.1,418.4 488.0,418.6 491.9,418.9 495.8,419.2 499.8,419.4 503.7,419.7 507.6,420.0 511.6,420.2 515.5,420.5 519.4,420.8 523.4,421.0 523.4,421.0 527.3,421.3 531.2,421.6 535.1,421.8 539.1,422.1 543.0,422.3 546.9,422.6 550.9,422.8 554.8,423.1 558.7,423.3 562.6,423.6 566.6,423.8 570.5,424.1 574.4,424.3 578.4,424.6 582.3,424.8 586.2,425.0 590.1,425.3 594.1,425.5 598.0,425.7 601.9,425.9 605.9,426.2 609.8,426.4 613.7,426.6 617.6,426.8 621.6,427.0 625.5,427.2 629.4,427.4 633.4,427.6 637.3,427.8 641.2,428.0 645.1,428.2 649.1,428.4 653.0,428.6 656.9,428.8 660.9,429.0 664.8,429.1 668.7,429.3 672.6,429.5 676.6,429.7 680.5,429.8 680.5,429.8"/>
<polyline class="g" points="51.9,385.9 59.8,368.3 67.6,324.4 75.5,306.8 83.3,289.3 91.2,298.0 99.0,289.3 106.9,293.6 111.6,278.7 123.1,267.3 130.0,269.0 130.5,269.0 134.4,269.0 137.9,269.0 138.3,269.9 141.5,293.6 142.3,297.4 146.2,311.2 146.2,311.2 150.1,317.5 154.0,321.9 158.0,325.3 161.9,328.8 161.9,328.8 165.8,332.5 169.8,335.9 173.7,339.1 177.6,342.0 177.6,342.0 181.5,344.5 185.5,346.9 189.4,349.1 193.3,351.3 197.3,353.3 201.2,355.3 205.1,357.4 209.1,359.5 209.1,359.5 213.0,361.8 216.9,364.1 220.8,366.4 224.8,368.7 228.7,371.0 232.6,373.2 236.6,375.2 240.5,377.1 240.5,377.1 244.4,378.9 248.3,380.6 252.3,382.3 256.2,383.9 260.1,385.5 264.1,387.0 268.0,388.4 271.9,389.8 275.8,391.2 279.8,392.4 283.7,393.6 287.6,394.7 287.6,394.7 291.6,395.7 295.5,396.7 299.4,397.7 303.3,398.7 307.3,399.7 311.2,400.6 315.1,401.5 319.1,402.4 323.0,403.2 326.9,404.1 330.8,404.9 334.8,405.6 338.7,406.3 342.6,407.0 346.6,407.7 350.5,408.3 354.4,408.9 358.3,409.5 362.3,410.0 366.2,410.5 366.2,410.5 370.1,411.0 374.1,411.4 378.0,411.8 381.9,412.3 385.8,412.7 389.8,413.1 393.7,413.5 397.6,413.8 401.6,414.2 405.5,414.6 409.4,414.9 413.3,415.2 417.3,415.6 421.2,415.9 425.1,416.2 429.1,416.5 433.0,416.8 436.9,417.1 440.8,417.4 444.8,417.7 448.7,418.0 452.6,418.2 456.6,418.5 460.5,418.8 464.4,419.0 468.3,419.3 472.3,419.6 476.2,419.8 480.1,420.1 484.1,420.3 488.0,420.6 491.9,420.8 495.8,421.1 499.8,421.3 503.7,421.5 507.6,421.8 511.6,422.0 515.5,422.3 519.4,422.5 523.4,422.8 523.4,422.8 527.3,423.1 531.2,423.3 535.1,423.6 539.1,423.8 543.0,424.1 546.9,424.3 550.9,424.6 554.8,424.8 558.7,425.0 562.6,425.3 566.6,425.5 570.5,425.8 574.4,426.0 578.4,426.2 582.3,426.5 586.2,426.7 590.1,426.9 594.1,427.1 598.0,427.4 601.9,427.6 605.9,427.8 609.8,428.0 613.7,428.3 617.6,428.5 621.6,428.7 625.5,428.9 629.4,429.1 633.4,429.3 637.3,429.5 641.2,429.7 645.1,429.9 649.1,430.1 653.0,430.3 656.9,430.5 660.9,430.7 664.8,430.9 668.7,431.0 672.6,431.2 676.6,431.4 680.5,431.6 680.5,431.6"/>
<polyline class="g" points="51.9,394.7 59.8,377.1 67.6,342.0 75.5,324.4 83.3,315.6 91.2,320.0 99.0,315.6 106.9,320.0 114.8,315.6 122.6,311.2 130.5,307.6 134.4,305.5 135.0,305.1 138.3,302.0 142.3,297.4 146.0,293.4 146.2,293.2 150.1,289.5 154.0,287.5 154.0,287.5 158.0,289.2 161.3,291.9 161.9,292.5 165.8,297.7 168.7,302.1 169.8,303.7 173.7,309.7 174.5,310.9 177.6,315.6 180.3,319.6 181.5,321.5 185.5,327.6 186.1,328.4 189.4,332.3 193.3,337.2 193.3,337.2 197.3,345.0 197.7,345.8 201.2,350.8 205.1,355.6 209.1,359.5 209.1,359.5 213.0,362.7 216.9,365.3 220.8,367.7 224.8,370.1 224.8,370.1 228.7,372.5 232.6,374.8 236.6,376.9 240.5,378.9 240.5,378.9 244.4,380.6 248.3,382.2 252.3,383.7 256.2,385.2 260.1,386.6 264.1,387.9 268.0,389.1 271.9,390.3 271.9,390.3 275.8,391.4 279.8,392.5 283.7,393.6 287.6,394.7 291.6,395.7 295.5,396.7 299.4,397.6 303.3,398.5 307.3,399.4 311.2,400.2 315.1,401.0 319.1,401.7 319.1,401.7 323.0,402.4 326.9,403.1 330.8,403.7 334.8,404.3 338.7,404.9 342.6,405.5 346.6,406.1 350.5,406.6 354.4,407.2 358.3,407.7 362.3,408.2 366.2,408.7 366.2,408.7 370.1,409.3 374.1,409.8 378.0,410.4 381.9,410.9 385.8,411.4 389.8,412.0 393.7,412.5 397.6,413.0 401.6,413.5 405.5,414.1 409.4,414.6 413.3,415.0 417.3,415.5 421.2,416.0 425.1,416.4 429.1,416.9 433.0,417.3 436.9,417.7 440.8,418.1 444.8,418.4 444.8,418.4 448.7,418.7 452.6,419.1 456.6,419.4 460.5,419.7 464.4,420.0 468.3,420.2 472.3,420.5 476.2,420.8 480.1,421.0 484.1,421.3 488.0,421.5 491.9,421.8 495.8,422.0 499.8,422.3 503.7,422.5 507.6,422.7 511.6,423.0 515.5,423.2 519.4,423.4 523.4,423.7 523.4,423.7 527.3,423.9 531.2,424.2 535.1,424.4 539.1,424.6 543.0,424.9 546.9,425.1 550.9,425.4 554.8,425.6 558.7,425.8 562.6,426.1 566.6,426.3 570.5,426.5 574.4,426.7 578.4,427.0 582.3,427.2 586.2,427.4 590.1,427.7 594.1,427.9 598.0,428.1 601.9,428.3 605.9,428.6 609.8,428.8 613.7,429.0 617.6,429.2 621.6,429.4 625.5,429.6 629.4,429.8 633.4,430.1 637.3,430.3 641.2,430.5 645.1,430.7 649.1,430.9 653.0,431.1 656.9,431.3 660.9,431.5 664.8,431.7 668.7,431.9 672.6,432.1 676.6,432.3 680.5,432.5 680.5,432.5"/>
<polyline class="g" points="51.9,394.7 59.8,385.9 67.6,359.5 75.5,342.0 83.3,333.2 91.2,337.6 99.0,342.0 106.9,333.2 114.8,328.8 122.6,333.2 130.5,328.8 134.4,327.5 138.3,326.6 142.3,325.6 146.2,324.4 146.2,324.4 150.1,322.5 154.0,320.1 158.0,317.7 161.9,315.6 161.9,315.6 165.8,314.1 169.8,312.7 173.7,311.2 174.5,310.9 177.6,308.8 181.5,305.9 184.5,305.0 185.5,305.1 189.4,306.7 193.3,309.4 193.3,309.4 197.3,312.8 200.7,316.7 201.2,317.2 205.1,322.7 207.9,326.9 209.1,328.5 213.0,333.7 216.8,340.1 216.9,340.5 220.7,351.6 220.8,351.9 224.8,356.8 226.0,358.1 228.7,360.9 232.6,364.8 232.6,364.8 236.6,370.0 238.9,372.7 240.5,374.1 244.4,377.2 248.3,379.8 252.3,382.1 256.2,384.1 256.2,384.1 260.1,386.1 264.1,387.9 268.0,389.6 271.9,391.1 275.8,392.6 279.8,394.0 283.7,395.3 287.6,396.4 287.6,396.4 291.6,397.6 295.5,398.6 299.4,399.6 303.3,400.6 307.3,401.5 311.2,402.4 315.1,403.2 319.1,404.0 323.0,404.8 326.9,405.6 330.8,406.3 334.8,407.0 334.8,407.0 338.7,407.7 342.6,408.3 346.6,409.0 350.5,409.6 354.4,410.2 358.3,410.8 362.3,411.4 366.2,411.9 370.1,412.5 374.1,413.0 378.0,413.5 381.9,414.0 385.8,414.5 389.8,414.9 393.7,415.4 397.6,415.8 397.6,415.8 401.6,416.2 405.5,416.6 409.4,416.9 413.3,417.3 417.3,417.7 421.2,418.0 425.1,418.4 429.1,418.7 433.0,419.1 436.9,419.4 440.8,419.7 444.8,420.0 448.7,420.3 452.6,420.7 456.6,421.0 460.5,421.3 464.4,421.5 468.3,421.8 472.3,422.1 476.2,422.4 480.1,422.7 484.1,422.9 488.0,423.2 491.9,423.4 495.8,423.7 499.8,424.0 503.7,424.2 507.6,424.5 511.6,424.7 515.5,425.0 519.4,425.2 523.4,425.4 523.4,425.4 527.3,425.7 531.2,425.9 535.1,426.2 539.1,426.4 543.0,426.6 546.9,426.9 550.9,427.1 554.8,427.3 558.7,427.5 562.6,427.8 566.6,428.0 570.5,428.2 574.4,428.4 578.4,428.6 582.3,428.9 586.2,429.1 590.1,429.3 594.1,429.5 598.0,429.7 601.9,429.9 605.9,430.1 609.8,430.3 613.7,430.5 617.6,430.7 621.6,430.9 625.5,431.1 629.4,431.2 633.4,431.4 637.3,431.6 641.2,431.8 645.1,431.9 649.1,432.1 653.0,432.3 656.9,432.4 660.9,432.6 664.8,432.8 668.7,432.9 672.6,433.1 676.6,433.2 680.5,433.3 680.5,433.3"/>
<polyline class="g" points="51.9,407.9 59.8,394.7 67.6,368.3 75.5,350.8 83.3,337.6 91.2,333.2 99.0,324.4 106.9,320.0 114.8,315.6 122.6,311.2 130.5,306.8 134.4,306.1 138.3,305.6 142.3,305.2 146.2,305.1 146.2,305.1 150.1,305.7 154.0,307.3 158.0,309.3 161.9,311.2 161.9,311.2 165.8,313.0 169.8,314.8 173.7,316.8 177.6,319.1 177.6,319.1 181.5,322.3 185.5,326.1 189.4,330.0 193.3,333.2 193.3,333.2 197.3,335.9 201.2,337.6 201.2,337.6 205.1,338.0 209.1,338.5 209.1,338.5 213.0,342.2 214.9,344.7 216.9,348.1 220.1,351.9 220.8,351.9 224.8,351.5 228.7,350.9 231.7,350.4 232.6,350.3 236.6,349.8 240.5,349.2 243.2,348.9 244.4,348.8 248.3,348.2 252.3,347.8 256.2,347.6 256.2,347.6 260.1,347.8 264.1,348.4 268.0,349.2 270.0,349.6 271.9,350.1 275.8,351.7 279.8,353.7 283.7,355.9 287.2,357.7 287.6,357.9 291.6,359.9 295.5,361.8 299.4,363.8 303.3,365.8 307.3,367.8 307.6,368.0 311.2,369.8 315.1,371.8 319.1,373.8 323.0,375.7 325.2,376.7 326.9,377.5 330.8,379.6 334.8,381.6 338.7,383.2 342.6,384.0 342.6,384.0 346.6,384.2 350.5,384.4 354.4,384.5 358.3,384.6 360.1,384.6 362.3,384.6 366.2,384.5 370.1,384.3 374.1,384.2 378.0,384.1 381.9,384.0 383.5,384.0 385.8,384.0 389.8,384.3 393.7,384.7 397.6,385.2 401.6,385.9 405.5,386.6 406.9,386.9 409.4,387.4 413.3,388.6 417.3,390.0 419.6,390.7 421.2,391.2 425.1,392.6 429.1,394.0 433.0,395.3 436.9,396.4 436.9,396.4 440.8,397.4 444.8,398.4 448.7,399.3 452.6,400.1 456.6,400.9 460.5,401.7 464.4,402.4 468.3,403.1 468.3,403.1 472.3,403.8 476.2,404.4 480.1,405.0 484.1,405.6 488.0,406.2 491.9,406.8 495.8,407.3 499.8,407.8 503.7,408.3 507.6,408.7 507.6,408.7 511.6,409.2 515.5,409.6 519.4,410.0 523.4,410.4 527.3,410.7 529.6,410.9 531.2,411.1 535.1,411.3 539.1,411.6 543.0,411.9 546.9,412.1 550.9,412.3 554.8,412.5 558.7,412.7 562.6,412.9 566.6,413.1 570.5,413.3 574.4,413.5 578.4,413.7 582.3,414.0 586.2,414.2 590.1,414.5 594.1,414.7 594.1,414.7 598.0,415.0 601.9,415.3 605.9,415.6 609.8,415.9 613.7,416.2 617.6,416.5 621.6,416.8 625.5,417.1 629.4,417.5 633.4,417.8 637.3,418.2 641.2,418.5 645.1,418.9 649.1,419.2 653.0,419.6 656.9,420.0 660.9,420.4 664.8,420.7 668.7,421.1 672.6,421.5 676.6,421.9 680.5,422.4 680.5,422.4"/>
<polyline class="g" points="51.9,403.5 59.8,394.7 67.6,377.1 75.5,368.3 83.3,359.5 99.0,350.8 114.8,355.1 130.5,359.5 134.4,360.6 138.3,361.7 142.3,362.8 146.2,363.9 146.2,363.9 150.1,365.2 154.0,366.5 158.0,368.0 161.9,369.4 165.8,370.7 169.8,371.8 173.7,372.5 177.6,372.7 177.6,372.7 181.5,372.7 185.5,372.7 189.4,372.7 193.3,372.7 197.3,372.7 201.2,372.7 205.1,372.7 209.1,372.7 209.1,372.7 213.0,371.7 216.9,369.2 220.8,366.0 224.8,363.0 228.7,361.0 230.0,360.7 232.6,360.3 236.6,359.9 240.5,359.6 241.7,359.5 244.4,359.4 248.3,359.2 252.3,359.0 256.2,358.9 258.9,358.8 260.1,358.9 264.1,359.4 268.0,360.2 270.0,360.7 271.9,361.2 275.8,362.6 279.8,364.4 283.7,366.3 287.6,368.3 287.6,368.3 291.6,370.5 295.5,372.8 299.4,375.1 303.3,377.1 303.3,377.1 307.3,378.7 311.2,380.3 315.1,381.7 319.1,383.0 323.0,384.3 326.9,385.5 330.8,386.6 334.8,387.7 334.8,387.7 338.7,388.7 342.6,389.6 346.6,390.5 350.5,391.4 354.4,392.3 358.3,393.1 362.3,393.9 366.2,394.7 366.2,394.7 370.1,395.5 374.1,396.3 378.0,397.0 381.9,397.8 385.8,398.6 389.8,399.3 393.7,400.0 397.6,400.7 401.6,401.5 405.5,402.1 409.4,402.8 413.3,403.5 413.3,403.5 417.3,404.1 421.2,404.8 425.1,405.4 429.1,406.0 433.0,406.7 436.9,407.3 440.8,407.8 444.8,408.4 448.7,409.0 452.6,409.5 456.6,410.0 460.5,410.5 460.5,410.5 464.4,411.0 468.3,411.4 472.3,411.9 476.2,412.3 480.1,412.7 484.1,413.1 488.0,413.6 491.9,413.9 495.8,414.3 499.8,414.7 503.7,415.1 507.6,415.4 511.6,415.7 515.5,416.1 519.4,416.4 523.4,416.6 523.4,416.6 527.3,416.9 531.2,417.2 535.1,417.4 539.1,417.7 543.0,417.9 546.9,418.1 550.9,418.3 554.8,418.5 558.7,418.8 562.6,419.0 566.6,419.2 570.5,419.3 574.4,419.5 578.4,419.7 582.3,419.9 586.2,420.2 590.1,420.4 594.1,420.6 598.0,420.8 601.9,421.0 601.9,421.0 605.9,421.3 609.8,421.5 613.7,421.8 617.6,422.0 621.6,422.3 625.5,422.5 629.4,422.8 633.4,423.0 637.3,423.3 641.2,423.6 645.1,423.8 649.1,424.1 653.0,424.4 656.9,424.6 660.9,424.9 664.8,425.2 668.7,425.5 672.6,425.7 676.6,426.0 680.5,426.3 680.5,426.3"/>
<polyline class="g" points="51.9,394.7 59.8,377.1 67.6,350.8 75.5,333.2 83.3,315.6 91.2,324.4 99.0,333.2 106.9,337.6 114.8,342.0 130.5,350.8 134.4,352.1 138.3,353.1 142.3,354.1 146.2,355.1 146.2,355.1 150.1,356.3 154.0,357.4 158.0,358.6 161.9,359.7 165.8,360.9 169.8,362.0 173.7,363.0 177.6,363.9 177.6,363.9 181.5,364.9 185.5,365.9 189.4,366.9 193.3,367.9 197.3,368.8 201.2,369.5 205.1,369.9 209.1,370.1 209.1,370.1 213.0,369.9 216.9,369.5 220.8,369.0 224.8,368.3 224.8,368.3 228.7,367.2 232.6,365.5 236.6,364.0 236.7,363.9 240.5,362.7 244.4,361.6 245.5,361.3 248.3,360.5 252.3,359.4 256.2,358.7 257.8,358.7 260.1,358.8 264.1,359.7 266.6,360.4 268.0,361.0 271.9,363.4 275.4,365.7 275.8,366.0 279.8,368.4 283.7,370.7 285.7,371.8 287.6,372.8 291.6,374.8 295.5,376.7 298.2,378.0 299.4,378.6 303.3,380.5 307.3,382.4 311.2,384.3 315.1,386.0 319.1,387.7 319.1,387.7 323.0,389.2 326.9,390.7 330.8,392.1 334.8,393.5 338.7,394.8 342.6,396.1 346.6,397.2 350.5,398.2 350.5,398.2 354.4,399.1 358.3,400.0 362.3,400.8 366.2,401.6 370.1,402.4 374.1,403.1 378.0,403.8 381.9,404.4 385.8,405.1 389.8,405.7 393.7,406.4 397.6,407.0 397.6,407.0 401.6,407.6 405.5,408.2 409.4,408.9 413.3,409.5 417.3,410.1 421.2,410.7 425.1,411.2 429.1,411.8 433.0,412.4 436.9,412.9 440.8,413.4 444.8,413.9 448.7,414.4 452.6,414.9 456.6,415.3 460.5,415.8 460.5,415.8 464.4,416.2 468.3,416.6 472.3,416.9 476.2,417.3 480.1,417.7 484.1,418.0 488.0,418.3 491.9,418.6 495.8,419.0 499.8,419.3 503.7,419.6 507.6,419.9 511.6,420.2 515.5,420.5 519.4,420.7 523.4,421.0 523.4,421.0 527.3,421.3 531.2,421.6 535.1,421.9 539.1,422.2 543.0,422.5 546.9,422.7 550.9,423.0 554.8,423.3 558.7,423.6 562.6,423.8 566.6,424.1 570.5,424.3 574.4,424.6 578.4,424.8 582.3,425.1 586.2,425.3 590.1,425.6 594.1,425.8 598.0,426.1 601.9,426.3 601.9,426.3 605.9,426.6 609.8,426.8 613.7,427.0 617.6,427.3 621.6,427.5 625.5,427.7 629.4,427.9 633.4,428.2 637.3,428.4 641.2,428.6 645.1,428.8 649.1,429.1 653.0,429.3 656.9,429.5 660.9,429.7 664.8,429.9 668.7,430.1 672.6,430.3 676.6,430.5 680.5,430.7 680.5,430.7"/>
<polyline class="g" points="51.9,403.5 59.8,385.9 67.6,359.5 75.5,342.0 83.3,328.8 91.2,315.6 99.0,324.4 106.9,333.2 114.8,342.0 130.5,355.1 134.4,357.7 138.3,360.1 142.3,362.2 146.2,363.9 146.2,363.9 150.1,365.4 154.0,366.7 158.0,367.9 161.9,368.9 165.8,369.9 169.8,370.9 173.7,371.8 177.6,372.7 177.6,372.7 181.5,373.7 185.5,374.7 189.4,375.7 193.3,376.7 197.3,377.6 201.2,378.2 205.1,378.7 209.1,378.9 209.1,378.9 213.0,378.8 216.9,378.7 220.8,378.4 224.8,378.1 228.7,377.6 232.6,377.1 232.6,377.1 236.6,375.4 240.5,372.2 243.8,369.2 244.4,368.5 248.3,363.3 249.1,363.1 252.3,363.1 256.2,363.1 257.8,363.1 260.1,363.3 264.1,364.6 268.0,366.5 270.2,367.4 271.9,368.2 275.8,370.2 279.8,372.3 282.3,373.6 283.7,374.3 287.6,376.4 291.6,378.5 295.5,380.5 299.4,382.4 303.3,384.1 303.3,384.1 307.3,385.7 311.2,387.2 315.1,388.7 319.1,390.1 323.0,391.3 326.9,392.6 330.8,393.7 334.8,394.7 334.8,394.7 338.7,395.6 342.6,396.5 346.6,397.3 350.5,398.1 354.4,398.9 358.3,399.6 362.3,400.3 366.2,400.9 370.1,401.6 374.1,402.2 378.0,402.8 381.9,403.5 381.9,403.5 385.8,404.1 389.8,404.7 393.7,405.3 397.6,405.9 401.6,406.5 405.5,407.1 409.4,407.7 413.3,408.3 417.3,408.8 421.2,409.4 425.1,409.9 429.1,410.4 433.0,410.9 436.9,411.4 440.8,411.8 444.8,412.3 444.8,412.3 448.7,412.7 452.6,413.1 456.6,413.5 460.5,413.9 464.4,414.3 468.3,414.7 472.3,415.0 476.2,415.4 480.1,415.8 484.1,416.1 488.0,416.4 491.9,416.8 495.8,417.1 499.8,417.4 503.7,417.7 507.6,418.1 511.6,418.4 515.5,418.7 519.4,419.0 523.4,419.3 523.4,419.3 527.3,419.6 531.2,419.9 535.1,420.2 539.1,420.4 543.0,420.7 546.9,421.0 550.9,421.2 554.8,421.5 558.7,421.8 562.6,422.0 566.6,422.3 570.5,422.5 574.4,422.8 578.4,423.0 582.3,423.3 586.2,423.5 590.1,423.8 594.1,424.0 598.0,424.3 601.9,424.6 601.9,424.6 605.9,424.8 609.8,425.1 613.7,425.3 617.6,425.6 621.6,425.9 625.5,426.1 629.4,426.4 633.4,426.7 637.3,426.9 641.2,427.2 645.1,427.5 649.1,427.7 653.0,428.0 656.9,428.2 660.9,428.5 664.8,428.8 668.7,429.0 672.6,429.3 676.6,429.6 680.5,429.8 680.5,429.8"/>
<polyline class="g" points="51.9,385.9 59.8,368.3 67.6,342.0 75.5,350.8 83.3,333.2 91.2,306.8 99.0,315.6 106.9,328.8 114.8,337.6 130.5,350.8 134.4,353.3 138.3,355.5 142.3,357.6 146.2,359.5 146.2,359.5 150.1,361.4 154.0,363.3 158.0,365.0 161.9,366.7 165.8,368.3 169.8,369.9 173.7,371.4 177.6,372.7 177.6,372.7 181.5,374.1 185.5,375.6 189.4,377.0 193.3,378.4 197.3,379.7 201.2,380.6 205.1,381.3 209.1,381.5 209.1,381.5 213.0,381.5 216.9,381.5 220.8,381.5 224.8,381.5 228.7,381.5 232.6,381.5 232.6,381.5 236.6,380.8 240.5,379.3 244.4,377.5 245.5,377.1 248.3,375.8 252.3,373.7 256.2,372.7 256.2,372.7 260.1,372.7 264.1,372.7 264.8,372.7 268.0,373.0 271.9,373.7 275.4,374.5 275.8,374.6 279.8,375.3 283.7,376.2 287.6,377.1 287.6,377.1 291.6,378.3 295.5,379.7 299.4,381.1 303.3,382.4 303.3,382.4 307.3,383.6 311.2,384.8 315.1,385.9 319.1,387.0 323.0,388.1 326.9,389.2 330.8,390.2 334.8,391.2 334.8,391.2 338.7,392.1 342.6,393.1 346.6,394.0 350.5,394.9 354.4,395.8 358.3,396.6 362.3,397.4 366.2,398.2 366.2,398.2 370.1,398.9 374.1,399.7 378.0,400.4 381.9,401.1 385.8,401.8 389.8,402.4 393.7,403.1 397.6,403.7 401.6,404.3 405.5,404.9 409.4,405.5 413.3,406.1 413.3,406.1 417.3,406.7 421.2,407.2 425.1,407.8 429.1,408.3 433.0,408.8 436.9,409.4 440.8,409.9 444.8,410.4 448.7,410.9 452.6,411.3 456.6,411.8 460.5,412.3 464.4,412.7 468.3,413.2 472.3,413.6 476.2,414.0 476.2,414.0 480.1,414.4 484.1,414.8 488.0,415.2 491.9,415.6 495.8,416.0 499.8,416.4 503.7,416.8 507.6,417.1 511.6,417.5 515.5,417.9 519.4,418.2 523.4,418.6 527.3,418.9 531.2,419.2 535.1,419.6 539.1,419.9 543.0,420.2 546.9,420.5 550.9,420.8 554.8,421.0 554.8,421.0 558.7,421.3 562.6,421.6 566.6,421.9 570.5,422.1 574.4,422.4 578.4,422.7 582.3,422.9 586.2,423.2 590.1,423.4 594.1,423.7 598.0,423.9 601.9,424.2 605.9,424.4 609.8,424.6 613.7,424.9 617.6,425.1 621.6,425.3 625.5,425.5 629.4,425.8 633.4,426.0 637.3,426.2 641.2,426.4 645.1,426.6 649.1,426.8 653.0,426.9 656.9,427.1 660.9,427.3 664.8,427.5 668.7,427.6 672.6,427.8 676.6,427.9 680.5,428.1 680.5,428.1"/>
<polyline class="g" points="51.9,410.5 59.8,405.2 67.6,387.7 75.5,394.7 83.3,377.1 91.2,378.9 99.0,380.6 106.9,392.9 114.8,387.7 122.6,398.2 130.5,392.9 134.4,392.9 138.3,392.9 142.3,392.9 146.2,392.9 146.2,392.9 150.1,393.1 154.0,393.4 158.0,394.0 161.9,394.7 161.9,394.7 165.8,396.2 169.8,398.7 173.7,401.4 177.6,403.5 177.6,403.5 181.5,404.8 185.5,406.0 189.4,407.0 193.3,407.9 193.3,407.9 197.3,408.6 201.2,409.3 205.1,409.9 209.1,410.5 209.1,410.5 213.0,411.1 216.9,411.7 220.8,412.2 224.8,412.8 228.7,413.3 232.6,413.8 236.6,414.4 240.5,414.9 240.5,414.9 244.4,415.4 248.3,416.0 252.3,416.5 256.2,417.0 260.1,417.5 264.1,418.0 268.0,418.6 271.9,419.1 275.8,419.6 279.8,420.1 283.7,420.6 287.6,421.0 287.6,421.0 291.6,421.5 295.5,422.0 299.4,422.5 303.3,423.0 307.3,423.5 311.2,424.0 315.1,424.5 319.1,424.9 323.0,425.4 326.9,425.9 330.8,426.4 334.8,426.8 338.7,427.2 342.6,427.7 346.6,428.1 350.5,428.5 354.4,428.8 358.3,429.2 362.3,429.5 366.2,429.8 366.2,429.8 370.1,430.1 374.1,430.4 378.0,430.7 381.9,430.9 385.8,431.2 389.8,431.4 393.7,431.7 397.6,431.9 401.6,432.1 405.5,432.3 409.4,432.6 413.3,432.8 417.3,433.0 421.2,433.2 425.1,433.3 429.1,433.5 433.0,433.7 436.9,433.9 440.8,434.1 444.8,434.2 444.8,434.2 448.7,434.4 452.6,434.5 456.6,434.7 460.5,434.8 464.4,435.0 468.3,435.1 472.3,435.3 476.2,435.4 480.1,435.5 484.1,435.6 488.0,435.8 491.9,435.9 495.8,436.0 499.8,436.1 503.7,436.3 507.6,436.4 511.6,436.5 515.5,436.6 519.4,436.7 523.4,436.9 523.4,436.9 527.3,437.0 531.2,437.1 535.1,437.2 539.1,437.3 543.0,437.5 546.9,437.6 550.9,437.7 554.8,437.8 558.7,437.9 562.6,438.0 566.6,438.2 570.5,438.3 574.4,438.4 578.4,438.5 582.3,438.6 586.2,438.7 590.1,438.8 594.1,439.0 598.0,439.1 601.9,439.2 605.9,439.3 609.8,439.4 613.7,439.5 617.6,439.6 621.6,439.7 625.5,439.8 629.4,439.9 633.4,440.0 637.3,440.2 641.2,440.3 645.1,440.4 649.1,440.5 653.0,440.6 656.9,440.7 660.9,440.8 664.8,440.9 668.7,441.0 672.6,441.1 676.6,441.2 680.5,441.2 680.5,441.2"/>
<polyline class="g" points="51.9,407.0 59.8,399.1 67.6,377.1 75.5,391.2 83.3,389.4 91.2,368.3 99.0,377.1 106.9,385.9 114.8,391.2 122.6,392.9 130.5,390.3 134.4,389.9 138.3,389.6 142.3,389.5 146.2,389.4 146.2,389.4 150.1,389.6 154.0,390.3 158.0,391.1 161.9,392.0 161.9,392.0 165.8,393.4 169.8,395.2 173.7,397.2 177.6,399.1 177.6,399.1 181.5,400.8 185.5,402.4 189.4,403.9 193.3,405.2 193.3,405.2 197.3,406.3 201.2,407.2 205.1,408.1 209.1,408.7 209.1,408.7 213.0,409.3 216.9,409.8 220.8,410.2 224.8,410.6 228.7,411.0 232.6,411.4 236.6,411.8 240.5,412.3 240.5,412.3 244.4,412.8 248.3,413.3 252.3,413.9 256.2,414.5 260.1,415.1 264.1,415.8 268.0,416.4 271.9,417.0 275.8,417.6 279.8,418.2 283.7,418.8 287.6,419.3 287.6,419.3 291.6,419.8 295.5,420.3 299.4,420.8 303.3,421.3 307.3,421.8 311.2,422.3 315.1,422.7 319.1,423.2 323.0,423.7 326.9,424.1 330.8,424.6 334.8,425.0 338.7,425.4 342.6,425.8 346.6,426.2 350.5,426.6 354.4,427.0 358.3,427.4 362.3,427.7 366.2,428.1 366.2,428.1 370.1,428.4 374.1,428.7 378.0,429.0 381.9,429.4 385.8,429.7 389.8,430.0 393.7,430.3 397.6,430.5 401.6,430.8 405.5,431.1 409.4,431.4 413.3,431.6 417.3,431.9 421.2,432.1 425.1,432.3 429.1,432.6 433.0,432.8 436.9,433.0 440.8,433.2 444.8,433.3 444.8,433.3 448.7,433.5 452.6,433.7 456.6,433.8 460.5,434.0 464.4,434.1 468.3,434.3 472.3,434.4 476.2,434.5 480.1,434.7 484.1,434.8 488.0,434.9 491.9,435.0 495.8,435.2 499.8,435.3 503.7,435.4 507.6,435.5 511.6,435.6 515.5,435.7 519.4,435.9 523.4,436.0 523.4,436.0 527.3,436.1 531.2,436.2 535.1,436.3 539.1,436.5 543.0,436.6 546.9,436.7 550.9,436.8 554.8,436.9 558.7,437.1 562.6,437.2 566.6,437.3 570.5,437.4 574.4,437.5 578.4,437.6 582.3,437.7 586.2,437.9 590.1,438.0 594.1,438.1 598.0,438.2 601.9,438.3 605.9,438.4 609.8,438.5 613.7,438.6 617.6,438.7 621.6,438.8 625.5,439.0 629.4,439.1 633.4,439.2 637.3,439.3 641.2,439.4 645.1,439.5 649.1,439.6 653.0,439.7 656.9,439.8 660.9,439.9 664.8,440.0 668.7,440.1 672.6,440.2 676.6,440.3 680.5,440.4 680.5,440.4"/>
<polyline class="k" points="51.9,388.7 59.8,376.9 67.1,343.0 75.0,329.7 82.7,307.7 90.6,301.4 98.7,316.5 105.2,321.8 114.8,334.5 122.6,338.9 125.8,340.5 126.4,340.8 128.9,342.3 132.0,344.3 135.2,346.3 138.3,347.9 139.1,348.3 141.5,349.2 144.6,350.2 147.8,351.3 147.9,351.4 150.9,352.7 154.0,354.3 157.2,356.1 160.3,357.7 161.0,358.0 163.5,359.3 166.6,360.9 169.8,362.4 172.9,364.0 174.9,365.0 176.0,365.5 179.2,367.1 182.3,368.6 185.5,370.2 187.4,371.2 188.6,371.9 191.8,373.7 194.9,375.6 198.0,377.4 199.6,378.2 201.2,378.9 204.3,380.4 207.5,381.8 210.6,383.0 213.8,384.2 215.0,384.6 216.9,385.1 220.1,386.0 223.2,386.7 226.3,387.4 229.5,388.1 229.6,388.2 232.6,388.9 235.8,389.7 238.9,390.5 242.1,391.3 244.3,391.9 245.2,392.1 248.3,392.9 251.5,393.6 254.6,394.4 257.8,395.2 258.9,395.5 260.9,396.0 264.1,397.0 267.2,398.0 270.3,399.0 273.5,399.9 273.5,399.9 276.6,400.7 279.8,401.6 282.9,402.4 286.1,403.1 287.9,403.6 289.2,403.8 292.3,404.5 295.5,405.2 298.6,405.8 301.8,406.3 302.6,406.5 304.9,406.8 308.1,407.3 311.2,407.7 314.3,408.1 315.0,408.2 317.5,408.6 320.6,409.2 323.8,409.7 326.9,410.3 330.1,410.9 333.2,411.4 336.3,411.9 337.6,412.1 339.5,412.3 342.6,412.7 345.8,413.1 348.9,413.5 352.1,413.9 355.2,414.2 358.3,414.5 361.5,414.8 364.6,415.1 366.8,415.3 367.8,415.4 370.9,415.7 374.1,415.9 377.2,416.1 380.3,416.3 383.5,416.5 386.6,416.7 389.8,416.9 392.9,417.1 396.1,417.4 396.1,417.4 399.2,417.6 402.3,417.8 405.5,418.0 408.6,418.2 411.8,418.4 414.9,418.6 418.1,418.8 421.2,419.1 424.3,419.3 425.1,419.4 427.5,419.6 430.6,419.8 433.8,420.1 436.9,420.4 440.1,420.8 443.2,421.1 446.3,421.4 449.5,421.7 450.0,421.7 452.6,422.0 455.8,422.3 458.9,422.6 462.1,423.0 465.2,423.3 468.3,423.6 471.5,423.9 474.6,424.2 475.7,424.3 477.8,424.5 480.9,424.7 484.1,425.0 487.2,425.3 490.3,425.5 493.5,425.8 496.6,426.0 499.8,426.3 502.9,426.5 506.1,426.8 509.2,427.0 511.6,427.2 512.3,427.3 515.5,427.5 518.6,427.8 521.8,428.0 524.9,428.3 528.1,428.6 531.2,428.8 534.4,429.1 537.5,429.3 540.6,429.6 543.8,429.8 546.9,430.0 547.2,430.0 550.1,430.2 553.2,430.3 556.4,430.5 559.5,430.7 562.6,430.8 565.8,431.0 568.9,431.1 572.1,431.2 575.2,431.4 578.4,431.5 581.5,431.7 583.1,431.8 584.6,431.8 587.8,432.0 590.9,432.2 594.1,432.3 597.2,432.5 600.4,432.7 603.5,432.8 606.6,433.0 609.8,433.2 612.9,433.3 616.1,433.5 618.7,433.6 619.2,433.6 622.4,433.8 625.5,433.9 628.6,434.0 631.8,434.1 634.9,434.3 638.1,434.4 641.2,434.5 644.4,434.6 647.5,434.7 650.6,434.9 653.8,435.0 654.6,435.0 656.9,435.1 660.1,435.2 663.2,435.4 666.4,435.5 669.5,435.7 672.6,435.8 675.8,435.9 678.9,436.1 680.5,436.2"/>
</g>
<rect class="ax" x="51.9" y="8.1" width="628.6" height="439.3"/>
<path class="ax" d="M51.9,447.4V441.4M51.9,8.1V14.1M209.1,447.4V441.4M209.1,8.1V14.1M366.2,447.4V441.4M366.2,8.1V14.1M523.4,447.4V441.4M523.4,8.1V14.1M680.5,447.4V441.4M680.5,8.1V14.1M51.9,447.4H57.9M680.5,447.4H674.5M51.9,359.5H57.9M680.5,359.5H674.5M51.9,271.7H57.9M680.5,271.7H674.5M51.9,183.8H57.9M680.5,183.8H674.5M51.9,96.0H57.9M680.5,96.0H674.5M51.9,8.1H57.9M680.5,8.1H674.5"/>
<g font-size="23" stroke="#262626" stroke-width="0.45"><text x="42.3" y="456.1" text-anchor="end">0</text><text x="42.3" y="368.2" text-anchor="end">1</text><text x="42.3" y="280.4" text-anchor="end">2</text><text x="42.3" y="192.5" text-anchor="end">3</text><text x="42.3" y="104.7" text-anchor="end">4</text><text x="42.3" y="16.8" text-anchor="end">5</text><text x="51.3" y="480.0" text-anchor="middle">0</text><text x="208.5" y="480.0" text-anchor="middle">1</text><text x="365.6" y="480.0" text-anchor="middle">2</text><text x="522.8" y="480.0" text-anchor="middle">3</text><text x="679.9" y="480.0" text-anchor="middle">4</text></g>
<text x="366" y="514" font-size="26" text-anchor="middle" stroke="#262626" stroke-width="0.45">Period(s)</text>
<text transform="translate(18,228.5) rotate(-90)" font-size="26" text-anchor="middle" stroke="#262626" stroke-width="0.45">Sa(g)</text>
<rect x="219" y="21.8" width="447" height="85" fill="#fff" stroke="#262626" stroke-width="1.8"/>
<line x1="223.9" y1="37" x2="274.3" y2="37" stroke="#f00" stroke-width="3.5" stroke-dasharray="10.3 9.5"/>
<line x1="223.9" y1="64.6" x2="274.3" y2="64.6" stroke="#9a9a9a" stroke-width="2"/>
<line x1="223.9" y1="91.3" x2="274.3" y2="91.3" stroke="#000" stroke-width="3.7"/>
<g font-size="21.15" fill="#000" stroke="#000" stroke-width="0.45">
<text x="278" y="44.7">97.5 and 2.5 percentile response spectra</text>
<text x="278" y="71.7">Response sepctra of selected records</text>
<text x="278" y="98.7">Median response spectrum</text>
</g>
</svg>
</body></html>
